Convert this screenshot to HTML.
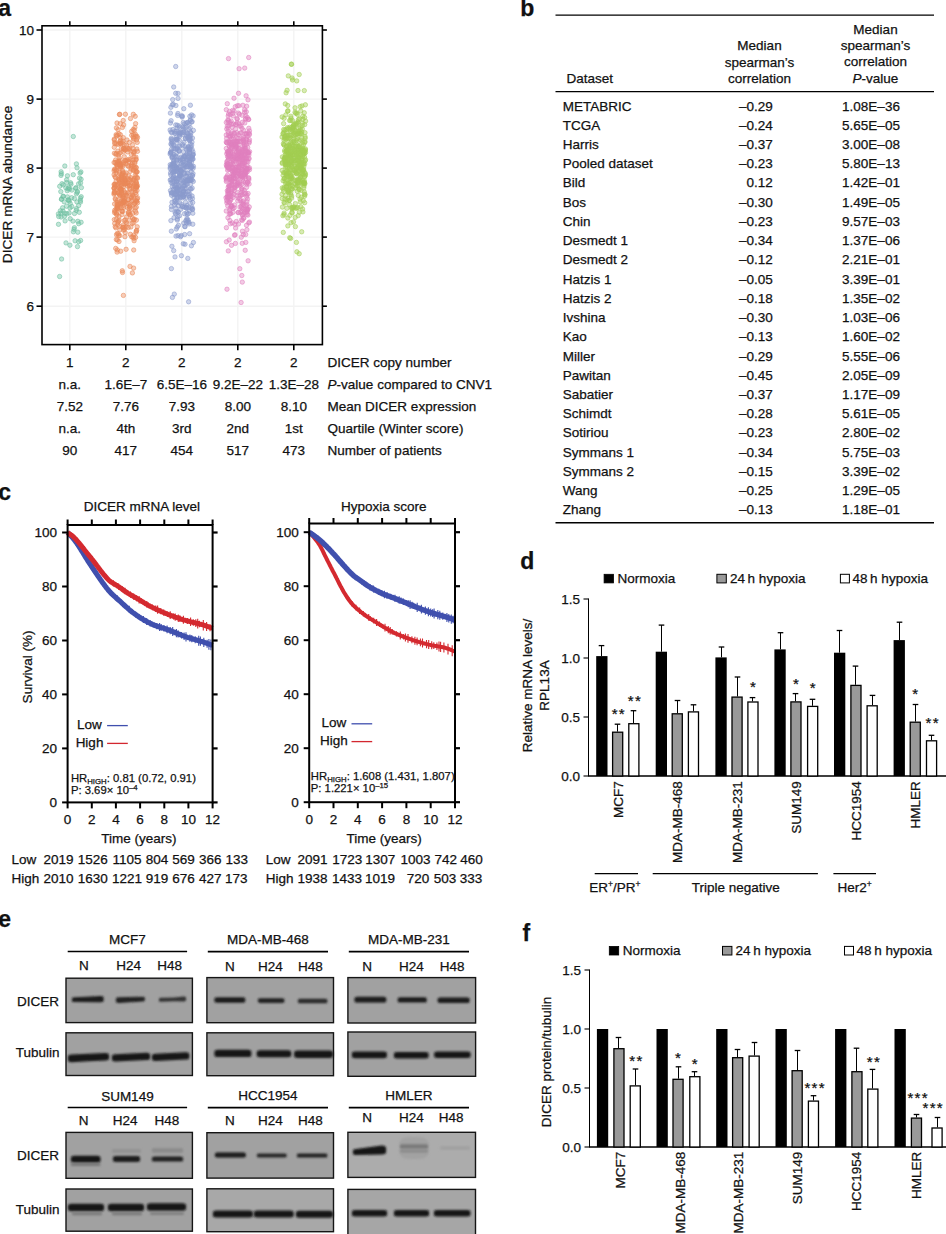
<!DOCTYPE html>
<html><head><meta charset="utf-8"><style>
html,body{margin:0;padding:0;background:#fff;}
svg{display:block;}
text{font-family:"Liberation Sans",sans-serif;fill:#111;stroke:#111;stroke-width:0.25px;}
circle{stroke-width:0.7px;}
.g0{fill:rgba(112,192,162,0.42);stroke:rgba(112,192,162,0.8);}
.g1{fill:rgba(234,136,88,0.42);stroke:rgba(234,136,88,0.8);}
.g2{fill:rgba(138,154,205,0.42);stroke:rgba(138,154,205,0.8);}
.g3{fill:rgba(224,128,190,0.42);stroke:rgba(224,128,190,0.8);}
.g4{fill:rgba(162,206,80,0.42);stroke:rgba(162,206,80,0.8);}
</style></head><body>
<svg width="946" height="1234" viewBox="0 0 946 1234">
<defs><filter id="bl" x="-20%" y="-100%" width="140%" height="300%"><feGaussianBlur stdDeviation="0.9"/></filter></defs>
<rect width="946" height="1234" fill="#fff"/>
<text x="-1.8" y="16.3" font-size="23" font-weight="bold">a</text>
<text x="520.2" y="16" font-size="23" font-weight="bold">b</text>
<text x="-1.8" y="499.6" font-size="23" font-weight="bold">c</text>
<text x="520.2" y="568.5" font-size="23" font-weight="bold">d</text>
<text x="-1.8" y="927.4" font-size="23" font-weight="bold">e</text>
<text x="522.4" y="940.8" font-size="23" font-weight="bold">f</text>
<line x1="42.0" y1="306.2" x2="322.4" y2="306.2" stroke="#f3f3f3" stroke-width="1.4"/>
<line x1="42.0" y1="237.1" x2="322.4" y2="237.1" stroke="#f3f3f3" stroke-width="1.4"/>
<line x1="42.0" y1="168.1" x2="322.4" y2="168.1" stroke="#f3f3f3" stroke-width="1.4"/>
<line x1="42.0" y1="99.1" x2="322.4" y2="99.1" stroke="#f3f3f3" stroke-width="1.4"/>
<line x1="42.0" y1="30.0" x2="322.4" y2="30.0" stroke="#f3f3f3" stroke-width="1.4"/>
<line x1="69.8" y1="25.8" x2="69.8" y2="344.6" stroke="#f3f3f3" stroke-width="1.4"/>
<line x1="125.8" y1="25.8" x2="125.8" y2="344.6" stroke="#f3f3f3" stroke-width="1.4"/>
<line x1="181.8" y1="25.8" x2="181.8" y2="344.6" stroke="#f3f3f3" stroke-width="1.4"/>
<line x1="237.8" y1="25.8" x2="237.8" y2="344.6" stroke="#f3f3f3" stroke-width="1.4"/>
<line x1="293.8" y1="25.8" x2="293.8" y2="344.6" stroke="#f3f3f3" stroke-width="1.4"/>
<circle class="g3" cx="248.3" cy="158.8" r="2.2"/>
<circle class="g1" cx="131.4" cy="197.6" r="2.2"/>
<circle class="g3" cx="229.6" cy="185.7" r="2.2"/>
<circle class="g4" cx="304.4" cy="183.1" r="2.2"/>
<circle class="g2" cx="191.4" cy="245.8" r="2.2"/>
<circle class="g4" cx="302.8" cy="142.0" r="2.2"/>
<circle class="g4" cx="296.0" cy="123.2" r="2.2"/>
<circle class="g1" cx="130.3" cy="234.3" r="2.2"/>
<circle class="g4" cx="283.0" cy="133.9" r="2.2"/>
<circle class="g3" cx="248.6" cy="177.7" r="2.2"/>
<circle class="g4" cx="303.5" cy="152.9" r="2.2"/>
<circle class="g3" cx="229.5" cy="150.3" r="2.2"/>
<circle class="g4" cx="305.5" cy="152.5" r="2.2"/>
<circle class="g0" cx="77.5" cy="246.6" r="2.2"/>
<circle class="g3" cx="237.0" cy="118.4" r="2.2"/>
<circle class="g3" cx="229.9" cy="142.6" r="2.2"/>
<circle class="g1" cx="124.0" cy="148.0" r="2.2"/>
<circle class="g2" cx="172.3" cy="186.6" r="2.2"/>
<circle class="g4" cx="291.2" cy="164.3" r="2.2"/>
<circle class="g3" cx="228.4" cy="152.9" r="2.2"/>
<circle class="g4" cx="298.3" cy="165.0" r="2.2"/>
<circle class="g4" cx="298.8" cy="128.3" r="2.2"/>
<circle class="g1" cx="132.0" cy="191.7" r="2.2"/>
<circle class="g3" cx="230.7" cy="179.4" r="2.2"/>
<circle class="g0" cx="73.0" cy="221.1" r="2.2"/>
<circle class="g3" cx="233.4" cy="159.8" r="2.2"/>
<circle class="g1" cx="127.5" cy="148.1" r="2.2"/>
<circle class="g4" cx="288.4" cy="190.6" r="2.2"/>
<circle class="g3" cx="234.1" cy="154.2" r="2.2"/>
<circle class="g1" cx="121.5" cy="193.8" r="2.2"/>
<circle class="g1" cx="136.1" cy="194.5" r="2.2"/>
<circle class="g2" cx="177.3" cy="218.9" r="2.2"/>
<circle class="g1" cx="119.5" cy="172.4" r="2.2"/>
<circle class="g4" cx="301.1" cy="181.5" r="2.2"/>
<circle class="g2" cx="181.6" cy="204.6" r="2.2"/>
<circle class="g3" cx="230.5" cy="193.6" r="2.2"/>
<circle class="g2" cx="180.2" cy="193.3" r="2.2"/>
<circle class="g2" cx="185.0" cy="244.2" r="2.2"/>
<circle class="g4" cx="297.8" cy="145.2" r="2.2"/>
<circle class="g2" cx="192.1" cy="121.6" r="2.2"/>
<circle class="g4" cx="300.9" cy="166.4" r="2.2"/>
<circle class="g2" cx="177.2" cy="148.1" r="2.2"/>
<circle class="g4" cx="293.9" cy="206.9" r="2.2"/>
<circle class="g1" cx="133.1" cy="204.7" r="2.2"/>
<circle class="g1" cx="126.1" cy="222.5" r="2.2"/>
<circle class="g3" cx="235.8" cy="159.0" r="2.2"/>
<circle class="g4" cx="299.3" cy="189.7" r="2.2"/>
<circle class="g3" cx="243.3" cy="181.3" r="2.2"/>
<circle class="g1" cx="134.4" cy="151.7" r="2.2"/>
<circle class="g2" cx="178.0" cy="93.4" r="2.2"/>
<circle class="g1" cx="129.2" cy="206.1" r="2.2"/>
<circle class="g3" cx="227.3" cy="103.7" r="2.2"/>
<circle class="g2" cx="172.1" cy="139.9" r="2.2"/>
<circle class="g1" cx="131.7" cy="135.3" r="2.2"/>
<circle class="g2" cx="183.6" cy="164.5" r="2.2"/>
<circle class="g1" cx="136.2" cy="213.0" r="2.2"/>
<circle class="g1" cx="134.0" cy="156.8" r="2.2"/>
<circle class="g1" cx="129.9" cy="205.1" r="2.2"/>
<circle class="g2" cx="193.3" cy="154.3" r="2.2"/>
<circle class="g0" cx="76.5" cy="208.6" r="2.2"/>
<circle class="g3" cx="249.4" cy="139.6" r="2.2"/>
<circle class="g0" cx="68.1" cy="200.0" r="2.2"/>
<circle class="g1" cx="136.5" cy="183.2" r="2.2"/>
<circle class="g3" cx="242.8" cy="201.8" r="2.2"/>
<circle class="g4" cx="294.6" cy="160.4" r="2.2"/>
<circle class="g4" cx="295.8" cy="171.4" r="2.2"/>
<circle class="g1" cx="133.7" cy="153.1" r="2.2"/>
<circle class="g3" cx="242.8" cy="176.7" r="2.2"/>
<circle class="g3" cx="239.1" cy="148.9" r="2.2"/>
<circle class="g3" cx="244.9" cy="168.5" r="2.2"/>
<circle class="g2" cx="191.2" cy="171.7" r="2.2"/>
<circle class="g1" cx="116.6" cy="170.0" r="2.2"/>
<circle class="g1" cx="136.1" cy="232.3" r="2.2"/>
<circle class="g1" cx="121.5" cy="194.4" r="2.2"/>
<circle class="g4" cx="282.3" cy="187.9" r="2.2"/>
<circle class="g4" cx="283.4" cy="143.7" r="2.2"/>
<circle class="g3" cx="230.7" cy="200.2" r="2.2"/>
<circle class="g3" cx="226.3" cy="164.9" r="2.2"/>
<circle class="g3" cx="247.2" cy="171.9" r="2.2"/>
<circle class="g1" cx="123.9" cy="201.2" r="2.2"/>
<circle class="g1" cx="122.2" cy="179.2" r="2.2"/>
<circle class="g4" cx="293.2" cy="146.3" r="2.2"/>
<circle class="g1" cx="118.7" cy="177.9" r="2.2"/>
<circle class="g2" cx="171.4" cy="268.6" r="2.2"/>
<circle class="g1" cx="117.8" cy="151.2" r="2.2"/>
<circle class="g4" cx="291.8" cy="212.4" r="2.2"/>
<circle class="g3" cx="228.3" cy="250.9" r="2.2"/>
<circle class="g1" cx="127.7" cy="165.8" r="2.2"/>
<circle class="g4" cx="285.6" cy="183.5" r="2.2"/>
<circle class="g4" cx="286.5" cy="162.3" r="2.2"/>
<circle class="g2" cx="184.0" cy="181.7" r="2.2"/>
<circle class="g1" cx="130.7" cy="177.7" r="2.2"/>
<circle class="g2" cx="176.2" cy="191.2" r="2.2"/>
<circle class="g0" cx="69.2" cy="212.9" r="2.2"/>
<circle class="g3" cx="227.5" cy="163.9" r="2.2"/>
<circle class="g3" cx="227.6" cy="170.2" r="2.2"/>
<circle class="g3" cx="232.1" cy="184.4" r="2.2"/>
<circle class="g1" cx="119.5" cy="226.3" r="2.2"/>
<circle class="g2" cx="171.4" cy="149.4" r="2.2"/>
<circle class="g4" cx="298.0" cy="151.4" r="2.2"/>
<circle class="g3" cx="227.9" cy="217.7" r="2.2"/>
<circle class="g2" cx="184.4" cy="123.9" r="2.2"/>
<circle class="g2" cx="186.1" cy="132.4" r="2.2"/>
<circle class="g1" cx="136.3" cy="182.6" r="2.2"/>
<circle class="g4" cx="298.0" cy="90.5" r="2.2"/>
<circle class="g4" cx="302.4" cy="169.3" r="2.2"/>
<circle class="g4" cx="291.6" cy="166.6" r="2.2"/>
<circle class="g2" cx="183.6" cy="196.5" r="2.2"/>
<circle class="g2" cx="175.2" cy="168.3" r="2.2"/>
<circle class="g1" cx="114.9" cy="211.6" r="2.2"/>
<circle class="g3" cx="226.2" cy="135.0" r="2.2"/>
<circle class="g3" cx="228.1" cy="153.1" r="2.2"/>
<circle class="g1" cx="121.3" cy="207.8" r="2.2"/>
<circle class="g4" cx="287.4" cy="168.0" r="2.2"/>
<circle class="g2" cx="174.4" cy="172.1" r="2.2"/>
<circle class="g2" cx="184.1" cy="185.5" r="2.2"/>
<circle class="g0" cx="81.1" cy="222.3" r="2.2"/>
<circle class="g3" cx="245.0" cy="171.4" r="2.2"/>
<circle class="g1" cx="120.5" cy="152.8" r="2.2"/>
<circle class="g3" cx="247.4" cy="117.5" r="2.2"/>
<circle class="g0" cx="69.5" cy="189.0" r="2.2"/>
<circle class="g1" cx="119.5" cy="182.7" r="2.2"/>
<circle class="g2" cx="191.0" cy="147.0" r="2.2"/>
<circle class="g4" cx="303.3" cy="174.2" r="2.2"/>
<circle class="g3" cx="228.5" cy="120.4" r="2.2"/>
<circle class="g2" cx="186.2" cy="149.3" r="2.2"/>
<circle class="g1" cx="118.7" cy="161.0" r="2.2"/>
<circle class="g4" cx="291.3" cy="166.2" r="2.2"/>
<circle class="g2" cx="183.7" cy="196.9" r="2.2"/>
<circle class="g4" cx="299.2" cy="253.7" r="2.2"/>
<circle class="g4" cx="298.5" cy="133.4" r="2.2"/>
<circle class="g3" cx="228.2" cy="187.2" r="2.2"/>
<circle class="g4" cx="294.7" cy="130.0" r="2.2"/>
<circle class="g3" cx="241.7" cy="173.4" r="2.2"/>
<circle class="g4" cx="302.6" cy="171.2" r="2.2"/>
<circle class="g3" cx="241.6" cy="219.7" r="2.2"/>
<circle class="g3" cx="229.1" cy="202.1" r="2.2"/>
<circle class="g4" cx="295.0" cy="112.3" r="2.2"/>
<circle class="g1" cx="123.2" cy="225.1" r="2.2"/>
<circle class="g1" cx="126.1" cy="249.3" r="2.2"/>
<circle class="g4" cx="286.8" cy="149.9" r="2.2"/>
<circle class="g3" cx="244.6" cy="109.8" r="2.2"/>
<circle class="g3" cx="243.6" cy="138.9" r="2.2"/>
<circle class="g3" cx="248.6" cy="152.8" r="2.2"/>
<circle class="g0" cx="77.8" cy="232.2" r="2.2"/>
<circle class="g3" cx="236.6" cy="147.4" r="2.2"/>
<circle class="g2" cx="180.2" cy="181.6" r="2.2"/>
<circle class="g2" cx="191.7" cy="145.0" r="2.2"/>
<circle class="g4" cx="298.7" cy="161.5" r="2.2"/>
<circle class="g2" cx="190.5" cy="184.4" r="2.2"/>
<circle class="g1" cx="118.9" cy="179.9" r="2.2"/>
<circle class="g0" cx="65.8" cy="187.8" r="2.2"/>
<circle class="g2" cx="188.8" cy="178.1" r="2.2"/>
<circle class="g4" cx="289.7" cy="162.8" r="2.2"/>
<circle class="g4" cx="304.0" cy="150.7" r="2.2"/>
<circle class="g1" cx="132.5" cy="162.9" r="2.2"/>
<circle class="g2" cx="187.3" cy="184.2" r="2.2"/>
<circle class="g4" cx="302.9" cy="211.9" r="2.2"/>
<circle class="g4" cx="288.4" cy="183.6" r="2.2"/>
<circle class="g2" cx="190.2" cy="120.3" r="2.2"/>
<circle class="g2" cx="179.3" cy="187.2" r="2.2"/>
<circle class="g4" cx="305.4" cy="104.8" r="2.2"/>
<circle class="g1" cx="115.0" cy="184.1" r="2.2"/>
<circle class="g2" cx="189.5" cy="210.7" r="2.2"/>
<circle class="g3" cx="226.7" cy="142.7" r="2.2"/>
<circle class="g2" cx="192.3" cy="157.1" r="2.2"/>
<circle class="g2" cx="183.1" cy="159.7" r="2.2"/>
<circle class="g1" cx="127.8" cy="186.1" r="2.2"/>
<circle class="g3" cx="238.2" cy="212.5" r="2.2"/>
<circle class="g4" cx="289.2" cy="173.0" r="2.2"/>
<circle class="g1" cx="114.7" cy="223.4" r="2.2"/>
<circle class="g1" cx="129.1" cy="179.7" r="2.2"/>
<circle class="g4" cx="283.1" cy="175.3" r="2.2"/>
<circle class="g2" cx="189.9" cy="116.2" r="2.2"/>
<circle class="g4" cx="292.2" cy="177.5" r="2.2"/>
<circle class="g3" cx="242.3" cy="282.1" r="2.2"/>
<circle class="g4" cx="286.3" cy="151.2" r="2.2"/>
<circle class="g3" cx="235.1" cy="234.8" r="2.2"/>
<circle class="g1" cx="120.1" cy="182.8" r="2.2"/>
<circle class="g3" cx="226.6" cy="138.5" r="2.2"/>
<circle class="g4" cx="302.6" cy="209.0" r="2.2"/>
<circle class="g1" cx="126.9" cy="207.3" r="2.2"/>
<circle class="g2" cx="180.1" cy="186.5" r="2.2"/>
<circle class="g2" cx="172.7" cy="99.6" r="2.2"/>
<circle class="g3" cx="228.2" cy="157.0" r="2.2"/>
<circle class="g2" cx="176.7" cy="170.3" r="2.2"/>
<circle class="g3" cx="241.1" cy="302.5" r="2.2"/>
<circle class="g1" cx="114.6" cy="212.7" r="2.2"/>
<circle class="g3" cx="241.3" cy="171.7" r="2.2"/>
<circle class="g4" cx="288.1" cy="163.4" r="2.2"/>
<circle class="g4" cx="296.9" cy="186.1" r="2.2"/>
<circle class="g1" cx="136.3" cy="207.2" r="2.2"/>
<circle class="g3" cx="227.6" cy="161.0" r="2.2"/>
<circle class="g4" cx="285.3" cy="103.9" r="2.2"/>
<circle class="g1" cx="131.1" cy="169.0" r="2.2"/>
<circle class="g1" cx="116.1" cy="173.1" r="2.2"/>
<circle class="g3" cx="249.4" cy="167.8" r="2.2"/>
<circle class="g4" cx="289.2" cy="164.3" r="2.2"/>
<circle class="g4" cx="292.0" cy="208.9" r="2.2"/>
<circle class="g2" cx="174.5" cy="165.7" r="2.2"/>
<circle class="g2" cx="173.6" cy="144.4" r="2.2"/>
<circle class="g2" cx="182.7" cy="134.4" r="2.2"/>
<circle class="g3" cx="234.2" cy="190.4" r="2.2"/>
<circle class="g4" cx="282.0" cy="137.0" r="2.2"/>
<circle class="g2" cx="170.8" cy="152.0" r="2.2"/>
<circle class="g3" cx="245.5" cy="119.1" r="2.2"/>
<circle class="g4" cx="295.9" cy="180.7" r="2.2"/>
<circle class="g0" cx="73.3" cy="174.7" r="2.2"/>
<circle class="g2" cx="174.7" cy="149.0" r="2.2"/>
<circle class="g2" cx="176.6" cy="211.5" r="2.2"/>
<circle class="g1" cx="124.2" cy="144.6" r="2.2"/>
<circle class="g2" cx="180.6" cy="175.4" r="2.2"/>
<circle class="g4" cx="298.2" cy="215.6" r="2.2"/>
<circle class="g3" cx="232.6" cy="176.0" r="2.2"/>
<circle class="g3" cx="241.6" cy="152.4" r="2.2"/>
<circle class="g0" cx="58.5" cy="224.3" r="2.2"/>
<circle class="g3" cx="237.2" cy="122.8" r="2.2"/>
<circle class="g2" cx="175.3" cy="170.9" r="2.2"/>
<circle class="g2" cx="175.0" cy="185.4" r="2.2"/>
<circle class="g2" cx="174.5" cy="186.8" r="2.2"/>
<circle class="g3" cx="227.0" cy="163.6" r="2.2"/>
<circle class="g0" cx="80.6" cy="240.5" r="2.2"/>
<circle class="g2" cx="177.1" cy="187.8" r="2.2"/>
<circle class="g4" cx="291.3" cy="64.2" r="2.2"/>
<circle class="g2" cx="177.3" cy="125.2" r="2.2"/>
<circle class="g2" cx="190.4" cy="203.1" r="2.2"/>
<circle class="g3" cx="232.5" cy="171.0" r="2.2"/>
<circle class="g4" cx="289.1" cy="135.2" r="2.2"/>
<circle class="g2" cx="189.1" cy="223.9" r="2.2"/>
<circle class="g4" cx="303.1" cy="153.9" r="2.2"/>
<circle class="g2" cx="172.3" cy="104.8" r="2.2"/>
<circle class="g1" cx="114.1" cy="162.5" r="2.2"/>
<circle class="g3" cx="231.3" cy="205.3" r="2.2"/>
<circle class="g3" cx="238.2" cy="138.3" r="2.2"/>
<circle class="g2" cx="176.9" cy="149.0" r="2.2"/>
<circle class="g2" cx="183.3" cy="243.8" r="2.2"/>
<circle class="g4" cx="299.2" cy="157.3" r="2.2"/>
<circle class="g4" cx="303.7" cy="151.9" r="2.2"/>
<circle class="g4" cx="290.6" cy="147.9" r="2.2"/>
<circle class="g1" cx="129.6" cy="220.1" r="2.2"/>
<circle class="g3" cx="230.7" cy="164.1" r="2.2"/>
<circle class="g2" cx="179.6" cy="127.7" r="2.2"/>
<circle class="g2" cx="192.6" cy="155.5" r="2.2"/>
<circle class="g2" cx="177.6" cy="139.3" r="2.2"/>
<circle class="g4" cx="287.5" cy="176.8" r="2.2"/>
<circle class="g3" cx="226.3" cy="109.7" r="2.2"/>
<circle class="g3" cx="244.5" cy="156.3" r="2.2"/>
<circle class="g3" cx="239.8" cy="161.9" r="2.2"/>
<circle class="g4" cx="304.9" cy="183.5" r="2.2"/>
<circle class="g3" cx="232.3" cy="174.4" r="2.2"/>
<circle class="g4" cx="297.6" cy="133.8" r="2.2"/>
<circle class="g2" cx="179.7" cy="176.2" r="2.2"/>
<circle class="g3" cx="230.0" cy="141.8" r="2.2"/>
<circle class="g1" cx="114.3" cy="139.9" r="2.2"/>
<circle class="g4" cx="298.1" cy="146.8" r="2.2"/>
<circle class="g4" cx="300.6" cy="155.1" r="2.2"/>
<circle class="g4" cx="303.6" cy="169.9" r="2.2"/>
<circle class="g3" cx="226.7" cy="200.3" r="2.2"/>
<circle class="g2" cx="189.1" cy="180.4" r="2.2"/>
<circle class="g3" cx="240.9" cy="176.0" r="2.2"/>
<circle class="g4" cx="302.3" cy="173.2" r="2.2"/>
<circle class="g2" cx="177.3" cy="227.0" r="2.2"/>
<circle class="g2" cx="186.7" cy="212.7" r="2.2"/>
<circle class="g3" cx="245.8" cy="170.2" r="2.2"/>
<circle class="g1" cx="117.6" cy="184.5" r="2.2"/>
<circle class="g2" cx="185.7" cy="207.7" r="2.2"/>
<circle class="g4" cx="300.7" cy="148.7" r="2.2"/>
<circle class="g2" cx="188.7" cy="147.2" r="2.2"/>
<circle class="g4" cx="301.2" cy="174.9" r="2.2"/>
<circle class="g3" cx="232.1" cy="142.6" r="2.2"/>
<circle class="g1" cx="122.0" cy="211.2" r="2.2"/>
<circle class="g4" cx="286.6" cy="188.6" r="2.2"/>
<circle class="g4" cx="292.5" cy="188.9" r="2.2"/>
<circle class="g3" cx="231.3" cy="191.7" r="2.2"/>
<circle class="g3" cx="244.9" cy="133.8" r="2.2"/>
<circle class="g3" cx="246.6" cy="106.2" r="2.2"/>
<circle class="g2" cx="176.3" cy="181.6" r="2.2"/>
<circle class="g3" cx="243.5" cy="218.2" r="2.2"/>
<circle class="g2" cx="171.0" cy="179.7" r="2.2"/>
<circle class="g2" cx="179.3" cy="151.4" r="2.2"/>
<circle class="g2" cx="180.1" cy="193.8" r="2.2"/>
<circle class="g1" cx="119.8" cy="235.6" r="2.2"/>
<circle class="g4" cx="301.9" cy="137.8" r="2.2"/>
<circle class="g1" cx="117.8" cy="222.2" r="2.2"/>
<circle class="g4" cx="284.8" cy="151.7" r="2.2"/>
<circle class="g2" cx="186.1" cy="123.1" r="2.2"/>
<circle class="g1" cx="124.3" cy="156.7" r="2.2"/>
<circle class="g4" cx="297.6" cy="179.5" r="2.2"/>
<circle class="g3" cx="246.7" cy="184.2" r="2.2"/>
<circle class="g2" cx="183.7" cy="185.8" r="2.2"/>
<circle class="g2" cx="186.1" cy="183.8" r="2.2"/>
<circle class="g4" cx="288.7" cy="142.3" r="2.2"/>
<circle class="g2" cx="190.6" cy="179.6" r="2.2"/>
<circle class="g2" cx="172.6" cy="172.8" r="2.2"/>
<circle class="g1" cx="131.4" cy="209.0" r="2.2"/>
<circle class="g3" cx="247.9" cy="215.1" r="2.2"/>
<circle class="g2" cx="179.6" cy="173.6" r="2.2"/>
<circle class="g4" cx="297.3" cy="148.9" r="2.2"/>
<circle class="g3" cx="234.0" cy="172.4" r="2.2"/>
<circle class="g4" cx="292.7" cy="154.2" r="2.2"/>
<circle class="g3" cx="234.1" cy="111.0" r="2.2"/>
<circle class="g3" cx="231.2" cy="121.0" r="2.2"/>
<circle class="g3" cx="243.2" cy="137.1" r="2.2"/>
<circle class="g3" cx="236.9" cy="141.5" r="2.2"/>
<circle class="g0" cx="71.7" cy="197.7" r="2.2"/>
<circle class="g3" cx="246.5" cy="168.8" r="2.2"/>
<circle class="g3" cx="240.6" cy="200.7" r="2.2"/>
<circle class="g1" cx="127.0" cy="223.9" r="2.2"/>
<circle class="g3" cx="240.6" cy="212.3" r="2.2"/>
<circle class="g2" cx="184.9" cy="173.4" r="2.2"/>
<circle class="g4" cx="290.0" cy="182.5" r="2.2"/>
<circle class="g2" cx="186.0" cy="175.9" r="2.2"/>
<circle class="g4" cx="292.5" cy="80.0" r="2.2"/>
<circle class="g2" cx="184.7" cy="234.5" r="2.2"/>
<circle class="g1" cx="130.1" cy="215.0" r="2.2"/>
<circle class="g3" cx="230.1" cy="142.2" r="2.2"/>
<circle class="g1" cx="117.4" cy="239.9" r="2.2"/>
<circle class="g3" cx="244.0" cy="204.9" r="2.2"/>
<circle class="g1" cx="130.3" cy="189.5" r="2.2"/>
<circle class="g3" cx="245.3" cy="173.1" r="2.2"/>
<circle class="g3" cx="232.4" cy="156.0" r="2.2"/>
<circle class="g2" cx="189.0" cy="129.3" r="2.2"/>
<circle class="g1" cx="128.9" cy="175.9" r="2.2"/>
<circle class="g3" cx="244.8" cy="171.0" r="2.2"/>
<circle class="g2" cx="189.5" cy="151.5" r="2.2"/>
<circle class="g2" cx="187.7" cy="137.8" r="2.2"/>
<circle class="g4" cx="285.7" cy="162.4" r="2.2"/>
<circle class="g1" cx="127.5" cy="160.1" r="2.2"/>
<circle class="g3" cx="240.2" cy="168.4" r="2.2"/>
<circle class="g3" cx="242.2" cy="169.5" r="2.2"/>
<circle class="g1" cx="136.2" cy="159.1" r="2.2"/>
<circle class="g2" cx="190.6" cy="168.6" r="2.2"/>
<circle class="g3" cx="230.9" cy="198.6" r="2.2"/>
<circle class="g2" cx="186.7" cy="180.0" r="2.2"/>
<circle class="g4" cx="289.1" cy="172.8" r="2.2"/>
<circle class="g1" cx="126.1" cy="227.1" r="2.2"/>
<circle class="g3" cx="230.9" cy="196.4" r="2.2"/>
<circle class="g1" cx="124.9" cy="236.7" r="2.2"/>
<circle class="g3" cx="237.7" cy="170.7" r="2.2"/>
<circle class="g4" cx="298.9" cy="157.6" r="2.2"/>
<circle class="g1" cx="131.2" cy="196.7" r="2.2"/>
<circle class="g1" cx="127.9" cy="178.8" r="2.2"/>
<circle class="g4" cx="304.7" cy="124.6" r="2.2"/>
<circle class="g0" cx="59.7" cy="186.3" r="2.2"/>
<circle class="g2" cx="176.0" cy="184.3" r="2.2"/>
<circle class="g1" cx="120.7" cy="251.2" r="2.2"/>
<circle class="g2" cx="170.9" cy="220.6" r="2.2"/>
<circle class="g2" cx="192.5" cy="138.1" r="2.2"/>
<circle class="g2" cx="178.4" cy="182.3" r="2.2"/>
<circle class="g4" cx="286.7" cy="160.9" r="2.2"/>
<circle class="g4" cx="299.4" cy="146.5" r="2.2"/>
<circle class="g4" cx="304.8" cy="172.5" r="2.2"/>
<circle class="g0" cx="74.0" cy="229.3" r="2.2"/>
<circle class="g3" cx="239.9" cy="154.1" r="2.2"/>
<circle class="g4" cx="297.6" cy="171.9" r="2.2"/>
<circle class="g1" cx="117.3" cy="249.9" r="2.2"/>
<circle class="g3" cx="241.6" cy="176.3" r="2.2"/>
<circle class="g1" cx="121.8" cy="189.6" r="2.2"/>
<circle class="g4" cx="290.0" cy="153.8" r="2.2"/>
<circle class="g1" cx="117.4" cy="135.2" r="2.2"/>
<circle class="g3" cx="238.5" cy="93.3" r="2.2"/>
<circle class="g1" cx="119.8" cy="229.9" r="2.2"/>
<circle class="g3" cx="228.4" cy="166.9" r="2.2"/>
<circle class="g4" cx="302.4" cy="123.1" r="2.2"/>
<circle class="g3" cx="234.2" cy="143.1" r="2.2"/>
<circle class="g4" cx="300.8" cy="151.7" r="2.2"/>
<circle class="g1" cx="118.7" cy="221.4" r="2.2"/>
<circle class="g3" cx="230.2" cy="213.1" r="2.2"/>
<circle class="g4" cx="295.5" cy="188.0" r="2.2"/>
<circle class="g3" cx="242.9" cy="149.4" r="2.2"/>
<circle class="g1" cx="118.7" cy="164.4" r="2.2"/>
<circle class="g2" cx="178.2" cy="205.8" r="2.2"/>
<circle class="g4" cx="295.5" cy="134.8" r="2.2"/>
<circle class="g2" cx="174.0" cy="217.7" r="2.2"/>
<circle class="g0" cx="58.4" cy="213.9" r="2.2"/>
<circle class="g1" cx="117.3" cy="206.5" r="2.2"/>
<circle class="g4" cx="300.5" cy="167.9" r="2.2"/>
<circle class="g4" cx="301.4" cy="197.2" r="2.2"/>
<circle class="g3" cx="241.8" cy="188.9" r="2.2"/>
<circle class="g2" cx="191.7" cy="167.3" r="2.2"/>
<circle class="g2" cx="171.5" cy="193.0" r="2.2"/>
<circle class="g1" cx="119.7" cy="174.0" r="2.2"/>
<circle class="g4" cx="301.8" cy="173.4" r="2.2"/>
<circle class="g2" cx="179.7" cy="136.1" r="2.2"/>
<circle class="g2" cx="186.5" cy="180.9" r="2.2"/>
<circle class="g2" cx="175.5" cy="149.1" r="2.2"/>
<circle class="g2" cx="176.4" cy="156.7" r="2.2"/>
<circle class="g1" cx="120.1" cy="165.4" r="2.2"/>
<circle class="g1" cx="122.6" cy="227.3" r="2.2"/>
<circle class="g2" cx="179.5" cy="175.8" r="2.2"/>
<circle class="g2" cx="186.9" cy="205.5" r="2.2"/>
<circle class="g1" cx="115.6" cy="199.4" r="2.2"/>
<circle class="g3" cx="227.2" cy="196.9" r="2.2"/>
<circle class="g1" cx="135.2" cy="175.2" r="2.2"/>
<circle class="g2" cx="185.6" cy="192.0" r="2.2"/>
<circle class="g4" cx="297.5" cy="182.5" r="2.2"/>
<circle class="g4" cx="287.1" cy="90.3" r="2.2"/>
<circle class="g1" cx="134.9" cy="127.4" r="2.2"/>
<circle class="g2" cx="177.0" cy="165.6" r="2.2"/>
<circle class="g4" cx="291.3" cy="178.0" r="2.2"/>
<circle class="g0" cx="76.4" cy="163.9" r="2.2"/>
<circle class="g0" cx="76.4" cy="193.9" r="2.2"/>
<circle class="g4" cx="284.4" cy="145.4" r="2.2"/>
<circle class="g1" cx="114.3" cy="147.3" r="2.2"/>
<circle class="g1" cx="119.4" cy="114.5" r="2.2"/>
<circle class="g3" cx="238.1" cy="184.8" r="2.2"/>
<circle class="g3" cx="229.6" cy="155.7" r="2.2"/>
<circle class="g3" cx="230.5" cy="143.8" r="2.2"/>
<circle class="g3" cx="229.9" cy="169.1" r="2.2"/>
<circle class="g1" cx="122.8" cy="211.5" r="2.2"/>
<circle class="g2" cx="174.3" cy="169.8" r="2.2"/>
<circle class="g1" cx="131.4" cy="164.6" r="2.2"/>
<circle class="g1" cx="134.3" cy="130.2" r="2.2"/>
<circle class="g1" cx="123.3" cy="195.7" r="2.2"/>
<circle class="g1" cx="120.9" cy="143.7" r="2.2"/>
<circle class="g4" cx="286.4" cy="186.9" r="2.2"/>
<circle class="g2" cx="174.0" cy="197.7" r="2.2"/>
<circle class="g3" cx="233.4" cy="170.2" r="2.2"/>
<circle class="g3" cx="237.0" cy="185.7" r="2.2"/>
<circle class="g2" cx="190.4" cy="156.5" r="2.2"/>
<circle class="g0" cx="69.2" cy="201.1" r="2.2"/>
<circle class="g3" cx="242.1" cy="194.8" r="2.2"/>
<circle class="g2" cx="171.1" cy="165.8" r="2.2"/>
<circle class="g4" cx="289.6" cy="120.5" r="2.2"/>
<circle class="g1" cx="116.8" cy="214.9" r="2.2"/>
<circle class="g2" cx="177.9" cy="178.2" r="2.2"/>
<circle class="g4" cx="288.6" cy="144.8" r="2.2"/>
<circle class="g2" cx="189.5" cy="140.7" r="2.2"/>
<circle class="g3" cx="247.2" cy="211.4" r="2.2"/>
<circle class="g1" cx="134.4" cy="178.3" r="2.2"/>
<circle class="g4" cx="284.1" cy="118.3" r="2.2"/>
<circle class="g3" cx="243.5" cy="158.6" r="2.2"/>
<circle class="g1" cx="119.6" cy="194.4" r="2.2"/>
<circle class="g4" cx="298.8" cy="182.0" r="2.2"/>
<circle class="g1" cx="137.5" cy="137.6" r="2.2"/>
<circle class="g3" cx="234.8" cy="224.2" r="2.2"/>
<circle class="g4" cx="298.9" cy="131.6" r="2.2"/>
<circle class="g2" cx="180.8" cy="194.0" r="2.2"/>
<circle class="g0" cx="81.2" cy="196.7" r="2.2"/>
<circle class="g3" cx="246.1" cy="95.8" r="2.2"/>
<circle class="g4" cx="284.1" cy="213.1" r="2.2"/>
<circle class="g1" cx="114.4" cy="153.2" r="2.2"/>
<circle class="g3" cx="235.3" cy="178.6" r="2.2"/>
<circle class="g2" cx="190.5" cy="176.4" r="2.2"/>
<circle class="g0" cx="66.5" cy="206.2" r="2.2"/>
<circle class="g2" cx="170.5" cy="173.0" r="2.2"/>
<circle class="g1" cx="114.3" cy="139.1" r="2.2"/>
<circle class="g1" cx="133.2" cy="129.5" r="2.2"/>
<circle class="g4" cx="286.4" cy="174.7" r="2.2"/>
<circle class="g3" cx="235.0" cy="181.8" r="2.2"/>
<circle class="g4" cx="294.6" cy="166.4" r="2.2"/>
<circle class="g2" cx="170.1" cy="130.0" r="2.2"/>
<circle class="g2" cx="191.6" cy="114.9" r="2.2"/>
<circle class="g1" cx="122.9" cy="171.8" r="2.2"/>
<circle class="g2" cx="192.0" cy="142.1" r="2.2"/>
<circle class="g1" cx="115.1" cy="193.2" r="2.2"/>
<circle class="g3" cx="227.7" cy="201.5" r="2.2"/>
<circle class="g2" cx="176.9" cy="140.8" r="2.2"/>
<circle class="g2" cx="171.3" cy="152.0" r="2.2"/>
<circle class="g2" cx="180.9" cy="170.6" r="2.2"/>
<circle class="g2" cx="191.3" cy="156.8" r="2.2"/>
<circle class="g3" cx="248.0" cy="161.8" r="2.2"/>
<circle class="g3" cx="242.7" cy="208.8" r="2.2"/>
<circle class="g0" cx="75.7" cy="188.2" r="2.2"/>
<circle class="g0" cx="80.9" cy="171.9" r="2.2"/>
<circle class="g3" cx="235.6" cy="228.0" r="2.2"/>
<circle class="g1" cx="133.2" cy="148.8" r="2.2"/>
<circle class="g3" cx="235.3" cy="106.6" r="2.2"/>
<circle class="g2" cx="181.4" cy="255.7" r="2.2"/>
<circle class="g3" cx="242.1" cy="159.7" r="2.2"/>
<circle class="g2" cx="190.0" cy="180.6" r="2.2"/>
<circle class="g1" cx="136.8" cy="149.0" r="2.2"/>
<circle class="g1" cx="126.4" cy="217.0" r="2.2"/>
<circle class="g1" cx="122.5" cy="272.5" r="2.2"/>
<circle class="g2" cx="187.2" cy="214.3" r="2.2"/>
<circle class="g1" cx="130.4" cy="180.0" r="2.2"/>
<circle class="g1" cx="135.9" cy="157.1" r="2.2"/>
<circle class="g1" cx="120.4" cy="134.7" r="2.2"/>
<circle class="g1" cx="124.4" cy="175.5" r="2.2"/>
<circle class="g3" cx="246.1" cy="206.0" r="2.2"/>
<circle class="g1" cx="114.5" cy="191.3" r="2.2"/>
<circle class="g2" cx="172.8" cy="178.1" r="2.2"/>
<circle class="g4" cx="301.6" cy="161.9" r="2.2"/>
<circle class="g1" cx="120.7" cy="189.1" r="2.2"/>
<circle class="g3" cx="245.0" cy="166.5" r="2.2"/>
<circle class="g0" cx="77.3" cy="192.4" r="2.2"/>
<circle class="g1" cx="122.4" cy="198.3" r="2.2"/>
<circle class="g4" cx="304.7" cy="163.9" r="2.2"/>
<circle class="g3" cx="235.7" cy="146.8" r="2.2"/>
<circle class="g4" cx="289.7" cy="137.7" r="2.2"/>
<circle class="g4" cx="297.3" cy="191.3" r="2.2"/>
<circle class="g1" cx="134.1" cy="240.7" r="2.2"/>
<circle class="g0" cx="61.5" cy="199.3" r="2.2"/>
<circle class="g1" cx="124.2" cy="178.0" r="2.2"/>
<circle class="g4" cx="282.2" cy="198.5" r="2.2"/>
<circle class="g3" cx="230.0" cy="122.4" r="2.2"/>
<circle class="g4" cx="292.1" cy="127.0" r="2.2"/>
<circle class="g2" cx="178.6" cy="169.0" r="2.2"/>
<circle class="g1" cx="124.0" cy="201.6" r="2.2"/>
<circle class="g3" cx="231.7" cy="179.3" r="2.2"/>
<circle class="g4" cx="296.7" cy="80.9" r="2.2"/>
<circle class="g4" cx="294.3" cy="170.7" r="2.2"/>
<circle class="g1" cx="134.1" cy="166.8" r="2.2"/>
<circle class="g1" cx="137.4" cy="178.3" r="2.2"/>
<circle class="g2" cx="179.2" cy="150.3" r="2.2"/>
<circle class="g3" cx="231.5" cy="245.3" r="2.2"/>
<circle class="g1" cx="117.7" cy="224.5" r="2.2"/>
<circle class="g1" cx="132.5" cy="218.2" r="2.2"/>
<circle class="g3" cx="233.3" cy="115.9" r="2.2"/>
<circle class="g1" cx="121.7" cy="174.6" r="2.2"/>
<circle class="g3" cx="238.8" cy="148.3" r="2.2"/>
<circle class="g3" cx="227.1" cy="176.9" r="2.2"/>
<circle class="g4" cx="282.1" cy="116.9" r="2.2"/>
<circle class="g3" cx="247.6" cy="198.9" r="2.2"/>
<circle class="g3" cx="247.5" cy="182.5" r="2.2"/>
<circle class="g2" cx="175.7" cy="124.9" r="2.2"/>
<circle class="g0" cx="79.3" cy="212.3" r="2.2"/>
<circle class="g1" cx="117.3" cy="209.0" r="2.2"/>
<circle class="g2" cx="183.3" cy="191.4" r="2.2"/>
<circle class="g1" cx="123.5" cy="151.4" r="2.2"/>
<circle class="g3" cx="232.0" cy="170.7" r="2.2"/>
<circle class="g0" cx="73.3" cy="136.5" r="2.2"/>
<circle class="g4" cx="299.2" cy="162.6" r="2.2"/>
<circle class="g3" cx="245.8" cy="116.0" r="2.2"/>
<circle class="g3" cx="226.8" cy="202.8" r="2.2"/>
<circle class="g2" cx="179.9" cy="134.1" r="2.2"/>
<circle class="g4" cx="284.2" cy="159.4" r="2.2"/>
<circle class="g4" cx="282.4" cy="162.5" r="2.2"/>
<circle class="g2" cx="177.1" cy="201.8" r="2.2"/>
<circle class="g3" cx="228.8" cy="152.8" r="2.2"/>
<circle class="g3" cx="245.8" cy="242.4" r="2.2"/>
<circle class="g3" cx="231.5" cy="124.3" r="2.2"/>
<circle class="g0" cx="62.0" cy="183.7" r="2.2"/>
<circle class="g3" cx="229.3" cy="186.1" r="2.2"/>
<circle class="g2" cx="192.2" cy="175.4" r="2.2"/>
<circle class="g2" cx="170.9" cy="144.0" r="2.2"/>
<circle class="g3" cx="241.0" cy="126.2" r="2.2"/>
<circle class="g2" cx="186.1" cy="197.6" r="2.2"/>
<circle class="g4" cx="300.8" cy="111.0" r="2.2"/>
<circle class="g1" cx="131.5" cy="182.5" r="2.2"/>
<circle class="g1" cx="129.7" cy="185.4" r="2.2"/>
<circle class="g4" cx="286.0" cy="171.5" r="2.2"/>
<circle class="g4" cx="297.0" cy="123.6" r="2.2"/>
<circle class="g4" cx="297.0" cy="160.6" r="2.2"/>
<circle class="g3" cx="245.7" cy="148.3" r="2.2"/>
<circle class="g2" cx="190.7" cy="179.9" r="2.2"/>
<circle class="g2" cx="189.6" cy="197.3" r="2.2"/>
<circle class="g4" cx="282.9" cy="215.7" r="2.2"/>
<circle class="g1" cx="131.1" cy="166.2" r="2.2"/>
<circle class="g2" cx="173.8" cy="145.4" r="2.2"/>
<circle class="g1" cx="136.9" cy="136.2" r="2.2"/>
<circle class="g2" cx="176.1" cy="131.3" r="2.2"/>
<circle class="g1" cx="129.9" cy="207.4" r="2.2"/>
<circle class="g1" cx="125.2" cy="232.6" r="2.2"/>
<circle class="g3" cx="246.9" cy="229.7" r="2.2"/>
<circle class="g0" cx="79.5" cy="178.1" r="2.2"/>
<circle class="g2" cx="176.1" cy="194.4" r="2.2"/>
<circle class="g3" cx="240.3" cy="163.7" r="2.2"/>
<circle class="g4" cx="294.0" cy="142.6" r="2.2"/>
<circle class="g2" cx="183.8" cy="108.7" r="2.2"/>
<circle class="g2" cx="187.6" cy="180.7" r="2.2"/>
<circle class="g1" cx="129.0" cy="159.2" r="2.2"/>
<circle class="g1" cx="129.7" cy="148.2" r="2.2"/>
<circle class="g4" cx="289.9" cy="215.4" r="2.2"/>
<circle class="g1" cx="124.0" cy="177.9" r="2.2"/>
<circle class="g3" cx="233.1" cy="212.3" r="2.2"/>
<circle class="g2" cx="175.9" cy="208.3" r="2.2"/>
<circle class="g4" cx="299.3" cy="179.2" r="2.2"/>
<circle class="g2" cx="176.5" cy="160.9" r="2.2"/>
<circle class="g2" cx="174.3" cy="182.2" r="2.2"/>
<circle class="g3" cx="238.4" cy="134.8" r="2.2"/>
<circle class="g4" cx="287.7" cy="105.5" r="2.2"/>
<circle class="g3" cx="227.3" cy="126.3" r="2.2"/>
<circle class="g3" cx="231.4" cy="149.0" r="2.2"/>
<circle class="g4" cx="284.1" cy="140.4" r="2.2"/>
<circle class="g3" cx="232.6" cy="110.4" r="2.2"/>
<circle class="g2" cx="193.1" cy="168.3" r="2.2"/>
<circle class="g3" cx="228.9" cy="125.7" r="2.2"/>
<circle class="g1" cx="136.0" cy="159.9" r="2.2"/>
<circle class="g4" cx="290.0" cy="186.0" r="2.2"/>
<circle class="g3" cx="242.3" cy="215.0" r="2.2"/>
<circle class="g4" cx="300.9" cy="168.9" r="2.2"/>
<circle class="g4" cx="284.7" cy="150.3" r="2.2"/>
<circle class="g1" cx="123.7" cy="162.7" r="2.2"/>
<circle class="g3" cx="234.8" cy="178.4" r="2.2"/>
<circle class="g2" cx="175.7" cy="93.3" r="2.2"/>
<circle class="g3" cx="240.1" cy="176.0" r="2.2"/>
<circle class="g1" cx="126.0" cy="195.0" r="2.2"/>
<circle class="g2" cx="170.8" cy="175.0" r="2.2"/>
<circle class="g4" cx="289.1" cy="168.5" r="2.2"/>
<circle class="g1" cx="136.8" cy="201.1" r="2.2"/>
<circle class="g2" cx="192.6" cy="209.0" r="2.2"/>
<circle class="g1" cx="123.2" cy="120.5" r="2.2"/>
<circle class="g3" cx="235.9" cy="145.6" r="2.2"/>
<circle class="g4" cx="288.6" cy="192.5" r="2.2"/>
<circle class="g0" cx="64.8" cy="213.3" r="2.2"/>
<circle class="g4" cx="299.3" cy="141.6" r="2.2"/>
<circle class="g3" cx="237.2" cy="119.2" r="2.2"/>
<circle class="g4" cx="285.8" cy="162.8" r="2.2"/>
<circle class="g3" cx="245.4" cy="168.4" r="2.2"/>
<circle class="g2" cx="187.7" cy="164.8" r="2.2"/>
<circle class="g3" cx="246.6" cy="133.9" r="2.2"/>
<circle class="g1" cx="114.8" cy="143.7" r="2.2"/>
<circle class="g1" cx="125.2" cy="192.7" r="2.2"/>
<circle class="g3" cx="235.1" cy="187.3" r="2.2"/>
<circle class="g3" cx="236.4" cy="144.4" r="2.2"/>
<circle class="g3" cx="248.8" cy="179.9" r="2.2"/>
<circle class="g4" cx="301.4" cy="159.0" r="2.2"/>
<circle class="g3" cx="234.3" cy="207.7" r="2.2"/>
<circle class="g3" cx="230.7" cy="182.1" r="2.2"/>
<circle class="g4" cx="293.9" cy="158.4" r="2.2"/>
<circle class="g3" cx="236.6" cy="141.9" r="2.2"/>
<circle class="g2" cx="170.2" cy="164.7" r="2.2"/>
<circle class="g4" cx="289.5" cy="145.8" r="2.2"/>
<circle class="g0" cx="67.9" cy="188.8" r="2.2"/>
<circle class="g3" cx="232.9" cy="208.3" r="2.2"/>
<circle class="g1" cx="125.2" cy="219.9" r="2.2"/>
<circle class="g2" cx="183.3" cy="183.0" r="2.2"/>
<circle class="g3" cx="231.2" cy="145.0" r="2.2"/>
<circle class="g2" cx="180.4" cy="197.6" r="2.2"/>
<circle class="g3" cx="249.3" cy="133.6" r="2.2"/>
<circle class="g2" cx="177.3" cy="191.5" r="2.2"/>
<circle class="g4" cx="290.6" cy="143.3" r="2.2"/>
<circle class="g2" cx="175.2" cy="200.5" r="2.2"/>
<circle class="g2" cx="172.9" cy="129.5" r="2.2"/>
<circle class="g2" cx="192.9" cy="154.7" r="2.2"/>
<circle class="g2" cx="178.3" cy="197.3" r="2.2"/>
<circle class="g4" cx="291.0" cy="118.1" r="2.2"/>
<circle class="g3" cx="228.1" cy="131.5" r="2.2"/>
<circle class="g1" cx="119.2" cy="153.3" r="2.2"/>
<circle class="g3" cx="226.3" cy="181.4" r="2.2"/>
<circle class="g3" cx="248.7" cy="119.5" r="2.2"/>
<circle class="g2" cx="188.3" cy="194.0" r="2.2"/>
<circle class="g1" cx="130.5" cy="118.5" r="2.2"/>
<circle class="g3" cx="226.8" cy="161.7" r="2.2"/>
<circle class="g1" cx="126.6" cy="195.3" r="2.2"/>
<circle class="g0" cx="68.8" cy="187.4" r="2.2"/>
<circle class="g4" cx="298.4" cy="181.3" r="2.2"/>
<circle class="g1" cx="137.2" cy="226.8" r="2.2"/>
<circle class="g0" cx="60.4" cy="210.8" r="2.2"/>
<circle class="g4" cx="284.2" cy="178.3" r="2.2"/>
<circle class="g4" cx="289.1" cy="156.5" r="2.2"/>
<circle class="g3" cx="248.7" cy="57.5" r="2.2"/>
<circle class="g2" cx="190.2" cy="127.6" r="2.2"/>
<circle class="g2" cx="174.4" cy="205.2" r="2.2"/>
<circle class="g3" cx="237.7" cy="156.3" r="2.2"/>
<circle class="g1" cx="120.0" cy="143.3" r="2.2"/>
<circle class="g0" cx="66.8" cy="213.8" r="2.2"/>
<circle class="g3" cx="243.7" cy="154.7" r="2.2"/>
<circle class="g2" cx="178.1" cy="212.1" r="2.2"/>
<circle class="g4" cx="297.8" cy="166.6" r="2.2"/>
<circle class="g1" cx="121.5" cy="191.0" r="2.2"/>
<circle class="g0" cx="60.8" cy="191.6" r="2.2"/>
<circle class="g1" cx="134.6" cy="162.2" r="2.2"/>
<circle class="g2" cx="192.1" cy="196.0" r="2.2"/>
<circle class="g2" cx="183.8" cy="132.4" r="2.2"/>
<circle class="g2" cx="193.4" cy="130.4" r="2.2"/>
<circle class="g1" cx="120.9" cy="188.8" r="2.2"/>
<circle class="g1" cx="125.1" cy="150.0" r="2.2"/>
<circle class="g2" cx="177.2" cy="188.2" r="2.2"/>
<circle class="g3" cx="248.9" cy="154.9" r="2.2"/>
<circle class="g4" cx="287.8" cy="191.4" r="2.2"/>
<circle class="g3" cx="235.7" cy="170.0" r="2.2"/>
<circle class="g0" cx="80.5" cy="202.1" r="2.2"/>
<circle class="g1" cx="123.5" cy="198.5" r="2.2"/>
<circle class="g2" cx="179.4" cy="134.8" r="2.2"/>
<circle class="g2" cx="174.1" cy="194.4" r="2.2"/>
<circle class="g1" cx="126.0" cy="163.5" r="2.2"/>
<circle class="g4" cx="283.8" cy="144.7" r="2.2"/>
<circle class="g0" cx="80.4" cy="198.1" r="2.2"/>
<circle class="g4" cx="305.3" cy="173.7" r="2.2"/>
<circle class="g1" cx="114.7" cy="210.3" r="2.2"/>
<circle class="g4" cx="285.8" cy="138.1" r="2.2"/>
<circle class="g4" cx="304.0" cy="152.2" r="2.2"/>
<circle class="g2" cx="174.6" cy="133.3" r="2.2"/>
<circle class="g3" cx="239.8" cy="268.7" r="2.2"/>
<circle class="g1" cx="128.8" cy="166.5" r="2.2"/>
<circle class="g2" cx="176.2" cy="171.2" r="2.2"/>
<circle class="g1" cx="117.3" cy="161.8" r="2.2"/>
<circle class="g1" cx="120.0" cy="143.4" r="2.2"/>
<circle class="g3" cx="240.3" cy="155.2" r="2.2"/>
<circle class="g0" cx="62.9" cy="196.4" r="2.2"/>
<circle class="g1" cx="121.4" cy="164.4" r="2.2"/>
<circle class="g0" cx="76.2" cy="210.4" r="2.2"/>
<circle class="g4" cx="303.2" cy="182.1" r="2.2"/>
<circle class="g3" cx="246.7" cy="212.2" r="2.2"/>
<circle class="g2" cx="189.8" cy="194.1" r="2.2"/>
<circle class="g4" cx="287.6" cy="163.0" r="2.2"/>
<circle class="g1" cx="119.0" cy="241.5" r="2.2"/>
<circle class="g2" cx="177.6" cy="115.4" r="2.2"/>
<circle class="g1" cx="130.9" cy="184.5" r="2.2"/>
<circle class="g3" cx="249.3" cy="141.6" r="2.2"/>
<circle class="g1" cx="135.6" cy="123.6" r="2.2"/>
<circle class="g1" cx="114.0" cy="194.2" r="2.2"/>
<circle class="g3" cx="233.7" cy="175.1" r="2.2"/>
<circle class="g2" cx="171.6" cy="195.2" r="2.2"/>
<circle class="g2" cx="190.5" cy="135.7" r="2.2"/>
<circle class="g3" cx="227.3" cy="165.9" r="2.2"/>
<circle class="g3" cx="238.0" cy="144.8" r="2.2"/>
<circle class="g3" cx="227.8" cy="167.3" r="2.2"/>
<circle class="g3" cx="241.7" cy="169.3" r="2.2"/>
<circle class="g1" cx="132.8" cy="200.6" r="2.2"/>
<circle class="g3" cx="241.6" cy="208.0" r="2.2"/>
<circle class="g4" cx="293.5" cy="125.8" r="2.2"/>
<circle class="g3" cx="231.2" cy="206.5" r="2.2"/>
<circle class="g4" cx="299.3" cy="212.2" r="2.2"/>
<circle class="g4" cx="288.5" cy="157.9" r="2.2"/>
<circle class="g4" cx="298.4" cy="157.0" r="2.2"/>
<circle class="g3" cx="234.5" cy="235.2" r="2.2"/>
<circle class="g2" cx="171.3" cy="231.2" r="2.2"/>
<circle class="g4" cx="304.3" cy="191.9" r="2.2"/>
<circle class="g0" cx="61.1" cy="217.0" r="2.2"/>
<circle class="g1" cx="127.8" cy="183.1" r="2.2"/>
<circle class="g3" cx="246.9" cy="201.6" r="2.2"/>
<circle class="g1" cx="133.1" cy="151.8" r="2.2"/>
<circle class="g3" cx="227.8" cy="120.1" r="2.2"/>
<circle class="g2" cx="170.4" cy="113.1" r="2.2"/>
<circle class="g2" cx="176.0" cy="139.6" r="2.2"/>
<circle class="g2" cx="189.8" cy="164.8" r="2.2"/>
<circle class="g2" cx="176.5" cy="181.9" r="2.2"/>
<circle class="g4" cx="292.4" cy="130.7" r="2.2"/>
<circle class="g4" cx="293.8" cy="124.3" r="2.2"/>
<circle class="g2" cx="191.1" cy="189.1" r="2.2"/>
<circle class="g4" cx="294.8" cy="154.5" r="2.2"/>
<circle class="g1" cx="123.6" cy="124.9" r="2.2"/>
<circle class="g2" cx="175.8" cy="194.5" r="2.2"/>
<circle class="g1" cx="116.2" cy="164.4" r="2.2"/>
<circle class="g3" cx="234.9" cy="185.8" r="2.2"/>
<circle class="g4" cx="290.7" cy="138.6" r="2.2"/>
<circle class="g3" cx="226.3" cy="122.4" r="2.2"/>
<circle class="g1" cx="137.2" cy="177.5" r="2.2"/>
<circle class="g3" cx="231.4" cy="147.5" r="2.2"/>
<circle class="g2" cx="171.4" cy="138.1" r="2.2"/>
<circle class="g4" cx="285.7" cy="139.2" r="2.2"/>
<circle class="g2" cx="193.4" cy="242.5" r="2.2"/>
<circle class="g4" cx="284.8" cy="130.0" r="2.2"/>
<circle class="g2" cx="175.0" cy="256.9" r="2.2"/>
<circle class="g4" cx="293.6" cy="141.6" r="2.2"/>
<circle class="g2" cx="183.1" cy="168.8" r="2.2"/>
<circle class="g4" cx="290.6" cy="238.4" r="2.2"/>
<circle class="g1" cx="116.3" cy="136.1" r="2.2"/>
<circle class="g4" cx="298.0" cy="121.8" r="2.2"/>
<circle class="g1" cx="133.6" cy="186.4" r="2.2"/>
<circle class="g2" cx="188.6" cy="301.8" r="2.2"/>
<circle class="g2" cx="186.2" cy="188.5" r="2.2"/>
<circle class="g1" cx="133.0" cy="237.1" r="2.2"/>
<circle class="g0" cx="70.2" cy="203.5" r="2.2"/>
<circle class="g1" cx="132.4" cy="272.9" r="2.2"/>
<circle class="g3" cx="226.7" cy="128.9" r="2.2"/>
<circle class="g1" cx="116.5" cy="214.0" r="2.2"/>
<circle class="g2" cx="179.1" cy="189.3" r="2.2"/>
<circle class="g4" cx="302.8" cy="116.2" r="2.2"/>
<circle class="g3" cx="232.3" cy="193.0" r="2.2"/>
<circle class="g1" cx="133.6" cy="268.1" r="2.2"/>
<circle class="g2" cx="187.7" cy="152.1" r="2.2"/>
<circle class="g4" cx="297.4" cy="162.9" r="2.2"/>
<circle class="g1" cx="126.5" cy="145.2" r="2.2"/>
<circle class="g1" cx="136.6" cy="201.3" r="2.2"/>
<circle class="g1" cx="130.0" cy="266.4" r="2.2"/>
<circle class="g1" cx="126.6" cy="183.6" r="2.2"/>
<circle class="g1" cx="136.5" cy="139.9" r="2.2"/>
<circle class="g3" cx="249.2" cy="158.6" r="2.2"/>
<circle class="g1" cx="128.3" cy="227.5" r="2.2"/>
<circle class="g2" cx="187.8" cy="258.4" r="2.2"/>
<circle class="g3" cx="233.1" cy="174.9" r="2.2"/>
<circle class="g3" cx="228.2" cy="197.6" r="2.2"/>
<circle class="g4" cx="296.5" cy="173.9" r="2.2"/>
<circle class="g2" cx="192.3" cy="180.1" r="2.2"/>
<circle class="g2" cx="189.0" cy="179.3" r="2.2"/>
<circle class="g2" cx="178.2" cy="192.6" r="2.2"/>
<circle class="g3" cx="240.9" cy="141.6" r="2.2"/>
<circle class="g4" cx="290.6" cy="194.4" r="2.2"/>
<circle class="g4" cx="303.8" cy="162.0" r="2.2"/>
<circle class="g2" cx="184.0" cy="156.4" r="2.2"/>
<circle class="g4" cx="291.3" cy="153.5" r="2.2"/>
<circle class="g2" cx="177.3" cy="220.1" r="2.2"/>
<circle class="g3" cx="249.5" cy="169.7" r="2.2"/>
<circle class="g1" cx="121.8" cy="211.1" r="2.2"/>
<circle class="g3" cx="238.3" cy="212.4" r="2.2"/>
<circle class="g4" cx="305.5" cy="150.0" r="2.2"/>
<circle class="g2" cx="190.4" cy="105.2" r="2.2"/>
<circle class="g2" cx="189.1" cy="124.3" r="2.2"/>
<circle class="g4" cx="294.9" cy="151.5" r="2.2"/>
<circle class="g3" cx="237.1" cy="158.5" r="2.2"/>
<circle class="g1" cx="120.8" cy="166.9" r="2.2"/>
<circle class="g1" cx="118.3" cy="155.1" r="2.2"/>
<circle class="g1" cx="115.7" cy="248.4" r="2.2"/>
<circle class="g3" cx="242.8" cy="146.0" r="2.2"/>
<circle class="g1" cx="123.5" cy="202.6" r="2.2"/>
<circle class="g1" cx="122.3" cy="270.8" r="2.2"/>
<circle class="g2" cx="172.1" cy="164.2" r="2.2"/>
<circle class="g3" cx="227.3" cy="196.8" r="2.2"/>
<circle class="g4" cx="300.6" cy="168.5" r="2.2"/>
<circle class="g1" cx="135.9" cy="184.2" r="2.2"/>
<circle class="g4" cx="294.7" cy="180.0" r="2.2"/>
<circle class="g2" cx="175.9" cy="187.8" r="2.2"/>
<circle class="g4" cx="290.5" cy="176.6" r="2.2"/>
<circle class="g2" cx="189.0" cy="222.2" r="2.2"/>
<circle class="g4" cx="298.3" cy="146.6" r="2.2"/>
<circle class="g4" cx="295.2" cy="217.4" r="2.2"/>
<circle class="g3" cx="239.2" cy="123.9" r="2.2"/>
<circle class="g3" cx="247.6" cy="152.7" r="2.2"/>
<circle class="g3" cx="244.9" cy="209.3" r="2.2"/>
<circle class="g3" cx="230.9" cy="133.9" r="2.2"/>
<circle class="g3" cx="228.7" cy="169.2" r="2.2"/>
<circle class="g3" cx="230.6" cy="152.1" r="2.2"/>
<circle class="g3" cx="228.1" cy="192.0" r="2.2"/>
<circle class="g4" cx="296.2" cy="153.7" r="2.2"/>
<circle class="g3" cx="248.8" cy="178.5" r="2.2"/>
<circle class="g4" cx="300.6" cy="177.5" r="2.2"/>
<circle class="g2" cx="174.5" cy="201.7" r="2.2"/>
<circle class="g0" cx="62.6" cy="207.8" r="2.2"/>
<circle class="g3" cx="227.6" cy="175.1" r="2.2"/>
<circle class="g3" cx="248.4" cy="168.7" r="2.2"/>
<circle class="g1" cx="131.3" cy="154.5" r="2.2"/>
<circle class="g4" cx="299.0" cy="189.2" r="2.2"/>
<circle class="g3" cx="248.1" cy="193.5" r="2.2"/>
<circle class="g0" cx="78.7" cy="241.7" r="2.2"/>
<circle class="g3" cx="232.3" cy="222.9" r="2.2"/>
<circle class="g4" cx="292.5" cy="151.3" r="2.2"/>
<circle class="g0" cx="78.6" cy="205.5" r="2.2"/>
<circle class="g3" cx="226.3" cy="148.5" r="2.2"/>
<circle class="g1" cx="128.4" cy="212.4" r="2.2"/>
<circle class="g2" cx="190.5" cy="119.9" r="2.2"/>
<circle class="g3" cx="242.6" cy="214.7" r="2.2"/>
<circle class="g2" cx="173.1" cy="166.3" r="2.2"/>
<circle class="g3" cx="245.6" cy="176.2" r="2.2"/>
<circle class="g1" cx="116.1" cy="153.5" r="2.2"/>
<circle class="g4" cx="298.6" cy="180.3" r="2.2"/>
<circle class="g2" cx="181.3" cy="235.5" r="2.2"/>
<circle class="g2" cx="187.2" cy="122.5" r="2.2"/>
<circle class="g3" cx="235.7" cy="147.6" r="2.2"/>
<circle class="g2" cx="183.8" cy="192.5" r="2.2"/>
<circle class="g3" cx="246.7" cy="159.1" r="2.2"/>
<circle class="g1" cx="133.8" cy="138.6" r="2.2"/>
<circle class="g4" cx="292.0" cy="178.9" r="2.2"/>
<circle class="g1" cx="132.9" cy="179.8" r="2.2"/>
<circle class="g4" cx="282.4" cy="207.1" r="2.2"/>
<circle class="g4" cx="285.3" cy="167.2" r="2.2"/>
<circle class="g3" cx="247.0" cy="195.1" r="2.2"/>
<circle class="g3" cx="249.4" cy="134.7" r="2.2"/>
<circle class="g4" cx="303.4" cy="169.9" r="2.2"/>
<circle class="g3" cx="243.7" cy="130.4" r="2.2"/>
<circle class="g3" cx="244.8" cy="177.1" r="2.2"/>
<circle class="g3" cx="237.4" cy="183.3" r="2.2"/>
<circle class="g2" cx="175.7" cy="166.4" r="2.2"/>
<circle class="g3" cx="247.4" cy="209.9" r="2.2"/>
<circle class="g1" cx="123.3" cy="137.6" r="2.2"/>
<circle class="g1" cx="114.0" cy="188.3" r="2.2"/>
<circle class="g3" cx="242.4" cy="231.2" r="2.2"/>
<circle class="g3" cx="230.6" cy="164.8" r="2.2"/>
<circle class="g1" cx="117.0" cy="202.5" r="2.2"/>
<circle class="g2" cx="190.5" cy="158.4" r="2.2"/>
<circle class="g4" cx="300.4" cy="127.4" r="2.2"/>
<circle class="g1" cx="135.6" cy="237.4" r="2.2"/>
<circle class="g4" cx="302.1" cy="146.5" r="2.2"/>
<circle class="g3" cx="241.6" cy="176.2" r="2.2"/>
<circle class="g0" cx="60.9" cy="213.2" r="2.2"/>
<circle class="g2" cx="171.7" cy="141.8" r="2.2"/>
<circle class="g3" cx="247.1" cy="152.0" r="2.2"/>
<circle class="g3" cx="226.5" cy="180.1" r="2.2"/>
<circle class="g3" cx="244.7" cy="174.2" r="2.2"/>
<circle class="g3" cx="242.0" cy="164.6" r="2.2"/>
<circle class="g3" cx="245.7" cy="118.6" r="2.2"/>
<circle class="g1" cx="121.4" cy="192.4" r="2.2"/>
<circle class="g4" cx="287.9" cy="198.3" r="2.2"/>
<circle class="g3" cx="246.6" cy="196.9" r="2.2"/>
<circle class="g3" cx="245.9" cy="151.7" r="2.2"/>
<circle class="g2" cx="176.9" cy="159.9" r="2.2"/>
<circle class="g2" cx="189.6" cy="162.3" r="2.2"/>
<circle class="g3" cx="234.1" cy="188.1" r="2.2"/>
<circle class="g1" cx="120.5" cy="188.7" r="2.2"/>
<circle class="g3" cx="228.8" cy="185.4" r="2.2"/>
<circle class="g1" cx="114.5" cy="169.2" r="2.2"/>
<circle class="g2" cx="177.2" cy="127.9" r="2.2"/>
<circle class="g4" cx="293.1" cy="135.2" r="2.2"/>
<circle class="g4" cx="285.6" cy="195.5" r="2.2"/>
<circle class="g3" cx="242.3" cy="220.4" r="2.2"/>
<circle class="g1" cx="126.0" cy="172.9" r="2.2"/>
<circle class="g2" cx="186.9" cy="136.3" r="2.2"/>
<circle class="g3" cx="227.7" cy="205.9" r="2.2"/>
<circle class="g3" cx="235.3" cy="145.9" r="2.2"/>
<circle class="g1" cx="118.2" cy="192.8" r="2.2"/>
<circle class="g2" cx="186.7" cy="160.6" r="2.2"/>
<circle class="g4" cx="300.2" cy="201.8" r="2.2"/>
<circle class="g4" cx="297.3" cy="152.7" r="2.2"/>
<circle class="g3" cx="231.2" cy="159.0" r="2.2"/>
<circle class="g2" cx="189.3" cy="152.9" r="2.2"/>
<circle class="g0" cx="64.2" cy="201.8" r="2.2"/>
<circle class="g1" cx="133.7" cy="180.1" r="2.2"/>
<circle class="g1" cx="117.1" cy="204.3" r="2.2"/>
<circle class="g4" cx="286.7" cy="150.4" r="2.2"/>
<circle class="g2" cx="184.3" cy="194.4" r="2.2"/>
<circle class="g3" cx="236.9" cy="155.0" r="2.2"/>
<circle class="g4" cx="291.1" cy="161.4" r="2.2"/>
<circle class="g4" cx="285.0" cy="181.1" r="2.2"/>
<circle class="g4" cx="295.9" cy="124.6" r="2.2"/>
<circle class="g3" cx="232.6" cy="167.4" r="2.2"/>
<circle class="g4" cx="294.2" cy="158.3" r="2.2"/>
<circle class="g3" cx="237.7" cy="192.5" r="2.2"/>
<circle class="g2" cx="175.9" cy="105.5" r="2.2"/>
<circle class="g4" cx="289.5" cy="204.6" r="2.2"/>
<circle class="g0" cx="70.6" cy="182.8" r="2.2"/>
<circle class="g2" cx="189.6" cy="233.7" r="2.2"/>
<circle class="g2" cx="178.3" cy="212.0" r="2.2"/>
<circle class="g3" cx="248.1" cy="209.2" r="2.2"/>
<circle class="g2" cx="187.1" cy="133.3" r="2.2"/>
<circle class="g3" cx="237.3" cy="173.0" r="2.2"/>
<circle class="g0" cx="77.4" cy="191.4" r="2.2"/>
<circle class="g3" cx="243.5" cy="140.4" r="2.2"/>
<circle class="g2" cx="186.9" cy="172.9" r="2.2"/>
<circle class="g3" cx="243.5" cy="213.5" r="2.2"/>
<circle class="g2" cx="178.0" cy="98.4" r="2.2"/>
<circle class="g2" cx="173.7" cy="87.0" r="2.2"/>
<circle class="g2" cx="171.1" cy="120.7" r="2.2"/>
<circle class="g3" cx="230.3" cy="114.6" r="2.2"/>
<circle class="g2" cx="172.7" cy="183.5" r="2.2"/>
<circle class="g4" cx="286.2" cy="166.8" r="2.2"/>
<circle class="g0" cx="77.0" cy="167.8" r="2.2"/>
<circle class="g2" cx="188.5" cy="213.6" r="2.2"/>
<circle class="g3" cx="230.3" cy="136.6" r="2.2"/>
<circle class="g4" cx="284.1" cy="158.0" r="2.2"/>
<circle class="g2" cx="182.2" cy="194.9" r="2.2"/>
<circle class="g3" cx="238.1" cy="151.9" r="2.2"/>
<circle class="g2" cx="191.9" cy="207.1" r="2.2"/>
<circle class="g1" cx="129.4" cy="185.8" r="2.2"/>
<circle class="g2" cx="172.7" cy="181.6" r="2.2"/>
<circle class="g1" cx="123.6" cy="230.1" r="2.2"/>
<circle class="g4" cx="295.4" cy="226.6" r="2.2"/>
<circle class="g2" cx="186.7" cy="160.0" r="2.2"/>
<circle class="g4" cx="287.9" cy="135.1" r="2.2"/>
<circle class="g3" cx="247.7" cy="147.5" r="2.2"/>
<circle class="g3" cx="231.1" cy="185.0" r="2.2"/>
<circle class="g3" cx="231.6" cy="156.4" r="2.2"/>
<circle class="g2" cx="171.7" cy="144.9" r="2.2"/>
<circle class="g4" cx="293.4" cy="172.5" r="2.2"/>
<circle class="g1" cx="129.2" cy="142.5" r="2.2"/>
<circle class="g4" cx="298.7" cy="170.3" r="2.2"/>
<circle class="g4" cx="286.7" cy="173.6" r="2.2"/>
<circle class="g3" cx="233.6" cy="177.6" r="2.2"/>
<circle class="g4" cx="290.4" cy="155.4" r="2.2"/>
<circle class="g4" cx="297.4" cy="114.4" r="2.2"/>
<circle class="g2" cx="177.2" cy="168.8" r="2.2"/>
<circle class="g2" cx="192.7" cy="202.5" r="2.2"/>
<circle class="g2" cx="189.8" cy="136.6" r="2.2"/>
<circle class="g4" cx="285.2" cy="164.0" r="2.2"/>
<circle class="g1" cx="133.8" cy="238.2" r="2.2"/>
<circle class="g2" cx="191.2" cy="166.8" r="2.2"/>
<circle class="g4" cx="286.9" cy="135.7" r="2.2"/>
<circle class="g4" cx="294.0" cy="170.4" r="2.2"/>
<circle class="g1" cx="131.5" cy="200.8" r="2.2"/>
<circle class="g3" cx="242.8" cy="204.1" r="2.2"/>
<circle class="g1" cx="137.6" cy="197.9" r="2.2"/>
<circle class="g3" cx="229.3" cy="151.2" r="2.2"/>
<circle class="g3" cx="239.7" cy="152.4" r="2.2"/>
<circle class="g3" cx="244.3" cy="174.2" r="2.2"/>
<circle class="g2" cx="189.5" cy="161.0" r="2.2"/>
<circle class="g4" cx="287.4" cy="150.2" r="2.2"/>
<circle class="g1" cx="135.9" cy="167.6" r="2.2"/>
<circle class="g3" cx="236.7" cy="166.8" r="2.2"/>
<circle class="g3" cx="244.5" cy="173.8" r="2.2"/>
<circle class="g3" cx="242.8" cy="161.0" r="2.2"/>
<circle class="g2" cx="179.5" cy="215.7" r="2.2"/>
<circle class="g4" cx="287.5" cy="127.6" r="2.2"/>
<circle class="g4" cx="297.5" cy="183.0" r="2.2"/>
<circle class="g1" cx="114.1" cy="174.7" r="2.2"/>
<circle class="g2" cx="187.0" cy="218.4" r="2.2"/>
<circle class="g3" cx="248.2" cy="152.8" r="2.2"/>
<circle class="g4" cx="291.5" cy="207.6" r="2.2"/>
<circle class="g4" cx="286.8" cy="158.0" r="2.2"/>
<circle class="g2" cx="192.8" cy="224.2" r="2.2"/>
<circle class="g1" cx="128.9" cy="212.2" r="2.2"/>
<circle class="g4" cx="283.6" cy="172.6" r="2.2"/>
<circle class="g2" cx="176.2" cy="167.3" r="2.2"/>
<circle class="g1" cx="122.8" cy="166.1" r="2.2"/>
<circle class="g1" cx="119.5" cy="178.9" r="2.2"/>
<circle class="g2" cx="189.8" cy="139.8" r="2.2"/>
<circle class="g2" cx="187.7" cy="122.7" r="2.2"/>
<circle class="g3" cx="241.8" cy="275.5" r="2.2"/>
<circle class="g1" cx="123.6" cy="207.4" r="2.2"/>
<circle class="g0" cx="61.5" cy="199.1" r="2.2"/>
<circle class="g2" cx="185.5" cy="138.0" r="2.2"/>
<circle class="g1" cx="124.3" cy="220.6" r="2.2"/>
<circle class="g2" cx="172.7" cy="165.3" r="2.2"/>
<circle class="g1" cx="137.0" cy="172.1" r="2.2"/>
<circle class="g1" cx="114.1" cy="184.5" r="2.2"/>
<circle class="g1" cx="134.4" cy="219.1" r="2.2"/>
<circle class="g2" cx="171.0" cy="153.1" r="2.2"/>
<circle class="g4" cx="291.0" cy="135.3" r="2.2"/>
<circle class="g4" cx="286.4" cy="179.0" r="2.2"/>
<circle class="g4" cx="295.4" cy="203.6" r="2.2"/>
<circle class="g4" cx="282.1" cy="170.5" r="2.2"/>
<circle class="g3" cx="231.5" cy="181.3" r="2.2"/>
<circle class="g3" cx="246.5" cy="187.4" r="2.2"/>
<circle class="g1" cx="116.5" cy="234.8" r="2.2"/>
<circle class="g3" cx="234.1" cy="144.4" r="2.2"/>
<circle class="g3" cx="245.7" cy="193.0" r="2.2"/>
<circle class="g4" cx="290.8" cy="116.2" r="2.2"/>
<circle class="g1" cx="137.0" cy="190.5" r="2.2"/>
<circle class="g1" cx="122.4" cy="127.4" r="2.2"/>
<circle class="g3" cx="242.0" cy="190.3" r="2.2"/>
<circle class="g2" cx="178.6" cy="167.5" r="2.2"/>
<circle class="g3" cx="230.8" cy="213.7" r="2.2"/>
<circle class="g4" cx="301.8" cy="183.1" r="2.2"/>
<circle class="g4" cx="287.3" cy="163.6" r="2.2"/>
<circle class="g1" cx="117.0" cy="123.0" r="2.2"/>
<circle class="g1" cx="116.4" cy="143.8" r="2.2"/>
<circle class="g4" cx="290.7" cy="155.5" r="2.2"/>
<circle class="g3" cx="244.6" cy="175.1" r="2.2"/>
<circle class="g3" cx="243.5" cy="200.9" r="2.2"/>
<circle class="g1" cx="123.0" cy="141.1" r="2.2"/>
<circle class="g2" cx="192.4" cy="198.6" r="2.2"/>
<circle class="g3" cx="243.3" cy="151.1" r="2.2"/>
<circle class="g1" cx="119.3" cy="164.2" r="2.2"/>
<circle class="g1" cx="120.1" cy="164.6" r="2.2"/>
<circle class="g3" cx="237.1" cy="141.7" r="2.2"/>
<circle class="g4" cx="283.4" cy="189.2" r="2.2"/>
<circle class="g2" cx="187.3" cy="159.5" r="2.2"/>
<circle class="g4" cx="297.6" cy="172.6" r="2.2"/>
<circle class="g1" cx="119.8" cy="195.6" r="2.2"/>
<circle class="g2" cx="184.8" cy="226.4" r="2.2"/>
<circle class="g3" cx="235.0" cy="169.5" r="2.2"/>
<circle class="g2" cx="176.6" cy="139.3" r="2.2"/>
<circle class="g4" cx="300.9" cy="140.2" r="2.2"/>
<circle class="g2" cx="182.7" cy="206.4" r="2.2"/>
<circle class="g1" cx="114.1" cy="188.0" r="2.2"/>
<circle class="g1" cx="118.0" cy="208.5" r="2.2"/>
<circle class="g2" cx="176.8" cy="160.1" r="2.2"/>
<circle class="g4" cx="293.4" cy="139.4" r="2.2"/>
<circle class="g4" cx="300.9" cy="206.8" r="2.2"/>
<circle class="g0" cx="61.0" cy="175.4" r="2.2"/>
<circle class="g4" cx="286.3" cy="151.5" r="2.2"/>
<circle class="g4" cx="301.1" cy="190.4" r="2.2"/>
<circle class="g3" cx="231.7" cy="138.8" r="2.2"/>
<circle class="g3" cx="246.3" cy="158.0" r="2.2"/>
<circle class="g3" cx="245.7" cy="234.5" r="2.2"/>
<circle class="g1" cx="135.8" cy="186.5" r="2.2"/>
<circle class="g4" cx="286.5" cy="146.5" r="2.2"/>
<circle class="g2" cx="179.2" cy="126.0" r="2.2"/>
<circle class="g3" cx="240.3" cy="195.5" r="2.2"/>
<circle class="g2" cx="186.7" cy="219.8" r="2.2"/>
<circle class="g4" cx="297.9" cy="156.7" r="2.2"/>
<circle class="g3" cx="229.8" cy="177.2" r="2.2"/>
<circle class="g1" cx="120.3" cy="165.4" r="2.2"/>
<circle class="g4" cx="305.4" cy="148.9" r="2.2"/>
<circle class="g3" cx="226.2" cy="211.0" r="2.2"/>
<circle class="g3" cx="245.0" cy="161.8" r="2.2"/>
<circle class="g2" cx="176.3" cy="153.7" r="2.2"/>
<circle class="g1" cx="120.6" cy="140.5" r="2.2"/>
<circle class="g4" cx="284.6" cy="158.5" r="2.2"/>
<circle class="g3" cx="233.9" cy="155.4" r="2.2"/>
<circle class="g2" cx="191.6" cy="122.0" r="2.2"/>
<circle class="g2" cx="182.9" cy="162.2" r="2.2"/>
<circle class="g3" cx="242.9" cy="163.8" r="2.2"/>
<circle class="g0" cx="75.9" cy="187.8" r="2.2"/>
<circle class="g3" cx="239.8" cy="174.9" r="2.2"/>
<circle class="g1" cx="120.3" cy="123.7" r="2.2"/>
<circle class="g3" cx="238.8" cy="163.5" r="2.2"/>
<circle class="g2" cx="177.9" cy="216.5" r="2.2"/>
<circle class="g4" cx="291.1" cy="160.4" r="2.2"/>
<circle class="g4" cx="303.8" cy="166.5" r="2.2"/>
<circle class="g2" cx="179.3" cy="166.8" r="2.2"/>
<circle class="g1" cx="125.2" cy="180.4" r="2.2"/>
<circle class="g3" cx="232.5" cy="159.8" r="2.2"/>
<circle class="g2" cx="177.0" cy="168.5" r="2.2"/>
<circle class="g3" cx="244.3" cy="190.3" r="2.2"/>
<circle class="g1" cx="136.4" cy="220.1" r="2.2"/>
<circle class="g3" cx="238.4" cy="113.1" r="2.2"/>
<circle class="g1" cx="133.8" cy="222.9" r="2.2"/>
<circle class="g1" cx="118.0" cy="144.4" r="2.2"/>
<circle class="g3" cx="228.5" cy="58.6" r="2.2"/>
<circle class="g2" cx="178.5" cy="225.3" r="2.2"/>
<circle class="g4" cx="304.6" cy="117.5" r="2.2"/>
<circle class="g3" cx="249.3" cy="206.9" r="2.2"/>
<circle class="g2" cx="173.6" cy="163.8" r="2.2"/>
<circle class="g4" cx="293.3" cy="127.7" r="2.2"/>
<circle class="g1" cx="135.2" cy="116.3" r="2.2"/>
<circle class="g1" cx="118.7" cy="235.7" r="2.2"/>
<circle class="g1" cx="121.2" cy="177.1" r="2.2"/>
<circle class="g2" cx="184.5" cy="127.3" r="2.2"/>
<circle class="g2" cx="172.3" cy="143.2" r="2.2"/>
<circle class="g2" cx="175.6" cy="155.9" r="2.2"/>
<circle class="g1" cx="126.1" cy="182.7" r="2.2"/>
<circle class="g1" cx="119.2" cy="220.0" r="2.2"/>
<circle class="g0" cx="80.6" cy="182.9" r="2.2"/>
<circle class="g3" cx="248.7" cy="222.9" r="2.2"/>
<circle class="g0" cx="63.0" cy="211.0" r="2.2"/>
<circle class="g2" cx="172.0" cy="202.3" r="2.2"/>
<circle class="g1" cx="133.4" cy="134.7" r="2.2"/>
<circle class="g3" cx="232.8" cy="135.8" r="2.2"/>
<circle class="g2" cx="177.8" cy="190.3" r="2.2"/>
<circle class="g3" cx="227.7" cy="193.9" r="2.2"/>
<circle class="g4" cx="301.6" cy="163.4" r="2.2"/>
<circle class="g1" cx="118.4" cy="207.7" r="2.2"/>
<circle class="g2" cx="180.9" cy="157.1" r="2.2"/>
<circle class="g0" cx="66.7" cy="182.5" r="2.2"/>
<circle class="g3" cx="244.7" cy="212.4" r="2.2"/>
<circle class="g1" cx="118.5" cy="192.9" r="2.2"/>
<circle class="g2" cx="188.2" cy="133.9" r="2.2"/>
<circle class="g4" cx="287.9" cy="154.7" r="2.2"/>
<circle class="g2" cx="185.2" cy="185.4" r="2.2"/>
<circle class="g3" cx="228.7" cy="136.1" r="2.2"/>
<circle class="g1" cx="116.1" cy="181.4" r="2.2"/>
<circle class="g2" cx="170.2" cy="168.7" r="2.2"/>
<circle class="g3" cx="237.1" cy="173.1" r="2.2"/>
<circle class="g3" cx="244.6" cy="112.2" r="2.2"/>
<circle class="g3" cx="236.1" cy="170.4" r="2.2"/>
<circle class="g4" cx="300.9" cy="150.7" r="2.2"/>
<circle class="g4" cx="305.0" cy="141.6" r="2.2"/>
<circle class="g4" cx="302.4" cy="125.4" r="2.2"/>
<circle class="g3" cx="236.3" cy="221.5" r="2.2"/>
<circle class="g4" cx="304.4" cy="180.9" r="2.2"/>
<circle class="g2" cx="182.2" cy="206.7" r="2.2"/>
<circle class="g4" cx="284.7" cy="136.9" r="2.2"/>
<circle class="g4" cx="296.6" cy="146.3" r="2.2"/>
<circle class="g4" cx="303.8" cy="183.1" r="2.2"/>
<circle class="g3" cx="241.3" cy="132.8" r="2.2"/>
<circle class="g0" cx="78.7" cy="223.7" r="2.2"/>
<circle class="g2" cx="188.8" cy="139.2" r="2.2"/>
<circle class="g1" cx="130.9" cy="227.0" r="2.2"/>
<circle class="g1" cx="126.3" cy="160.9" r="2.2"/>
<circle class="g4" cx="292.9" cy="144.9" r="2.2"/>
<circle class="g3" cx="249.5" cy="130.9" r="2.2"/>
<circle class="g3" cx="233.9" cy="194.6" r="2.2"/>
<circle class="g4" cx="287.9" cy="173.0" r="2.2"/>
<circle class="g4" cx="295.0" cy="161.0" r="2.2"/>
<circle class="g2" cx="190.4" cy="158.8" r="2.2"/>
<circle class="g1" cx="118.6" cy="187.8" r="2.2"/>
<circle class="g1" cx="114.1" cy="192.9" r="2.2"/>
<circle class="g3" cx="230.1" cy="136.1" r="2.2"/>
<circle class="g1" cx="137.0" cy="186.9" r="2.2"/>
<circle class="g3" cx="248.0" cy="99.8" r="2.2"/>
<circle class="g4" cx="289.8" cy="127.2" r="2.2"/>
<circle class="g1" cx="122.5" cy="205.4" r="2.2"/>
<circle class="g3" cx="239.1" cy="68.7" r="2.2"/>
<circle class="g2" cx="190.4" cy="132.1" r="2.2"/>
<circle class="g4" cx="286.8" cy="208.3" r="2.2"/>
<circle class="g1" cx="134.9" cy="163.1" r="2.2"/>
<circle class="g4" cx="286.9" cy="161.7" r="2.2"/>
<circle class="g2" cx="182.5" cy="194.5" r="2.2"/>
<circle class="g1" cx="123.4" cy="190.2" r="2.2"/>
<circle class="g3" cx="245.2" cy="182.4" r="2.2"/>
<circle class="g4" cx="282.0" cy="194.2" r="2.2"/>
<circle class="g4" cx="305.6" cy="121.1" r="2.2"/>
<circle class="g4" cx="304.5" cy="196.3" r="2.2"/>
<circle class="g3" cx="244.9" cy="158.2" r="2.2"/>
<circle class="g4" cx="293.3" cy="127.8" r="2.2"/>
<circle class="g1" cx="135.2" cy="208.1" r="2.2"/>
<circle class="g1" cx="128.6" cy="199.6" r="2.2"/>
<circle class="g1" cx="124.1" cy="202.2" r="2.2"/>
<circle class="g2" cx="180.3" cy="196.9" r="2.2"/>
<circle class="g1" cx="117.3" cy="166.5" r="2.2"/>
<circle class="g2" cx="187.4" cy="159.5" r="2.2"/>
<circle class="g1" cx="115.2" cy="226.6" r="2.2"/>
<circle class="g0" cx="71.9" cy="190.1" r="2.2"/>
<circle class="g3" cx="232.3" cy="163.9" r="2.2"/>
<circle class="g1" cx="121.4" cy="203.8" r="2.2"/>
<circle class="g4" cx="295.8" cy="113.3" r="2.2"/>
<circle class="g4" cx="287.7" cy="111.3" r="2.2"/>
<circle class="g3" cx="241.8" cy="203.2" r="2.2"/>
<circle class="g4" cx="294.0" cy="135.3" r="2.2"/>
<circle class="g3" cx="240.1" cy="173.8" r="2.2"/>
<circle class="g4" cx="288.2" cy="176.6" r="2.2"/>
<circle class="g2" cx="176.2" cy="139.3" r="2.2"/>
<circle class="g4" cx="285.8" cy="155.9" r="2.2"/>
<circle class="g1" cx="115.2" cy="169.6" r="2.2"/>
<circle class="g1" cx="136.7" cy="230.3" r="2.2"/>
<circle class="g1" cx="135.2" cy="190.5" r="2.2"/>
<circle class="g2" cx="183.8" cy="169.2" r="2.2"/>
<circle class="g2" cx="174.3" cy="294.1" r="2.2"/>
<circle class="g2" cx="183.7" cy="223.1" r="2.2"/>
<circle class="g3" cx="226.1" cy="178.4" r="2.2"/>
<circle class="g1" cx="128.6" cy="213.8" r="2.2"/>
<circle class="g2" cx="193.0" cy="151.9" r="2.2"/>
<circle class="g3" cx="241.9" cy="184.2" r="2.2"/>
<circle class="g4" cx="290.7" cy="158.2" r="2.2"/>
<circle class="g4" cx="297.3" cy="155.4" r="2.2"/>
<circle class="g3" cx="244.9" cy="174.8" r="2.2"/>
<circle class="g4" cx="304.5" cy="194.1" r="2.2"/>
<circle class="g1" cx="133.8" cy="235.1" r="2.2"/>
<circle class="g2" cx="184.4" cy="207.1" r="2.2"/>
<circle class="g0" cx="64.5" cy="216.2" r="2.2"/>
<circle class="g4" cx="287.9" cy="148.7" r="2.2"/>
<circle class="g3" cx="243.3" cy="234.5" r="2.2"/>
<circle class="g3" cx="230.8" cy="152.8" r="2.2"/>
<circle class="g1" cx="117.0" cy="165.1" r="2.2"/>
<circle class="g2" cx="191.8" cy="166.2" r="2.2"/>
<circle class="g2" cx="170.2" cy="180.0" r="2.2"/>
<circle class="g0" cx="64.8" cy="166.0" r="2.2"/>
<circle class="g4" cx="288.3" cy="75.9" r="2.2"/>
<circle class="g3" cx="248.2" cy="132.9" r="2.2"/>
<circle class="g3" cx="228.4" cy="154.2" r="2.2"/>
<circle class="g1" cx="119.5" cy="192.2" r="2.2"/>
<circle class="g2" cx="186.0" cy="166.9" r="2.2"/>
<circle class="g0" cx="58.7" cy="216.5" r="2.2"/>
<circle class="g3" cx="231.8" cy="206.3" r="2.2"/>
<circle class="g1" cx="127.1" cy="203.5" r="2.2"/>
<circle class="g1" cx="137.2" cy="142.4" r="2.2"/>
<circle class="g4" cx="299.5" cy="161.1" r="2.2"/>
<circle class="g2" cx="181.5" cy="176.2" r="2.2"/>
<circle class="g1" cx="115.0" cy="176.6" r="2.2"/>
<circle class="g3" cx="227.4" cy="151.8" r="2.2"/>
<circle class="g3" cx="248.2" cy="153.6" r="2.2"/>
<circle class="g4" cx="290.8" cy="188.8" r="2.2"/>
<circle class="g4" cx="287.2" cy="173.9" r="2.2"/>
<circle class="g3" cx="241.3" cy="237.2" r="2.2"/>
<circle class="g4" cx="302.4" cy="152.0" r="2.2"/>
<circle class="g4" cx="304.3" cy="90.6" r="2.2"/>
<circle class="g2" cx="173.7" cy="161.1" r="2.2"/>
<circle class="g2" cx="184.0" cy="142.3" r="2.2"/>
<circle class="g2" cx="181.4" cy="163.5" r="2.2"/>
<circle class="g3" cx="242.4" cy="163.1" r="2.2"/>
<circle class="g3" cx="236.9" cy="157.5" r="2.2"/>
<circle class="g4" cx="292.1" cy="78.0" r="2.2"/>
<circle class="g1" cx="124.1" cy="200.6" r="2.2"/>
<circle class="g4" cx="301.6" cy="133.8" r="2.2"/>
<circle class="g4" cx="294.2" cy="149.7" r="2.2"/>
<circle class="g1" cx="124.8" cy="179.9" r="2.2"/>
<circle class="g1" cx="116.0" cy="185.3" r="2.2"/>
<circle class="g1" cx="114.6" cy="192.4" r="2.2"/>
<circle class="g3" cx="235.7" cy="170.0" r="2.2"/>
<circle class="g3" cx="235.5" cy="167.5" r="2.2"/>
<circle class="g2" cx="173.7" cy="250.6" r="2.2"/>
<circle class="g1" cx="122.2" cy="183.9" r="2.2"/>
<circle class="g1" cx="121.2" cy="185.8" r="2.2"/>
<circle class="g1" cx="136.2" cy="167.5" r="2.2"/>
<circle class="g3" cx="238.3" cy="151.1" r="2.2"/>
<circle class="g3" cx="236.5" cy="141.2" r="2.2"/>
<circle class="g4" cx="284.3" cy="178.7" r="2.2"/>
<circle class="g3" cx="239.7" cy="198.7" r="2.2"/>
<circle class="g2" cx="190.4" cy="199.3" r="2.2"/>
<circle class="g2" cx="174.0" cy="171.5" r="2.2"/>
<circle class="g4" cx="295.0" cy="107.8" r="2.2"/>
<circle class="g3" cx="243.3" cy="150.3" r="2.2"/>
<circle class="g2" cx="175.0" cy="189.2" r="2.2"/>
<circle class="g2" cx="192.1" cy="149.4" r="2.2"/>
<circle class="g2" cx="173.3" cy="163.4" r="2.2"/>
<circle class="g0" cx="68.5" cy="199.9" r="2.2"/>
<circle class="g3" cx="237.7" cy="181.7" r="2.2"/>
<circle class="g1" cx="130.1" cy="171.4" r="2.2"/>
<circle class="g4" cx="292.5" cy="207.6" r="2.2"/>
<circle class="g1" cx="128.6" cy="203.7" r="2.2"/>
<circle class="g4" cx="302.8" cy="119.3" r="2.2"/>
<circle class="g2" cx="185.1" cy="165.1" r="2.2"/>
<circle class="g3" cx="247.1" cy="214.3" r="2.2"/>
<circle class="g3" cx="226.2" cy="142.0" r="2.2"/>
<circle class="g4" cx="301.7" cy="231.8" r="2.2"/>
<circle class="g1" cx="125.4" cy="114.2" r="2.2"/>
<circle class="g2" cx="191.5" cy="162.2" r="2.2"/>
<circle class="g1" cx="128.9" cy="161.7" r="2.2"/>
<circle class="g3" cx="234.4" cy="149.4" r="2.2"/>
<circle class="g4" cx="291.6" cy="196.1" r="2.2"/>
<circle class="g4" cx="291.7" cy="161.4" r="2.2"/>
<circle class="g4" cx="287.8" cy="218.0" r="2.2"/>
<circle class="g3" cx="249.6" cy="151.7" r="2.2"/>
<circle class="g3" cx="238.5" cy="224.0" r="2.2"/>
<circle class="g1" cx="122.2" cy="182.0" r="2.2"/>
<circle class="g1" cx="115.9" cy="154.4" r="2.2"/>
<circle class="g3" cx="243.9" cy="218.1" r="2.2"/>
<circle class="g3" cx="228.2" cy="163.9" r="2.2"/>
<circle class="g0" cx="66.0" cy="242.9" r="2.2"/>
<circle class="g2" cx="191.0" cy="133.0" r="2.2"/>
<circle class="g4" cx="299.9" cy="133.2" r="2.2"/>
<circle class="g4" cx="300.8" cy="176.7" r="2.2"/>
<circle class="g2" cx="182.7" cy="127.0" r="2.2"/>
<circle class="g3" cx="226.0" cy="197.7" r="2.2"/>
<circle class="g4" cx="302.6" cy="150.0" r="2.2"/>
<circle class="g3" cx="237.7" cy="200.8" r="2.2"/>
<circle class="g3" cx="247.0" cy="169.6" r="2.2"/>
<circle class="g3" cx="229.6" cy="111.4" r="2.2"/>
<circle class="g1" cx="118.3" cy="204.3" r="2.2"/>
<circle class="g3" cx="246.9" cy="204.6" r="2.2"/>
<circle class="g1" cx="135.9" cy="170.9" r="2.2"/>
<circle class="g4" cx="286.8" cy="162.2" r="2.2"/>
<circle class="g3" cx="240.1" cy="133.1" r="2.2"/>
<circle class="g3" cx="247.5" cy="182.3" r="2.2"/>
<circle class="g3" cx="230.0" cy="208.2" r="2.2"/>
<circle class="g1" cx="114.3" cy="219.6" r="2.2"/>
<circle class="g4" cx="291.2" cy="160.7" r="2.2"/>
<circle class="g3" cx="233.5" cy="138.3" r="2.2"/>
<circle class="g1" cx="133.0" cy="159.8" r="2.2"/>
<circle class="g3" cx="235.0" cy="160.9" r="2.2"/>
<circle class="g1" cx="122.9" cy="202.6" r="2.2"/>
<circle class="g2" cx="173.7" cy="171.6" r="2.2"/>
<circle class="g2" cx="171.1" cy="182.5" r="2.2"/>
<circle class="g1" cx="114.6" cy="203.9" r="2.2"/>
<circle class="g0" cx="70.2" cy="218.7" r="2.2"/>
<circle class="g3" cx="241.4" cy="156.4" r="2.2"/>
<circle class="g4" cx="282.4" cy="156.9" r="2.2"/>
<circle class="g4" cx="300.1" cy="176.9" r="2.2"/>
<circle class="g3" cx="232.0" cy="166.7" r="2.2"/>
<circle class="g3" cx="235.2" cy="141.9" r="2.2"/>
<circle class="g2" cx="179.3" cy="140.3" r="2.2"/>
<circle class="g3" cx="228.9" cy="190.2" r="2.2"/>
<circle class="g4" cx="284.7" cy="172.7" r="2.2"/>
<circle class="g1" cx="133.2" cy="137.0" r="2.2"/>
<circle class="g1" cx="118.8" cy="180.0" r="2.2"/>
<circle class="g3" cx="245.2" cy="250.3" r="2.2"/>
<circle class="g4" cx="299.0" cy="150.0" r="2.2"/>
<circle class="g2" cx="189.4" cy="162.6" r="2.2"/>
<circle class="g4" cx="283.7" cy="129.5" r="2.2"/>
<circle class="g3" cx="240.0" cy="185.4" r="2.2"/>
<circle class="g1" cx="116.3" cy="239.5" r="2.2"/>
<circle class="g4" cx="284.7" cy="203.1" r="2.2"/>
<circle class="g3" cx="248.8" cy="128.3" r="2.2"/>
<circle class="g1" cx="133.3" cy="189.2" r="2.2"/>
<circle class="g0" cx="75.1" cy="240.8" r="2.2"/>
<circle class="g4" cx="305.5" cy="159.6" r="2.2"/>
<circle class="g2" cx="184.6" cy="213.7" r="2.2"/>
<circle class="g1" cx="124.4" cy="229.3" r="2.2"/>
<circle class="g4" cx="289.4" cy="200.5" r="2.2"/>
<circle class="g3" cx="246.9" cy="169.1" r="2.2"/>
<circle class="g4" cx="296.5" cy="168.1" r="2.2"/>
<circle class="g4" cx="304.9" cy="176.2" r="2.2"/>
<circle class="g3" cx="231.8" cy="144.8" r="2.2"/>
<circle class="g4" cx="289.0" cy="200.6" r="2.2"/>
<circle class="g3" cx="232.7" cy="168.8" r="2.2"/>
<circle class="g3" cx="235.7" cy="128.8" r="2.2"/>
<circle class="g4" cx="301.9" cy="150.0" r="2.2"/>
<circle class="g4" cx="296.9" cy="251.8" r="2.2"/>
<circle class="g2" cx="188.6" cy="195.8" r="2.2"/>
<circle class="g3" cx="228.2" cy="115.9" r="2.2"/>
<circle class="g2" cx="170.5" cy="152.7" r="2.2"/>
<circle class="g3" cx="241.0" cy="178.3" r="2.2"/>
<circle class="g4" cx="296.9" cy="163.7" r="2.2"/>
<circle class="g3" cx="245.9" cy="172.9" r="2.2"/>
<circle class="g3" cx="228.3" cy="190.4" r="2.2"/>
<circle class="g2" cx="188.2" cy="146.6" r="2.2"/>
<circle class="g2" cx="171.4" cy="206.4" r="2.2"/>
<circle class="g3" cx="241.8" cy="154.3" r="2.2"/>
<circle class="g4" cx="290.0" cy="169.9" r="2.2"/>
<circle class="g3" cx="235.3" cy="184.6" r="2.2"/>
<circle class="g1" cx="121.5" cy="177.5" r="2.2"/>
<circle class="g4" cx="291.5" cy="198.1" r="2.2"/>
<circle class="g4" cx="285.5" cy="164.6" r="2.2"/>
<circle class="g4" cx="288.9" cy="183.9" r="2.2"/>
<circle class="g3" cx="233.4" cy="175.5" r="2.2"/>
<circle class="g1" cx="118.9" cy="133.8" r="2.2"/>
<circle class="g3" cx="241.4" cy="206.2" r="2.2"/>
<circle class="g2" cx="185.6" cy="155.7" r="2.2"/>
<circle class="g3" cx="226.7" cy="166.5" r="2.2"/>
<circle class="g1" cx="137.5" cy="151.3" r="2.2"/>
<circle class="g4" cx="285.8" cy="114.9" r="2.2"/>
<circle class="g1" cx="117.3" cy="205.4" r="2.2"/>
<circle class="g1" cx="136.0" cy="172.5" r="2.2"/>
<circle class="g2" cx="182.3" cy="132.9" r="2.2"/>
<circle class="g3" cx="245.8" cy="172.3" r="2.2"/>
<circle class="g0" cx="67.2" cy="190.7" r="2.2"/>
<circle class="g4" cx="283.1" cy="180.7" r="2.2"/>
<circle class="g2" cx="171.1" cy="139.4" r="2.2"/>
<circle class="g3" cx="229.1" cy="156.3" r="2.2"/>
<circle class="g0" cx="80.4" cy="200.4" r="2.2"/>
<circle class="g2" cx="182.5" cy="144.3" r="2.2"/>
<circle class="g2" cx="193.0" cy="173.6" r="2.2"/>
<circle class="g4" cx="303.1" cy="170.2" r="2.2"/>
<circle class="g1" cx="118.4" cy="233.9" r="2.2"/>
<circle class="g2" cx="182.6" cy="180.4" r="2.2"/>
<circle class="g4" cx="296.6" cy="173.4" r="2.2"/>
<circle class="g2" cx="181.2" cy="172.9" r="2.2"/>
<circle class="g1" cx="123.4" cy="295.4" r="2.2"/>
<circle class="g4" cx="304.1" cy="185.8" r="2.2"/>
<circle class="g4" cx="304.8" cy="150.9" r="2.2"/>
<circle class="g2" cx="192.8" cy="213.2" r="2.2"/>
<circle class="g2" cx="191.1" cy="178.2" r="2.2"/>
<circle class="g4" cx="292.4" cy="148.1" r="2.2"/>
<circle class="g2" cx="193.3" cy="181.4" r="2.2"/>
<circle class="g2" cx="175.7" cy="66.5" r="2.2"/>
<circle class="g3" cx="236.5" cy="152.2" r="2.2"/>
<circle class="g2" cx="174.9" cy="131.4" r="2.2"/>
<circle class="g4" cx="290.7" cy="176.8" r="2.2"/>
<circle class="g4" cx="300.2" cy="106.6" r="2.2"/>
<circle class="g4" cx="283.3" cy="232.4" r="2.2"/>
<circle class="g3" cx="235.9" cy="124.3" r="2.2"/>
<circle class="g1" cx="137.5" cy="202.7" r="2.2"/>
<circle class="g4" cx="298.8" cy="150.3" r="2.2"/>
<circle class="g4" cx="303.3" cy="183.0" r="2.2"/>
<circle class="g2" cx="173.8" cy="162.8" r="2.2"/>
<circle class="g4" cx="290.7" cy="181.9" r="2.2"/>
<circle class="g2" cx="181.4" cy="171.5" r="2.2"/>
<circle class="g4" cx="285.8" cy="164.7" r="2.2"/>
<circle class="g4" cx="298.2" cy="123.0" r="2.2"/>
<circle class="g1" cx="129.1" cy="149.8" r="2.2"/>
<circle class="g3" cx="233.2" cy="161.7" r="2.2"/>
<circle class="g1" cx="116.3" cy="219.4" r="2.2"/>
<circle class="g2" cx="185.3" cy="138.7" r="2.2"/>
<circle class="g2" cx="180.3" cy="170.2" r="2.2"/>
<circle class="g1" cx="119.2" cy="157.8" r="2.2"/>
<circle class="g0" cx="81.4" cy="187.6" r="2.2"/>
<circle class="g4" cx="288.7" cy="154.3" r="2.2"/>
<circle class="g2" cx="171.9" cy="170.8" r="2.2"/>
<circle class="g2" cx="187.6" cy="148.1" r="2.2"/>
<circle class="g1" cx="132.0" cy="166.1" r="2.2"/>
<circle class="g1" cx="119.6" cy="163.3" r="2.2"/>
<circle class="g3" cx="228.0" cy="127.9" r="2.2"/>
<circle class="g4" cx="290.9" cy="131.3" r="2.2"/>
<circle class="g3" cx="247.0" cy="161.1" r="2.2"/>
<circle class="g2" cx="172.5" cy="192.8" r="2.2"/>
<circle class="g1" cx="132.3" cy="223.4" r="2.2"/>
<circle class="g3" cx="239.3" cy="166.7" r="2.2"/>
<circle class="g3" cx="249.1" cy="143.0" r="2.2"/>
<circle class="g2" cx="185.1" cy="156.7" r="2.2"/>
<circle class="g4" cx="285.8" cy="157.3" r="2.2"/>
<circle class="g1" cx="137.0" cy="171.6" r="2.2"/>
<circle class="g3" cx="231.1" cy="177.5" r="2.2"/>
<circle class="g2" cx="193.1" cy="159.1" r="2.2"/>
<circle class="g2" cx="171.9" cy="246.3" r="2.2"/>
<circle class="g4" cx="287.1" cy="183.2" r="2.2"/>
<circle class="g3" cx="227.6" cy="156.7" r="2.2"/>
<circle class="g4" cx="290.4" cy="152.9" r="2.2"/>
<circle class="g1" cx="125.6" cy="179.8" r="2.2"/>
<circle class="g4" cx="293.6" cy="207.8" r="2.2"/>
<circle class="g0" cx="78.6" cy="183.8" r="2.2"/>
<circle class="g3" cx="234.8" cy="187.9" r="2.2"/>
<circle class="g1" cx="116.4" cy="127.9" r="2.2"/>
<circle class="g3" cx="248.4" cy="119.3" r="2.2"/>
<circle class="g3" cx="226.4" cy="241.8" r="2.2"/>
<circle class="g3" cx="231.9" cy="180.7" r="2.2"/>
<circle class="g2" cx="180.7" cy="158.2" r="2.2"/>
<circle class="g3" cx="238.3" cy="162.1" r="2.2"/>
<circle class="g4" cx="289.9" cy="129.4" r="2.2"/>
<circle class="g4" cx="295.5" cy="131.2" r="2.2"/>
<circle class="g3" cx="229.3" cy="197.1" r="2.2"/>
<circle class="g3" cx="249.5" cy="222.1" r="2.2"/>
<circle class="g2" cx="180.6" cy="162.1" r="2.2"/>
<circle class="g3" cx="239.2" cy="141.5" r="2.2"/>
<circle class="g3" cx="233.1" cy="154.1" r="2.2"/>
<circle class="g3" cx="228.6" cy="114.0" r="2.2"/>
<circle class="g0" cx="63.2" cy="184.9" r="2.2"/>
<circle class="g3" cx="239.4" cy="114.2" r="2.2"/>
<circle class="g0" cx="77.8" cy="221.3" r="2.2"/>
<circle class="g1" cx="136.8" cy="186.7" r="2.2"/>
<circle class="g4" cx="289.9" cy="147.1" r="2.2"/>
<circle class="g3" cx="232.1" cy="181.1" r="2.2"/>
<circle class="g2" cx="175.2" cy="177.6" r="2.2"/>
<circle class="g3" cx="229.6" cy="202.0" r="2.2"/>
<circle class="g4" cx="284.1" cy="132.1" r="2.2"/>
<circle class="g3" cx="234.6" cy="172.8" r="2.2"/>
<circle class="g2" cx="174.0" cy="160.4" r="2.2"/>
<circle class="g4" cx="292.8" cy="155.1" r="2.2"/>
<circle class="g1" cx="121.7" cy="200.9" r="2.2"/>
<circle class="g4" cx="296.2" cy="140.8" r="2.2"/>
<circle class="g1" cx="133.6" cy="195.9" r="2.2"/>
<circle class="g3" cx="241.8" cy="188.7" r="2.2"/>
<circle class="g3" cx="244.4" cy="145.2" r="2.2"/>
<circle class="g1" cx="129.5" cy="188.2" r="2.2"/>
<circle class="g3" cx="242.0" cy="173.5" r="2.2"/>
<circle class="g2" cx="170.4" cy="123.0" r="2.2"/>
<circle class="g4" cx="294.5" cy="140.9" r="2.2"/>
<circle class="g4" cx="290.3" cy="156.1" r="2.2"/>
<circle class="g2" cx="185.0" cy="164.6" r="2.2"/>
<circle class="g3" cx="228.0" cy="167.2" r="2.2"/>
<circle class="g4" cx="303.8" cy="187.9" r="2.2"/>
<circle class="g0" cx="74.4" cy="227.7" r="2.2"/>
<circle class="g0" cx="61.1" cy="171.8" r="2.2"/>
<circle class="g2" cx="182.3" cy="188.2" r="2.2"/>
<circle class="g3" cx="240.0" cy="207.0" r="2.2"/>
<circle class="g1" cx="135.4" cy="136.2" r="2.2"/>
<circle class="g2" cx="182.2" cy="169.2" r="2.2"/>
<circle class="g2" cx="177.6" cy="197.7" r="2.2"/>
<circle class="g3" cx="240.4" cy="156.9" r="2.2"/>
<circle class="g1" cx="119.1" cy="161.4" r="2.2"/>
<circle class="g3" cx="240.0" cy="126.1" r="2.2"/>
<circle class="g1" cx="127.1" cy="193.4" r="2.2"/>
<circle class="g3" cx="226.4" cy="227.7" r="2.2"/>
<circle class="g2" cx="182.2" cy="197.9" r="2.2"/>
<circle class="g3" cx="235.6" cy="174.9" r="2.2"/>
<circle class="g2" cx="192.6" cy="175.7" r="2.2"/>
<circle class="g4" cx="294.8" cy="183.6" r="2.2"/>
<circle class="g4" cx="296.3" cy="173.1" r="2.2"/>
<circle class="g1" cx="117.7" cy="164.5" r="2.2"/>
<circle class="g3" cx="242.1" cy="115.2" r="2.2"/>
<circle class="g4" cx="305.2" cy="160.8" r="2.2"/>
<circle class="g3" cx="239.1" cy="155.4" r="2.2"/>
<circle class="g3" cx="234.0" cy="98.2" r="2.2"/>
<circle class="g3" cx="230.6" cy="186.1" r="2.2"/>
<circle class="g4" cx="301.6" cy="167.8" r="2.2"/>
<circle class="g2" cx="183.8" cy="173.3" r="2.2"/>
<circle class="g3" cx="246.2" cy="134.1" r="2.2"/>
<circle class="g2" cx="192.2" cy="188.1" r="2.2"/>
<circle class="g4" cx="297.0" cy="180.9" r="2.2"/>
<circle class="g1" cx="131.7" cy="236.9" r="2.2"/>
<circle class="g2" cx="175.5" cy="213.7" r="2.2"/>
<circle class="g1" cx="137.1" cy="199.0" r="2.2"/>
<circle class="g2" cx="189.7" cy="164.4" r="2.2"/>
<circle class="g1" cx="122.2" cy="175.5" r="2.2"/>
<circle class="g2" cx="180.9" cy="189.1" r="2.2"/>
<circle class="g2" cx="186.5" cy="207.1" r="2.2"/>
<circle class="g2" cx="192.4" cy="159.2" r="2.2"/>
<circle class="g4" cx="284.2" cy="161.8" r="2.2"/>
<circle class="g2" cx="172.0" cy="157.8" r="2.2"/>
<circle class="g0" cx="61.4" cy="173.7" r="2.2"/>
<circle class="g2" cx="179.0" cy="150.8" r="2.2"/>
<circle class="g4" cx="301.6" cy="160.4" r="2.2"/>
<circle class="g4" cx="304.3" cy="112.8" r="2.2"/>
<circle class="g0" cx="69.9" cy="245.2" r="2.2"/>
<circle class="g1" cx="120.5" cy="189.7" r="2.2"/>
<circle class="g1" cx="123.3" cy="197.1" r="2.2"/>
<circle class="g2" cx="180.8" cy="209.3" r="2.2"/>
<circle class="g3" cx="239.3" cy="158.5" r="2.2"/>
<circle class="g4" cx="293.2" cy="130.3" r="2.2"/>
<circle class="g3" cx="228.8" cy="196.6" r="2.2"/>
<circle class="g4" cx="292.3" cy="186.5" r="2.2"/>
<circle class="g4" cx="299.5" cy="165.7" r="2.2"/>
<circle class="g2" cx="189.7" cy="149.1" r="2.2"/>
<circle class="g2" cx="176.3" cy="229.0" r="2.2"/>
<circle class="g3" cx="234.3" cy="141.0" r="2.2"/>
<circle class="g1" cx="119.8" cy="195.2" r="2.2"/>
<circle class="g2" cx="171.3" cy="192.9" r="2.2"/>
<circle class="g4" cx="304.7" cy="142.6" r="2.2"/>
<circle class="g3" cx="248.1" cy="260.8" r="2.2"/>
<circle class="g4" cx="284.2" cy="187.3" r="2.2"/>
<circle class="g4" cx="293.4" cy="170.2" r="2.2"/>
<circle class="g1" cx="128.7" cy="148.6" r="2.2"/>
<circle class="g1" cx="119.8" cy="114.3" r="2.2"/>
<circle class="g4" cx="292.2" cy="212.8" r="2.2"/>
<circle class="g0" cx="70.0" cy="208.0" r="2.2"/>
<circle class="g1" cx="120.3" cy="166.5" r="2.2"/>
<circle class="g3" cx="237.5" cy="167.4" r="2.2"/>
<circle class="g4" cx="302.4" cy="159.0" r="2.2"/>
<circle class="g3" cx="236.9" cy="195.6" r="2.2"/>
<circle class="g2" cx="171.9" cy="132.6" r="2.2"/>
<circle class="g2" cx="181.7" cy="159.7" r="2.2"/>
<circle class="g3" cx="238.1" cy="198.1" r="2.2"/>
<circle class="g1" cx="125.6" cy="183.2" r="2.2"/>
<circle class="g1" cx="116.3" cy="208.3" r="2.2"/>
<circle class="g1" cx="115.8" cy="227.8" r="2.2"/>
<circle class="g2" cx="172.1" cy="167.0" r="2.2"/>
<circle class="g4" cx="283.2" cy="133.2" r="2.2"/>
<circle class="g1" cx="122.0" cy="192.7" r="2.2"/>
<circle class="g1" cx="115.3" cy="162.5" r="2.2"/>
<circle class="g1" cx="133.3" cy="170.2" r="2.2"/>
<circle class="g4" cx="290.6" cy="178.6" r="2.2"/>
<circle class="g1" cx="118.5" cy="162.8" r="2.2"/>
<circle class="g4" cx="290.7" cy="120.4" r="2.2"/>
<circle class="g3" cx="229.2" cy="240.0" r="2.2"/>
<circle class="g3" cx="244.2" cy="161.9" r="2.2"/>
<circle class="g0" cx="71.8" cy="206.5" r="2.2"/>
<circle class="g4" cx="293.7" cy="160.2" r="2.2"/>
<circle class="g4" cx="290.6" cy="184.9" r="2.2"/>
<circle class="g3" cx="233.0" cy="197.5" r="2.2"/>
<circle class="g2" cx="184.9" cy="188.6" r="2.2"/>
<circle class="g4" cx="288.0" cy="159.3" r="2.2"/>
<circle class="g2" cx="188.6" cy="207.5" r="2.2"/>
<circle class="g4" cx="299.6" cy="118.8" r="2.2"/>
<circle class="g2" cx="191.1" cy="180.5" r="2.2"/>
<circle class="g4" cx="300.8" cy="164.8" r="2.2"/>
<circle class="g4" cx="296.7" cy="207.8" r="2.2"/>
<circle class="g3" cx="226.7" cy="153.7" r="2.2"/>
<circle class="g3" cx="244.8" cy="193.7" r="2.2"/>
<circle class="g1" cx="130.1" cy="214.5" r="2.2"/>
<circle class="g1" cx="116.5" cy="189.5" r="2.2"/>
<circle class="g3" cx="244.8" cy="122.9" r="2.2"/>
<circle class="g2" cx="187.0" cy="176.5" r="2.2"/>
<circle class="g3" cx="236.3" cy="158.4" r="2.2"/>
<circle class="g2" cx="170.3" cy="167.2" r="2.2"/>
<circle class="g3" cx="234.7" cy="170.2" r="2.2"/>
<circle class="g2" cx="183.3" cy="196.2" r="2.2"/>
<circle class="g4" cx="289.8" cy="179.2" r="2.2"/>
<circle class="g2" cx="172.2" cy="157.1" r="2.2"/>
<circle class="g4" cx="293.5" cy="221.9" r="2.2"/>
<circle class="g3" cx="247.2" cy="165.8" r="2.2"/>
<circle class="g1" cx="123.3" cy="164.3" r="2.2"/>
<circle class="g3" cx="237.0" cy="179.0" r="2.2"/>
<circle class="g2" cx="186.6" cy="166.5" r="2.2"/>
<circle class="g1" cx="121.2" cy="179.0" r="2.2"/>
<circle class="g1" cx="122.3" cy="174.0" r="2.2"/>
<circle class="g1" cx="128.2" cy="199.7" r="2.2"/>
<circle class="g2" cx="178.6" cy="185.6" r="2.2"/>
<circle class="g2" cx="182.8" cy="145.9" r="2.2"/>
<circle class="g2" cx="179.6" cy="173.2" r="2.2"/>
<circle class="g3" cx="233.4" cy="123.9" r="2.2"/>
<circle class="g2" cx="173.8" cy="175.9" r="2.2"/>
<circle class="g3" cx="244.1" cy="148.0" r="2.2"/>
<circle class="g3" cx="230.3" cy="223.8" r="2.2"/>
<circle class="g3" cx="238.9" cy="166.3" r="2.2"/>
<circle class="g4" cx="289.3" cy="147.5" r="2.2"/>
<circle class="g2" cx="178.8" cy="132.8" r="2.2"/>
<circle class="g1" cx="135.3" cy="188.7" r="2.2"/>
<circle class="g2" cx="180.3" cy="175.5" r="2.2"/>
<circle class="g2" cx="184.0" cy="156.3" r="2.2"/>
<circle class="g1" cx="123.3" cy="148.8" r="2.2"/>
<circle class="g3" cx="242.2" cy="152.8" r="2.2"/>
<circle class="g1" cx="120.5" cy="203.4" r="2.2"/>
<circle class="g1" cx="124.6" cy="198.1" r="2.2"/>
<circle class="g4" cx="286.9" cy="132.9" r="2.2"/>
<circle class="g3" cx="235.6" cy="144.5" r="2.2"/>
<circle class="g3" cx="241.1" cy="157.7" r="2.2"/>
<circle class="g1" cx="134.3" cy="203.4" r="2.2"/>
<circle class="g4" cx="296.9" cy="133.9" r="2.2"/>
<circle class="g2" cx="182.1" cy="177.8" r="2.2"/>
<circle class="g4" cx="287.3" cy="137.6" r="2.2"/>
<circle class="g4" cx="296.4" cy="242.4" r="2.2"/>
<circle class="g4" cx="297.7" cy="185.7" r="2.2"/>
<circle class="g2" cx="183.6" cy="191.8" r="2.2"/>
<circle class="g1" cx="123.9" cy="200.7" r="2.2"/>
<circle class="g2" cx="185.1" cy="146.6" r="2.2"/>
<circle class="g3" cx="243.9" cy="142.4" r="2.2"/>
<circle class="g3" cx="227.0" cy="289.2" r="2.2"/>
<circle class="g2" cx="184.9" cy="180.5" r="2.2"/>
<circle class="g0" cx="74.4" cy="198.6" r="2.2"/>
<circle class="g3" cx="244.1" cy="144.0" r="2.2"/>
<circle class="g2" cx="174.0" cy="156.9" r="2.2"/>
<circle class="g0" cx="63.5" cy="196.3" r="2.2"/>
<circle class="g3" cx="227.8" cy="151.6" r="2.2"/>
<circle class="g3" cx="229.4" cy="214.3" r="2.2"/>
<circle class="g2" cx="185.2" cy="182.3" r="2.2"/>
<circle class="g1" cx="119.7" cy="141.7" r="2.2"/>
<circle class="g1" cx="119.1" cy="216.3" r="2.2"/>
<circle class="g3" cx="228.9" cy="154.6" r="2.2"/>
<circle class="g3" cx="241.3" cy="141.3" r="2.2"/>
<circle class="g4" cx="291.6" cy="64.2" r="2.2"/>
<circle class="g3" cx="240.9" cy="153.3" r="2.2"/>
<circle class="g4" cx="290.9" cy="176.1" r="2.2"/>
<circle class="g4" cx="287.9" cy="110.7" r="2.2"/>
<circle class="g2" cx="193.4" cy="166.3" r="2.2"/>
<circle class="g2" cx="183.3" cy="122.5" r="2.2"/>
<circle class="g2" cx="175.2" cy="178.9" r="2.2"/>
<circle class="g2" cx="173.3" cy="104.4" r="2.2"/>
<circle class="g1" cx="132.5" cy="195.8" r="2.2"/>
<circle class="g3" cx="242.2" cy="169.7" r="2.2"/>
<circle class="g2" cx="183.5" cy="190.5" r="2.2"/>
<circle class="g2" cx="183.6" cy="131.9" r="2.2"/>
<circle class="g4" cx="304.5" cy="157.0" r="2.2"/>
<circle class="g4" cx="286.8" cy="146.4" r="2.2"/>
<circle class="g2" cx="175.9" cy="203.0" r="2.2"/>
<circle class="g1" cx="117.1" cy="252.1" r="2.2"/>
<circle class="g4" cx="288.1" cy="189.8" r="2.2"/>
<circle class="g4" cx="302.7" cy="180.5" r="2.2"/>
<circle class="g3" cx="242.9" cy="105.3" r="2.2"/>
<circle class="g3" cx="230.1" cy="167.5" r="2.2"/>
<circle class="g1" cx="120.4" cy="164.5" r="2.2"/>
<circle class="g3" cx="244.2" cy="163.7" r="2.2"/>
<circle class="g2" cx="171.0" cy="132.1" r="2.2"/>
<circle class="g2" cx="182.1" cy="117.1" r="2.2"/>
<circle class="g2" cx="175.9" cy="192.9" r="2.2"/>
<circle class="g3" cx="242.0" cy="194.9" r="2.2"/>
<circle class="g4" cx="292.1" cy="128.6" r="2.2"/>
<circle class="g1" cx="115.6" cy="160.0" r="2.2"/>
<circle class="g4" cx="297.2" cy="138.7" r="2.2"/>
<circle class="g3" cx="246.4" cy="209.0" r="2.2"/>
<circle class="g1" cx="124.8" cy="180.6" r="2.2"/>
<circle class="g3" cx="242.2" cy="243.3" r="2.2"/>
<circle class="g4" cx="286.1" cy="92.8" r="2.2"/>
<circle class="g4" cx="302.3" cy="129.0" r="2.2"/>
<circle class="g3" cx="235.9" cy="124.9" r="2.2"/>
<circle class="g1" cx="114.3" cy="187.9" r="2.2"/>
<circle class="g4" cx="295.4" cy="152.9" r="2.2"/>
<circle class="g2" cx="177.6" cy="196.6" r="2.2"/>
<circle class="g2" cx="186.9" cy="154.4" r="2.2"/>
<circle class="g3" cx="239.7" cy="183.9" r="2.2"/>
<circle class="g2" cx="174.4" cy="165.7" r="2.2"/>
<circle class="g2" cx="178.3" cy="145.9" r="2.2"/>
<circle class="g2" cx="179.6" cy="145.8" r="2.2"/>
<circle class="g4" cx="292.4" cy="162.4" r="2.2"/>
<circle class="g1" cx="122.2" cy="203.1" r="2.2"/>
<circle class="g4" cx="288.5" cy="128.5" r="2.2"/>
<circle class="g1" cx="122.3" cy="170.0" r="2.2"/>
<circle class="g1" cx="133.7" cy="250.0" r="2.2"/>
<circle class="g3" cx="238.9" cy="105.7" r="2.2"/>
<circle class="g4" cx="298.4" cy="119.5" r="2.2"/>
<circle class="g4" cx="295.4" cy="184.1" r="2.2"/>
<circle class="g3" cx="238.4" cy="173.5" r="2.2"/>
<circle class="g4" cx="290.7" cy="192.9" r="2.2"/>
<circle class="g3" cx="230.9" cy="144.4" r="2.2"/>
<circle class="g1" cx="135.5" cy="192.6" r="2.2"/>
<circle class="g2" cx="191.3" cy="208.3" r="2.2"/>
<circle class="g2" cx="179.8" cy="176.1" r="2.2"/>
<circle class="g4" cx="297.6" cy="137.0" r="2.2"/>
<circle class="g2" cx="178.0" cy="235.6" r="2.2"/>
<circle class="g1" cx="132.3" cy="194.6" r="2.2"/>
<circle class="g1" cx="114.8" cy="142.6" r="2.2"/>
<circle class="g4" cx="303.3" cy="154.6" r="2.2"/>
<circle class="g2" cx="181.6" cy="115.9" r="2.2"/>
<circle class="g4" cx="298.8" cy="158.0" r="2.2"/>
<circle class="g2" cx="172.4" cy="297.4" r="2.2"/>
<circle class="g2" cx="185.8" cy="127.6" r="2.2"/>
<circle class="g1" cx="125.2" cy="160.5" r="2.2"/>
<circle class="g2" cx="173.3" cy="189.3" r="2.2"/>
<circle class="g1" cx="133.4" cy="170.0" r="2.2"/>
<circle class="g3" cx="244.2" cy="155.3" r="2.2"/>
<circle class="g2" cx="173.8" cy="148.3" r="2.2"/>
<circle class="g3" cx="230.8" cy="157.2" r="2.2"/>
<circle class="g4" cx="290.3" cy="152.5" r="2.2"/>
<circle class="g4" cx="298.0" cy="159.9" r="2.2"/>
<circle class="g2" cx="177.2" cy="171.8" r="2.2"/>
<circle class="g3" cx="228.5" cy="141.4" r="2.2"/>
<circle class="g2" cx="174.0" cy="193.2" r="2.2"/>
<circle class="g4" cx="293.8" cy="125.3" r="2.2"/>
<circle class="g3" cx="226.1" cy="177.4" r="2.2"/>
<circle class="g1" cx="125.2" cy="202.5" r="2.2"/>
<circle class="g1" cx="130.5" cy="159.6" r="2.2"/>
<circle class="g2" cx="179.5" cy="202.6" r="2.2"/>
<circle class="g2" cx="186.7" cy="208.0" r="2.2"/>
<circle class="g4" cx="304.8" cy="153.3" r="2.2"/>
<circle class="g1" cx="121.8" cy="214.6" r="2.2"/>
<circle class="g2" cx="188.0" cy="173.1" r="2.2"/>
<circle class="g3" cx="236.8" cy="137.5" r="2.2"/>
<circle class="g2" cx="172.2" cy="156.5" r="2.2"/>
<circle class="g4" cx="298.0" cy="180.2" r="2.2"/>
<circle class="g3" cx="248.2" cy="152.1" r="2.2"/>
<circle class="g2" cx="173.5" cy="177.1" r="2.2"/>
<circle class="g1" cx="135.7" cy="177.5" r="2.2"/>
<circle class="g1" cx="136.6" cy="186.8" r="2.2"/>
<circle class="g1" cx="136.3" cy="186.9" r="2.2"/>
<circle class="g2" cx="179.9" cy="160.2" r="2.2"/>
<circle class="g3" cx="229.8" cy="220.5" r="2.2"/>
<circle class="g1" cx="135.6" cy="200.3" r="2.2"/>
<circle class="g0" cx="74.5" cy="213.5" r="2.2"/>
<circle class="g4" cx="299.2" cy="74.5" r="2.2"/>
<circle class="g1" cx="119.4" cy="202.1" r="2.2"/>
<circle class="g1" cx="117.6" cy="200.1" r="2.2"/>
<circle class="g1" cx="122.3" cy="142.8" r="2.2"/>
<circle class="g1" cx="131.6" cy="131.4" r="2.2"/>
<circle class="g2" cx="173.9" cy="154.7" r="2.2"/>
<circle class="g2" cx="179.7" cy="133.0" r="2.2"/>
<circle class="g1" cx="115.2" cy="198.6" r="2.2"/>
<circle class="g1" cx="116.6" cy="212.7" r="2.2"/>
<circle class="g2" cx="182.7" cy="158.6" r="2.2"/>
<circle class="g1" cx="117.2" cy="233.5" r="2.2"/>
<circle class="g3" cx="244.7" cy="68.1" r="2.2"/>
<circle class="g4" cx="292.0" cy="148.8" r="2.2"/>
<circle class="g4" cx="305.2" cy="138.2" r="2.2"/>
<circle class="g2" cx="193.1" cy="115.9" r="2.2"/>
<circle class="g3" cx="242.0" cy="211.3" r="2.2"/>
<circle class="g4" cx="286.1" cy="172.6" r="2.2"/>
<circle class="g2" cx="170.9" cy="107.3" r="2.2"/>
<circle class="g4" cx="291.9" cy="144.3" r="2.2"/>
<circle class="g1" cx="123.7" cy="148.9" r="2.2"/>
<circle class="g2" cx="183.5" cy="151.7" r="2.2"/>
<circle class="g4" cx="292.4" cy="120.5" r="2.2"/>
<circle class="g0" cx="65.1" cy="220.9" r="2.2"/>
<circle class="g4" cx="286.1" cy="176.1" r="2.2"/>
<circle class="g2" cx="175.3" cy="133.1" r="2.2"/>
<circle class="g4" cx="295.8" cy="208.4" r="2.2"/>
<circle class="g1" cx="135.0" cy="203.3" r="2.2"/>
<circle class="g4" cx="288.5" cy="171.7" r="2.2"/>
<circle class="g3" cx="246.5" cy="225.3" r="2.2"/>
<circle class="g0" cx="61.6" cy="259.0" r="2.2"/>
<circle class="g3" cx="238.6" cy="182.8" r="2.2"/>
<circle class="g3" cx="245.0" cy="150.3" r="2.2"/>
<circle class="g1" cx="124.3" cy="182.2" r="2.2"/>
<circle class="g1" cx="123.4" cy="227.4" r="2.2"/>
<circle class="g2" cx="190.0" cy="148.6" r="2.2"/>
<circle class="g4" cx="303.0" cy="148.7" r="2.2"/>
<circle class="g1" cx="137.4" cy="185.6" r="2.2"/>
<circle class="g1" cx="119.1" cy="187.8" r="2.2"/>
<circle class="g3" cx="229.8" cy="179.2" r="2.2"/>
<circle class="g3" cx="249.1" cy="184.0" r="2.2"/>
<circle class="g2" cx="192.0" cy="158.9" r="2.2"/>
<circle class="g4" cx="283.6" cy="191.6" r="2.2"/>
<circle class="g2" cx="170.5" cy="190.6" r="2.2"/>
<circle class="g2" cx="180.0" cy="132.2" r="2.2"/>
<circle class="g4" cx="298.2" cy="195.4" r="2.2"/>
<circle class="g3" cx="232.0" cy="189.3" r="2.2"/>
<circle class="g4" cx="303.5" cy="144.8" r="2.2"/>
<circle class="g1" cx="114.1" cy="170.8" r="2.2"/>
<circle class="g3" cx="229.8" cy="210.3" r="2.2"/>
<circle class="g2" cx="188.3" cy="166.4" r="2.2"/>
<circle class="g3" cx="234.4" cy="148.7" r="2.2"/>
<circle class="g3" cx="236.8" cy="176.7" r="2.2"/>
<circle class="g2" cx="189.2" cy="149.4" r="2.2"/>
<circle class="g1" cx="135.4" cy="134.3" r="2.2"/>
<circle class="g1" cx="114.8" cy="184.5" r="2.2"/>
<circle class="g4" cx="288.5" cy="138.6" r="2.2"/>
<circle class="g2" cx="187.4" cy="167.0" r="2.2"/>
<circle class="g4" cx="285.5" cy="160.3" r="2.2"/>
<circle class="g4" cx="286.6" cy="129.4" r="2.2"/>
<circle class="g3" cx="246.4" cy="138.9" r="2.2"/>
<circle class="g3" cx="234.7" cy="133.5" r="2.2"/>
<circle class="g2" cx="188.3" cy="136.4" r="2.2"/>
<circle class="g4" cx="291.8" cy="189.0" r="2.2"/>
<circle class="g1" cx="120.3" cy="160.1" r="2.2"/>
<circle class="g4" cx="296.4" cy="168.7" r="2.2"/>
<circle class="g1" cx="116.1" cy="170.8" r="2.2"/>
<circle class="g2" cx="176.0" cy="236.1" r="2.2"/>
<circle class="g4" cx="304.7" cy="202.7" r="2.2"/>
<circle class="g1" cx="116.1" cy="134.7" r="2.2"/>
<circle class="g0" cx="59.6" cy="276.5" r="2.2"/>
<circle class="g1" cx="121.1" cy="183.9" r="2.2"/>
<circle class="g2" cx="186.5" cy="222.7" r="2.2"/>
<circle class="g4" cx="293.9" cy="133.1" r="2.2"/>
<circle class="g1" cx="128.1" cy="192.4" r="2.2"/>
<circle class="g1" cx="124.0" cy="227.4" r="2.2"/>
<circle class="g1" cx="135.7" cy="181.1" r="2.2"/>
<circle class="g4" cx="303.0" cy="164.2" r="2.2"/>
<circle class="g4" cx="289.7" cy="237.7" r="2.2"/>
<circle class="g4" cx="284.1" cy="214.6" r="2.2"/>
<circle class="g3" cx="245.0" cy="148.6" r="2.2"/>
<circle class="g1" cx="121.3" cy="148.2" r="2.2"/>
<circle class="g4" cx="298.6" cy="167.4" r="2.2"/>
<circle class="g3" cx="234.6" cy="205.0" r="2.2"/>
<circle class="g2" cx="175.1" cy="212.4" r="2.2"/>
<circle class="g4" cx="297.8" cy="131.4" r="2.2"/>
<circle class="g4" cx="288.4" cy="155.0" r="2.2"/>
<circle class="g1" cx="133.2" cy="140.3" r="2.2"/>
<circle class="g4" cx="302.0" cy="105.9" r="2.2"/>
<circle class="g0" cx="76.9" cy="201.9" r="2.2"/>
<circle class="g3" cx="227.3" cy="190.7" r="2.2"/>
<circle class="g3" cx="240.8" cy="193.1" r="2.2"/>
<circle class="g2" cx="180.5" cy="236.7" r="2.2"/>
<circle class="g1" cx="127.6" cy="151.9" r="2.2"/>
<circle class="g2" cx="187.4" cy="180.9" r="2.2"/>
<circle class="g1" cx="125.6" cy="174.9" r="2.2"/>
<circle class="g1" cx="115.0" cy="186.2" r="2.2"/>
<circle class="g2" cx="190.1" cy="189.0" r="2.2"/>
<circle class="g2" cx="177.0" cy="189.5" r="2.2"/>
<circle class="g1" cx="134.5" cy="168.2" r="2.2"/>
<circle class="g4" cx="287.8" cy="225.9" r="2.2"/>
<circle class="g3" cx="229.0" cy="194.0" r="2.2"/>
<circle class="g3" cx="247.4" cy="136.3" r="2.2"/>
<circle class="g4" cx="300.4" cy="154.9" r="2.2"/>
<circle class="g2" cx="192.3" cy="209.6" r="2.2"/>
<circle class="g0" cx="66.6" cy="179.8" r="2.2"/>
<circle class="g4" cx="297.8" cy="154.9" r="2.2"/>
<circle class="g4" cx="299.3" cy="186.3" r="2.2"/>
<circle class="g1" cx="120.2" cy="168.1" r="2.2"/>
<circle class="g1" cx="115.5" cy="177.6" r="2.2"/>
<circle class="g4" cx="301.8" cy="132.0" r="2.2"/>
<circle class="g3" cx="227.0" cy="142.8" r="2.2"/>
<circle class="g4" cx="295.7" cy="146.2" r="2.2"/>
<circle class="g2" cx="180.8" cy="170.5" r="2.2"/>
<circle class="g3" cx="241.7" cy="138.6" r="2.2"/>
<circle class="g0" cx="67.4" cy="196.9" r="2.2"/>
<circle class="g2" cx="185.7" cy="220.9" r="2.2"/>
<circle class="g2" cx="180.7" cy="132.7" r="2.2"/>
<circle class="g4" cx="304.5" cy="176.9" r="2.2"/>
<circle class="g3" cx="246.3" cy="139.7" r="2.2"/>
<circle class="g4" cx="288.6" cy="153.9" r="2.2"/>
<circle class="g1" cx="129.2" cy="208.4" r="2.2"/>
<circle class="g2" cx="185.5" cy="202.2" r="2.2"/>
<circle class="g4" cx="303.3" cy="200.7" r="2.2"/>
<circle class="g1" cx="133.8" cy="219.7" r="2.2"/>
<circle class="g2" cx="185.0" cy="226.7" r="2.2"/>
<circle class="g2" cx="177.9" cy="113.5" r="2.2"/>
<circle class="g4" cx="296.8" cy="113.0" r="2.2"/>
<circle class="g3" cx="232.9" cy="113.4" r="2.2"/>
<circle class="g2" cx="176.5" cy="178.9" r="2.2"/>
<circle class="g4" cx="291.0" cy="222.7" r="2.2"/>
<circle class="g1" cx="124.5" cy="184.4" r="2.2"/>
<circle class="g4" cx="294.1" cy="149.9" r="2.2"/>
<circle class="g4" cx="304.0" cy="183.9" r="2.2"/>
<circle class="g4" cx="289.6" cy="167.9" r="2.2"/>
<circle class="g1" cx="123.3" cy="172.9" r="2.2"/>
<circle class="g3" cx="244.9" cy="154.0" r="2.2"/>
<circle class="g3" cx="228.2" cy="167.1" r="2.2"/>
<circle class="g2" cx="190.3" cy="143.9" r="2.2"/>
<circle class="g4" cx="300.7" cy="133.7" r="2.2"/>
<circle class="g4" cx="284.4" cy="138.3" r="2.2"/>
<circle class="g3" cx="233.8" cy="133.3" r="2.2"/>
<circle class="g3" cx="246.0" cy="142.1" r="2.2"/>
<circle class="g4" cx="285.0" cy="135.9" r="2.2"/>
<circle class="g4" cx="285.4" cy="154.9" r="2.2"/>
<circle class="g1" cx="133.3" cy="114.3" r="2.2"/>
<circle class="g4" cx="287.0" cy="199.9" r="2.2"/>
<circle class="g2" cx="188.0" cy="157.2" r="2.2"/>
<circle class="g4" cx="294.4" cy="169.7" r="2.2"/>
<circle class="g1" cx="125.0" cy="149.7" r="2.2"/>
<circle class="g2" cx="188.5" cy="156.7" r="2.2"/>
<circle class="g4" cx="293.6" cy="158.2" r="2.2"/>
<circle class="g1" cx="118.0" cy="129.7" r="2.2"/>
<circle class="g3" cx="231.9" cy="131.6" r="2.2"/>
<circle class="g0" cx="73.4" cy="231.8" r="2.2"/>
<circle class="g1" cx="132.7" cy="144.9" r="2.2"/>
<circle class="g4" cx="296.5" cy="150.1" r="2.2"/>
<circle class="g4" cx="284.9" cy="198.8" r="2.2"/>
<circle class="g1" cx="127.0" cy="140.0" r="2.2"/>
<circle class="g3" cx="238.1" cy="158.9" r="2.2"/>
<circle class="g4" cx="303.9" cy="154.1" r="2.2"/>
<circle class="g3" cx="228.5" cy="159.2" r="2.2"/>
<circle class="g2" cx="176.3" cy="137.4" r="2.2"/>
<circle class="g1" cx="117.4" cy="207.2" r="2.2"/>
<circle class="g0" cx="71.0" cy="184.2" r="2.2"/>
<circle class="g3" cx="236.8" cy="132.7" r="2.2"/>
<circle class="g2" cx="184.8" cy="156.2" r="2.2"/>
<circle class="g3" cx="233.5" cy="164.4" r="2.2"/>
<circle class="g1" cx="120.1" cy="137.6" r="2.2"/>
<circle class="g3" cx="231.4" cy="206.8" r="2.2"/>
<circle class="g4" cx="305.1" cy="194.6" r="2.2"/>
<circle class="g3" cx="238.5" cy="149.9" r="2.2"/>
<circle class="g4" cx="304.1" cy="182.1" r="2.2"/>
<circle class="g3" cx="242.4" cy="159.0" r="2.2"/>
<circle class="g4" cx="300.9" cy="152.7" r="2.2"/>
<circle class="g3" cx="228.4" cy="133.7" r="2.2"/>
<circle class="g1" cx="124.9" cy="161.1" r="2.2"/>
<circle class="g3" cx="247.3" cy="209.5" r="2.2"/>
<circle class="g4" cx="283.6" cy="123.6" r="2.2"/>
<circle class="g3" cx="238.7" cy="170.4" r="2.2"/>
<circle class="g3" cx="228.1" cy="122.2" r="2.2"/>
<circle class="g4" cx="294.4" cy="126.8" r="2.2"/>
<circle class="g2" cx="190.5" cy="138.9" r="2.2"/>
<circle class="g2" cx="188.2" cy="222.1" r="2.2"/>
<circle class="g0" cx="80.1" cy="173.0" r="2.2"/>
<circle class="g3" cx="238.7" cy="167.3" r="2.2"/>
<circle class="g4" cx="297.8" cy="207.5" r="2.2"/>
<circle class="g3" cx="242.0" cy="128.4" r="2.2"/>
<circle class="g4" cx="302.4" cy="156.3" r="2.2"/>
<circle class="g4" cx="292.5" cy="165.5" r="2.2"/>
<circle class="g2" cx="170.1" cy="154.0" r="2.2"/>
<circle class="g3" cx="242.3" cy="122.3" r="2.2"/>
<circle class="g4" cx="288.8" cy="191.6" r="2.2"/>
<circle class="g1" cx="132.6" cy="213.4" r="2.2"/>
<circle class="g3" cx="229.2" cy="189.1" r="2.2"/>
<circle class="g2" cx="189.3" cy="153.3" r="2.2"/>
<circle class="g2" cx="183.8" cy="128.8" r="2.2"/>
<circle class="g1" cx="120.3" cy="189.2" r="2.2"/>
<circle class="g3" cx="229.6" cy="146.9" r="2.2"/>
<circle class="g3" cx="229.0" cy="193.9" r="2.2"/>
<circle class="g4" cx="285.5" cy="157.6" r="2.2"/>
<circle class="g3" cx="242.7" cy="179.4" r="2.2"/>
<circle class="g2" cx="182.4" cy="116.1" r="2.2"/>
<circle class="g1" cx="134.2" cy="184.6" r="2.2"/>
<circle class="g2" cx="176.6" cy="198.1" r="2.2"/>
<circle class="g2" cx="190.7" cy="167.3" r="2.2"/>
<circle class="g3" cx="242.0" cy="155.7" r="2.2"/>
<circle class="g2" cx="177.6" cy="180.6" r="2.2"/>
<circle class="g1" cx="135.5" cy="211.3" r="2.2"/>
<circle class="g4" cx="300.4" cy="129.9" r="2.2"/>
<circle class="g4" cx="284.0" cy="202.4" r="2.2"/>
<circle class="g3" cx="235.4" cy="243.4" r="2.2"/>
<circle class="g4" cx="305.0" cy="132.7" r="2.2"/>
<circle class="g0" cx="67.4" cy="175.8" r="2.2"/>
<circle class="g4" cx="288.6" cy="149.5" r="2.2"/>
<circle class="g3" cx="232.1" cy="127.1" r="2.2"/>
<circle class="g2" cx="188.4" cy="191.5" r="2.2"/>
<circle class="g3" cx="238.2" cy="153.2" r="2.2"/>
<circle class="g3" cx="237.3" cy="170.9" r="2.2"/>
<circle class="g2" cx="183.1" cy="165.0" r="2.2"/>
<circle class="g4" cx="286.6" cy="186.2" r="2.2"/>
<circle class="g3" cx="229.2" cy="145.6" r="2.2"/>
<circle class="g1" cx="136.3" cy="230.9" r="2.2"/>
<circle class="g2" cx="189.3" cy="137.5" r="2.2"/>
<circle class="g4" cx="291.1" cy="175.0" r="2.2"/>
<circle class="g4" cx="300.0" cy="199.1" r="2.2"/>
<circle class="g4" cx="305.1" cy="136.7" r="2.2"/>
<circle class="g4" cx="296.4" cy="168.5" r="2.2"/>
<circle class="g3" cx="242.2" cy="165.5" r="2.2"/>
<circle class="g3" cx="243.0" cy="159.2" r="2.2"/>
<circle class="g4" cx="305.5" cy="174.9" r="2.2"/>
<circle class="g1" cx="123.3" cy="187.1" r="2.2"/>
<circle class="g0" cx="81.1" cy="179.3" r="2.2"/>
<circle class="g3" cx="243.1" cy="174.8" r="2.2"/>
<circle class="g3" cx="246.3" cy="144.4" r="2.2"/>
<circle class="g4" cx="282.2" cy="163.4" r="2.2"/>
<circle class="g2" cx="188.0" cy="220.0" r="2.2"/>
<circle class="g4" cx="303.6" cy="164.1" r="2.2"/>
<circle class="g3" cx="237.2" cy="159.2" r="2.2"/>
<circle class="g1" cx="125.2" cy="183.7" r="2.2"/>
<circle class="g3" cx="237.4" cy="105.7" r="2.2"/>
<circle class="g2" cx="171.4" cy="209.5" r="2.2"/>
<circle class="g1" cx="134.9" cy="186.6" r="2.2"/>
<circle class="g3" cx="246.3" cy="111.8" r="2.2"/>
<rect x="42.0" y="25.8" width="280.4" height="318.8" fill="none" stroke="#000" stroke-width="1.6"/>
<line x1="36.5" y1="306.2" x2="42.0" y2="306.2" stroke="#000" stroke-width="1.6"/>
<line x1="322.4" y1="306.2" x2="326.9" y2="306.2" stroke="#000" stroke-width="1.6"/>
<text x="34.0" y="311.0" font-size="13.5" text-anchor="end" >6</text>
<line x1="36.5" y1="237.1" x2="42.0" y2="237.1" stroke="#000" stroke-width="1.6"/>
<line x1="322.4" y1="237.1" x2="326.9" y2="237.1" stroke="#000" stroke-width="1.6"/>
<text x="34.0" y="241.9" font-size="13.5" text-anchor="end" >7</text>
<line x1="36.5" y1="168.1" x2="42.0" y2="168.1" stroke="#000" stroke-width="1.6"/>
<line x1="322.4" y1="168.1" x2="326.9" y2="168.1" stroke="#000" stroke-width="1.6"/>
<text x="34.0" y="172.9" font-size="13.5" text-anchor="end" >8</text>
<line x1="36.5" y1="99.1" x2="42.0" y2="99.1" stroke="#000" stroke-width="1.6"/>
<line x1="322.4" y1="99.1" x2="326.9" y2="99.1" stroke="#000" stroke-width="1.6"/>
<text x="34.0" y="103.9" font-size="13.5" text-anchor="end" >9</text>
<line x1="36.5" y1="30.0" x2="42.0" y2="30.0" stroke="#000" stroke-width="1.6"/>
<line x1="322.4" y1="30.0" x2="326.9" y2="30.0" stroke="#000" stroke-width="1.6"/>
<text x="34.0" y="34.8" font-size="13.5" text-anchor="end" >10</text>
<line x1="69.8" y1="21.2" x2="69.8" y2="25.8" stroke="#000" stroke-width="1.6"/>
<line x1="69.8" y1="344.6" x2="69.8" y2="350.2" stroke="#000" stroke-width="1.6"/>
<line x1="125.8" y1="21.2" x2="125.8" y2="25.8" stroke="#000" stroke-width="1.6"/>
<line x1="125.8" y1="344.6" x2="125.8" y2="350.2" stroke="#000" stroke-width="1.6"/>
<line x1="181.8" y1="21.2" x2="181.8" y2="25.8" stroke="#000" stroke-width="1.6"/>
<line x1="181.8" y1="344.6" x2="181.8" y2="350.2" stroke="#000" stroke-width="1.6"/>
<line x1="237.8" y1="21.2" x2="237.8" y2="25.8" stroke="#000" stroke-width="1.6"/>
<line x1="237.8" y1="344.6" x2="237.8" y2="350.2" stroke="#000" stroke-width="1.6"/>
<line x1="293.8" y1="21.2" x2="293.8" y2="25.8" stroke="#000" stroke-width="1.6"/>
<line x1="293.8" y1="344.6" x2="293.8" y2="350.2" stroke="#000" stroke-width="1.6"/>
<text transform="translate(12.2,184.5) rotate(-90)" font-size="13.7" text-anchor="middle">DICER mRNA abundance</text>
<text x="69.8" y="367.3" font-size="13.5" text-anchor="middle" >1</text>
<text x="125.8" y="367.3" font-size="13.5" text-anchor="middle" >2</text>
<text x="181.8" y="367.3" font-size="13.5" text-anchor="middle" >2</text>
<text x="237.8" y="367.3" font-size="13.5" text-anchor="middle" >2</text>
<text x="293.8" y="367.3" font-size="13.5" text-anchor="middle" >2</text>
<text x="327.6" y="367.3" font-size="13.5" text-anchor="start" >DICER copy number</text>
<text x="69.8" y="389.2" font-size="13.5" text-anchor="middle" >n.a.</text>
<text x="125.8" y="389.2" font-size="13.5" text-anchor="middle" >1.6E&#8211;7</text>
<text x="181.8" y="389.2" font-size="13.5" text-anchor="middle" >6.5E&#8211;16</text>
<text x="237.8" y="389.2" font-size="13.5" text-anchor="middle" >9.2E&#8211;22</text>
<text x="293.8" y="389.2" font-size="13.5" text-anchor="middle" >1.3E&#8211;28</text>
<text x="327.6" y="389.2" font-size="13.5" text-anchor="start" ><tspan font-style="italic">P</tspan>-value compared to CNV1</text>
<text x="69.8" y="411.0" font-size="13.5" text-anchor="middle" >7.52</text>
<text x="125.8" y="411.0" font-size="13.5" text-anchor="middle" >7.76</text>
<text x="181.8" y="411.0" font-size="13.5" text-anchor="middle" >7.93</text>
<text x="237.8" y="411.0" font-size="13.5" text-anchor="middle" >8.00</text>
<text x="293.8" y="411.0" font-size="13.5" text-anchor="middle" >8.10</text>
<text x="327.6" y="411.0" font-size="13.5" text-anchor="start" >Mean DICER expression</text>
<text x="69.8" y="432.9" font-size="13.5" text-anchor="middle" >n.a.</text>
<text x="125.8" y="432.9" font-size="13.5" text-anchor="middle" >4th</text>
<text x="181.8" y="432.9" font-size="13.5" text-anchor="middle" >3rd</text>
<text x="237.8" y="432.9" font-size="13.5" text-anchor="middle" >2nd</text>
<text x="293.8" y="432.9" font-size="13.5" text-anchor="middle" >1st</text>
<text x="327.6" y="432.9" font-size="13.5" text-anchor="start" >Quartile (Winter score)</text>
<text x="69.8" y="454.7" font-size="13.5" text-anchor="middle" >90</text>
<text x="125.8" y="454.7" font-size="13.5" text-anchor="middle" >417</text>
<text x="181.8" y="454.7" font-size="13.5" text-anchor="middle" >454</text>
<text x="237.8" y="454.7" font-size="13.5" text-anchor="middle" >517</text>
<text x="293.8" y="454.7" font-size="13.5" text-anchor="middle" >473</text>
<text x="327.6" y="454.7" font-size="13.5" text-anchor="start" >Number of patients</text>
<line x1="555.5" y1="15.1" x2="934.0" y2="15.1" stroke="#000" stroke-width="1.4"/>
<line x1="555.5" y1="91.6" x2="934.0" y2="91.6" stroke="#000" stroke-width="1.4"/>
<line x1="555.5" y1="522.8" x2="934.0" y2="522.8" stroke="#000" stroke-width="1.4"/>
<text x="566.5" y="83.2" font-size="13.5" text-anchor="start" >Dataset</text>
<text x="759.5" y="50.2" font-size="13.5" text-anchor="middle" >Median</text>
<text x="759.5" y="66.5" font-size="13.5" text-anchor="middle" >spearman&#8217;s</text>
<text x="759.5" y="82.7" font-size="13.5" text-anchor="middle" >correlation</text>
<text x="875.5" y="33.9" font-size="13.5" text-anchor="middle" >Median</text>
<text x="875.5" y="50.1" font-size="13.5" text-anchor="middle" >spearman&#8217;s</text>
<text x="875.5" y="66.4" font-size="13.5" text-anchor="middle" >correlation</text>
<text x="875.5" y="82.7" font-size="13.5" text-anchor="middle" ><tspan font-style="italic">P</tspan>-value</text>
<text x="562.8" y="110.5" font-size="13.5" text-anchor="start" >METABRIC</text>
<text x="772.8" y="110.5" font-size="13.5" text-anchor="end" >&#8211;0.29</text>
<text x="871.0" y="110.5" font-size="13.5" text-anchor="middle" >1.08E&#8211;36</text>
<text x="562.8" y="129.7" font-size="13.5" text-anchor="start" >TCGA</text>
<text x="772.8" y="129.7" font-size="13.5" text-anchor="end" >&#8211;0.24</text>
<text x="871.0" y="129.7" font-size="13.5" text-anchor="middle" >5.65E&#8211;05</text>
<text x="562.8" y="149.0" font-size="13.5" text-anchor="start" >Harris</text>
<text x="772.8" y="149.0" font-size="13.5" text-anchor="end" >&#8211;0.37</text>
<text x="871.0" y="149.0" font-size="13.5" text-anchor="middle" >3.00E&#8211;08</text>
<text x="562.8" y="168.2" font-size="13.5" text-anchor="start" >Pooled dataset</text>
<text x="772.8" y="168.2" font-size="13.5" text-anchor="end" >&#8211;0.23</text>
<text x="871.0" y="168.2" font-size="13.5" text-anchor="middle" >5.80E&#8211;13</text>
<text x="562.8" y="187.4" font-size="13.5" text-anchor="start" >Bild</text>
<text x="772.8" y="187.4" font-size="13.5" text-anchor="end" >0.12</text>
<text x="871.0" y="187.4" font-size="13.5" text-anchor="middle" >1.42E&#8211;01</text>
<text x="562.8" y="206.7" font-size="13.5" text-anchor="start" >Bos</text>
<text x="772.8" y="206.7" font-size="13.5" text-anchor="end" >&#8211;0.30</text>
<text x="871.0" y="206.7" font-size="13.5" text-anchor="middle" >1.49E&#8211;05</text>
<text x="562.8" y="225.9" font-size="13.5" text-anchor="start" >Chin</text>
<text x="772.8" y="225.9" font-size="13.5" text-anchor="end" >&#8211;0.23</text>
<text x="871.0" y="225.9" font-size="13.5" text-anchor="middle" >9.57E&#8211;03</text>
<text x="562.8" y="245.1" font-size="13.5" text-anchor="start" >Desmedt 1</text>
<text x="772.8" y="245.1" font-size="13.5" text-anchor="end" >&#8211;0.34</text>
<text x="871.0" y="245.1" font-size="13.5" text-anchor="middle" >1.37E&#8211;06</text>
<text x="562.8" y="264.3" font-size="13.5" text-anchor="start" >Desmedt 2</text>
<text x="772.8" y="264.3" font-size="13.5" text-anchor="end" >&#8211;0.12</text>
<text x="871.0" y="264.3" font-size="13.5" text-anchor="middle" >2.21E&#8211;01</text>
<text x="562.8" y="283.6" font-size="13.5" text-anchor="start" >Hatzis 1</text>
<text x="772.8" y="283.6" font-size="13.5" text-anchor="end" >&#8211;0.05</text>
<text x="871.0" y="283.6" font-size="13.5" text-anchor="middle" >3.39E&#8211;01</text>
<text x="562.8" y="302.8" font-size="13.5" text-anchor="start" >Hatzis 2</text>
<text x="772.8" y="302.8" font-size="13.5" text-anchor="end" >&#8211;0.18</text>
<text x="871.0" y="302.8" font-size="13.5" text-anchor="middle" >1.35E&#8211;02</text>
<text x="562.8" y="322.0" font-size="13.5" text-anchor="start" >Ivshina</text>
<text x="772.8" y="322.0" font-size="13.5" text-anchor="end" >&#8211;0.30</text>
<text x="871.0" y="322.0" font-size="13.5" text-anchor="middle" >1.03E&#8211;06</text>
<text x="562.8" y="341.3" font-size="13.5" text-anchor="start" >Kao</text>
<text x="772.8" y="341.3" font-size="13.5" text-anchor="end" >&#8211;0.13</text>
<text x="871.0" y="341.3" font-size="13.5" text-anchor="middle" >1.60E&#8211;02</text>
<text x="562.8" y="360.5" font-size="13.5" text-anchor="start" >Miller</text>
<text x="772.8" y="360.5" font-size="13.5" text-anchor="end" >&#8211;0.29</text>
<text x="871.0" y="360.5" font-size="13.5" text-anchor="middle" >5.55E&#8211;06</text>
<text x="562.8" y="379.7" font-size="13.5" text-anchor="start" >Pawitan</text>
<text x="772.8" y="379.7" font-size="13.5" text-anchor="end" >&#8211;0.45</text>
<text x="871.0" y="379.7" font-size="13.5" text-anchor="middle" >2.05E&#8211;09</text>
<text x="562.8" y="398.9" font-size="13.5" text-anchor="start" >Sabatier</text>
<text x="772.8" y="398.9" font-size="13.5" text-anchor="end" >&#8211;0.37</text>
<text x="871.0" y="398.9" font-size="13.5" text-anchor="middle" >1.17E&#8211;09</text>
<text x="562.8" y="418.2" font-size="13.5" text-anchor="start" >Schimdt</text>
<text x="772.8" y="418.2" font-size="13.5" text-anchor="end" >&#8211;0.28</text>
<text x="871.0" y="418.2" font-size="13.5" text-anchor="middle" >5.61E&#8211;05</text>
<text x="562.8" y="437.4" font-size="13.5" text-anchor="start" >Sotiriou</text>
<text x="772.8" y="437.4" font-size="13.5" text-anchor="end" >&#8211;0.23</text>
<text x="871.0" y="437.4" font-size="13.5" text-anchor="middle" >2.80E&#8211;02</text>
<text x="562.8" y="456.6" font-size="13.5" text-anchor="start" >Symmans 1</text>
<text x="772.8" y="456.6" font-size="13.5" text-anchor="end" >&#8211;0.34</text>
<text x="871.0" y="456.6" font-size="13.5" text-anchor="middle" >5.75E&#8211;03</text>
<text x="562.8" y="475.9" font-size="13.5" text-anchor="start" >Symmans 2</text>
<text x="772.8" y="475.9" font-size="13.5" text-anchor="end" >&#8211;0.15</text>
<text x="871.0" y="475.9" font-size="13.5" text-anchor="middle" >3.39E&#8211;02</text>
<text x="562.8" y="495.1" font-size="13.5" text-anchor="start" >Wang</text>
<text x="772.8" y="495.1" font-size="13.5" text-anchor="end" >&#8211;0.25</text>
<text x="871.0" y="495.1" font-size="13.5" text-anchor="middle" >1.29E&#8211;05</text>
<text x="562.8" y="514.3" font-size="13.5" text-anchor="start" >Zhang</text>
<text x="772.8" y="514.3" font-size="13.5" text-anchor="end" >&#8211;0.13</text>
<text x="871.0" y="514.3" font-size="13.5" text-anchor="middle" >1.18E&#8211;01</text>
<text transform="translate(32.3,667) rotate(-90)" font-size="13.5" text-anchor="middle">Survival (%)</text>
<path d="M67.6,532.5 L67.9,532.8 L68.3,533.2 L68.7,533.6 L69.2,534.1 L69.7,534.6 L70.2,535.2 L70.8,535.8 L71.4,536.4 L72.0,537.1 L72.6,537.7 L73.1,538.3 L73.6,539.0 L74.1,539.6 L74.6,540.3 L75.2,541.0 L75.7,541.7 L76.2,542.4 L76.7,543.1 L77.2,543.8 L77.7,544.6 L78.2,545.3 L78.7,546.1 L79.2,546.8 L79.7,547.6 L80.2,548.4 L80.7,549.2 L81.2,550.0 L81.7,550.8 L82.2,551.6 L82.7,552.4 L83.2,553.2 L83.7,554.1 L84.2,554.9 L84.7,555.7 L85.2,556.5 L85.7,557.3 L86.2,558.1 L86.7,558.9 L87.2,559.7 L87.7,560.5 L88.2,561.3 L88.7,562.1 L89.2,562.9 L89.8,563.7 L90.3,564.5 L90.8,565.2 L91.3,566.0 L91.8,566.8 L92.3,567.5 L92.8,568.3 L93.3,569.0 L93.8,569.8 L94.3,570.5 L94.8,571.3 L95.3,572.0 L95.8,572.8 L96.3,573.5 L96.8,574.2 L97.3,575.0 L97.8,575.7 L98.3,576.4 L98.8,577.2 L99.3,577.9 L99.8,578.6 L100.3,579.4 L100.8,580.1 L101.3,580.8 L101.8,581.5 L102.3,582.2 L102.8,582.9 L103.3,583.6 L103.8,584.3 L104.3,585.0 L104.8,585.6 L105.3,586.3 L105.8,586.9 L106.2,587.5 L106.7,588.1 L107.2,588.7 L107.7,589.3 L108.2,590.0 L108.7,590.6 L109.3,591.2 L109.9,591.9 L110.5,592.5 L111.1,593.2 L111.8,593.8 L112.4,594.4 L113.1,595.1 L113.8,595.7 L114.5,596.4 L115.3,597.1 L116.1,597.8 L116.9,598.6 L117.9,599.4 L118.8,600.2 L119.9,601.2 L121.0,602.2 L122.2,603.3 L123.4,604.4 L124.6,605.6 L125.9,606.7 L127.3,607.9 L128.6,609.1 L130.0,610.3 L131.4,611.4 L132.7,612.5 L134.1,613.5 L135.4,614.4 L136.8,615.4 L138.2,616.3 L139.6,617.3 L141.0,618.2 L142.4,619.1 L143.8,619.9 L145.3,620.7 L146.7,621.5 L148.1,622.3 L149.6,623.0 L151.0,623.7 L152.4,624.4 L153.8,625.0 L155.2,625.5 L156.6,626.0 L158.0,626.5 L159.4,626.9 L160.8,627.4 L162.3,627.8 L163.7,628.2 L165.1,628.7 L166.5,629.2 L167.9,629.7 L169.3,630.2 L170.7,630.8 L172.1,631.3 L173.5,631.9 L174.9,632.5 L176.3,633.1 L177.8,633.7 L179.2,634.3 L180.6,634.8 L182.0,635.4 L183.4,635.9 L184.8,636.4 L186.2,636.9 L187.7,637.4 L189.2,637.8 L190.7,638.3 L192.2,638.7 L193.6,639.2 L195.1,639.6 L196.5,640.0 L197.9,640.4 L199.3,640.8 L200.5,641.2 L201.7,641.5 L202.9,641.9 L204.0,642.3 L205.1,642.7 L206.2,643.0 L207.2,643.4 L208.2,643.7 L209.1,644.1 L210.0,644.4 L210.8,644.7 L211.5,644.9 L212.1,645.1 L212.6,645.3" fill="none" stroke="#4050ae" stroke-width="5.2" stroke-linejoin="round"/>
<path d="M71.2,534.5V537.3M74.0,537.8V541.2M78.2,543.3V547.4M81.8,548.9V553.0M83.7,551.8V556.4M86.4,556.3V560.4M88.1,559.3V562.9M91.9,565.2V568.7M93.6,567.5V571.4M96.0,570.9V575.2M98.8,575.2V579.0M100.2,577.1V581.3M102.5,580.2V584.9M105.5,583.9V589.1M108.2,587.5V592.0M111.5,590.3V596.2M114.8,594.1V598.0M117.0,595.1V601.4M121.2,599.6V604.4M123.2,601.7V605.8M125.0,603.2V607.6M129.2,605.8V612.7M131.6,609.2V613.6M135.6,611.4V617.6M139.5,614.4V619.9M143.4,616.0V623.1M146.7,618.1V624.9M150.1,620.1V626.5M154.2,622.4V627.8M156.8,622.9V629.2M159.6,623.0V631.0M161.2,624.1V630.8M163.9,625.0V631.6M167.1,625.4V633.3M170.2,626.9V634.2M172.7,627.0V636.1M176.4,629.1V637.2M178.1,630.2V637.4M181.5,631.9V638.5M184.1,632.4V640.0M186.0,632.2V641.4M189.9,634.5V641.7M191.8,635.1V642.3M195.2,636.2V643.3M198.7,635.7V645.8M200.4,636.5V645.8M203.8,637.8V647.0M207.1,639.8V647.7M208.9,639.1V649.7M210.9,639.6V650.3" stroke="#4050ae" stroke-width="1.1" fill="none"/>
<path d="M67.6,532.5 L67.9,532.7 L68.3,533.0 L68.7,533.3 L69.2,533.6 L69.7,534.0 L70.2,534.4 L70.8,534.8 L71.4,535.2 L72.0,535.7 L72.6,536.1 L73.1,536.6 L73.6,537.1 L74.1,537.6 L74.6,538.1 L75.2,538.6 L75.7,539.1 L76.2,539.7 L76.7,540.3 L77.2,540.9 L77.7,541.4 L78.2,542.0 L78.7,542.6 L79.2,543.2 L79.7,543.8 L80.2,544.4 L80.7,545.0 L81.2,545.7 L81.7,546.3 L82.2,546.9 L82.7,547.6 L83.2,548.2 L83.7,548.8 L84.2,549.5 L84.7,550.1 L85.2,550.8 L85.7,551.4 L86.2,552.0 L86.7,552.6 L87.2,553.3 L87.7,553.9 L88.2,554.5 L88.7,555.2 L89.2,555.8 L89.8,556.4 L90.3,557.0 L90.8,557.7 L91.3,558.3 L91.8,559.0 L92.3,559.6 L92.8,560.2 L93.3,560.9 L93.8,561.5 L94.3,562.2 L94.8,562.8 L95.3,563.5 L95.8,564.2 L96.3,564.8 L96.8,565.5 L97.3,566.1 L97.8,566.8 L98.3,567.4 L98.8,568.1 L99.3,568.8 L99.8,569.4 L100.3,570.1 L100.8,570.8 L101.3,571.4 L101.8,572.1 L102.3,572.7 L102.8,573.4 L103.3,574.0 L103.8,574.6 L104.3,575.2 L104.8,575.8 L105.3,576.3 L105.8,576.9 L106.2,577.4 L106.7,578.0 L107.2,578.5 L107.7,579.0 L108.2,579.6 L108.7,580.1 L109.3,580.6 L109.9,581.1 L110.5,581.6 L111.2,582.1 L111.9,582.5 L112.7,583.0 L113.4,583.5 L114.2,583.9 L115.0,584.4 L115.8,584.9 L116.6,585.3 L117.3,585.8 L118.1,586.3 L118.8,586.7 L119.5,587.2 L120.2,587.7 L120.9,588.2 L121.5,588.6 L122.1,589.1 L122.8,589.6 L123.4,590.1 L124.1,590.6 L124.8,591.1 L125.5,591.6 L126.3,592.1 L127.2,592.7 L128.1,593.3 L129.1,593.9 L130.1,594.5 L131.2,595.1 L132.3,595.8 L133.4,596.4 L134.5,597.1 L135.7,597.7 L136.8,598.4 L137.9,599.0 L139.0,599.6 L140.0,600.2 L140.9,600.8 L141.8,601.4 L142.7,601.9 L143.6,602.4 L144.4,603.0 L145.2,603.5 L146.1,604.0 L146.9,604.5 L147.9,605.1 L148.8,605.6 L149.9,606.1 L151.0,606.7 L152.2,607.3 L153.5,607.9 L154.8,608.6 L156.2,609.2 L157.6,609.9 L159.1,610.5 L160.5,611.2 L162.0,611.8 L163.5,612.5 L165.0,613.1 L166.5,613.7 L167.9,614.3 L169.3,614.8 L170.7,615.4 L172.1,615.9 L173.5,616.4 L174.9,617.0 L176.3,617.5 L177.8,617.9 L179.2,618.4 L180.6,618.9 L182.0,619.3 L183.4,619.8 L184.8,620.2 L186.2,620.6 L187.7,621.0 L189.2,621.4 L190.7,621.8 L192.2,622.2 L193.6,622.5 L195.1,622.9 L196.5,623.2 L197.9,623.5 L199.3,623.9 L200.5,624.2 L201.7,624.5 L202.9,624.9 L204.0,625.2 L205.1,625.6 L206.2,626.0 L207.2,626.3 L208.2,626.7 L209.1,627.0 L210.0,627.4 L210.8,627.6 L211.5,627.9 L212.1,628.1 L212.6,628.3" fill="none" stroke="#d42a30" stroke-width="5.0" stroke-linejoin="round"/>
<path d="M71.2,533.2V536.5M75.1,537.1V539.9M77.6,539.9V542.7M80.8,543.6V546.8M83.1,545.9V550.3M84.7,548.5V551.7M87.0,550.7V555.3M89.8,554.3V558.6M93.7,559.6V563.3M96.4,563.2V566.8M100.0,568.0V571.5M103.6,572.2V576.5M106.6,575.7V579.8M110.7,579.4V583.9M113.4,580.3V586.4M116.5,582.9V587.6M118.6,583.5V589.7M122.0,586.1V591.8M125.0,587.7V594.3M126.8,589.8V595.0M130.5,591.5V597.7M133.7,593.4V599.7M136.5,595.2V601.3M139.1,596.1V603.4M141.3,598.4V603.8M143.7,599.8V605.1M146.8,600.9V607.5M148.5,602.4V608.0M152.4,604.4V610.2M155.7,605.6V612.0M157.6,605.5V613.8M160.8,608.1V614.2M163.8,609.4V615.7M167.5,611.4V616.9M170.2,611.3V619.0M173.6,613.5V619.5M175.2,613.4V620.7M178.3,614.4V621.9M179.9,615.3V622.1M183.4,615.8V623.7M187.4,617.9V624.1M190.6,617.6V626.1M193.3,619.3V625.8M195.8,619.3V626.9M197.7,618.7V628.5M199.4,620.7V627.3M203.3,619.9V630.4M206.6,622.1V630.9M210.0,624.2V631.2" stroke="#d42a30" stroke-width="1.1" fill="none"/>
<rect x="67.6" y="525.0" width="145.0" height="277.4" fill="none" stroke="#000" stroke-width="2.0"/>
<line x1="62.1" y1="802.4" x2="67.6" y2="802.4" stroke="#000" stroke-width="2.0"/>
<line x1="212.6" y1="802.4" x2="217.6" y2="802.4" stroke="#000" stroke-width="2.2"/>
<text x="57.1" y="807.2" font-size="13.5" text-anchor="end" >0</text>
<line x1="62.1" y1="748.4" x2="67.6" y2="748.4" stroke="#000" stroke-width="2.0"/>
<line x1="212.6" y1="748.4" x2="217.6" y2="748.4" stroke="#000" stroke-width="2.2"/>
<text x="57.1" y="753.2" font-size="13.5" text-anchor="end" >20</text>
<line x1="62.1" y1="694.4" x2="67.6" y2="694.4" stroke="#000" stroke-width="2.0"/>
<line x1="212.6" y1="694.4" x2="217.6" y2="694.4" stroke="#000" stroke-width="2.2"/>
<text x="57.1" y="699.2" font-size="13.5" text-anchor="end" >40</text>
<line x1="62.1" y1="640.5" x2="67.6" y2="640.5" stroke="#000" stroke-width="2.0"/>
<line x1="212.6" y1="640.5" x2="217.6" y2="640.5" stroke="#000" stroke-width="2.2"/>
<text x="57.1" y="645.3" font-size="13.5" text-anchor="end" >60</text>
<line x1="62.1" y1="586.5" x2="67.6" y2="586.5" stroke="#000" stroke-width="2.0"/>
<line x1="212.6" y1="586.5" x2="217.6" y2="586.5" stroke="#000" stroke-width="2.2"/>
<text x="57.1" y="591.3" font-size="13.5" text-anchor="end" >80</text>
<line x1="62.1" y1="532.5" x2="67.6" y2="532.5" stroke="#000" stroke-width="2.0"/>
<line x1="212.6" y1="532.5" x2="217.6" y2="532.5" stroke="#000" stroke-width="2.2"/>
<text x="57.1" y="537.3" font-size="13.5" text-anchor="end" >100</text>
<line x1="67.6" y1="802.4" x2="67.6" y2="808.4" stroke="#000" stroke-width="2.0"/>
<line x1="67.6" y1="519.5" x2="67.6" y2="525.0" stroke="#000" stroke-width="2.0"/>
<text x="67.6" y="824.0" font-size="13.5" text-anchor="middle" >0</text>
<line x1="91.8" y1="802.4" x2="91.8" y2="808.4" stroke="#000" stroke-width="2.0"/>
<line x1="91.8" y1="519.5" x2="91.8" y2="525.0" stroke="#000" stroke-width="2.0"/>
<text x="91.8" y="824.0" font-size="13.5" text-anchor="middle" >2</text>
<line x1="115.9" y1="802.4" x2="115.9" y2="808.4" stroke="#000" stroke-width="2.0"/>
<line x1="115.9" y1="519.5" x2="115.9" y2="525.0" stroke="#000" stroke-width="2.0"/>
<text x="115.9" y="824.0" font-size="13.5" text-anchor="middle" >4</text>
<line x1="140.1" y1="802.4" x2="140.1" y2="808.4" stroke="#000" stroke-width="2.0"/>
<line x1="140.1" y1="519.5" x2="140.1" y2="525.0" stroke="#000" stroke-width="2.0"/>
<text x="140.1" y="824.0" font-size="13.5" text-anchor="middle" >6</text>
<line x1="164.3" y1="802.4" x2="164.3" y2="808.4" stroke="#000" stroke-width="2.0"/>
<line x1="164.3" y1="519.5" x2="164.3" y2="525.0" stroke="#000" stroke-width="2.0"/>
<text x="164.3" y="824.0" font-size="13.5" text-anchor="middle" >8</text>
<line x1="188.4" y1="802.4" x2="188.4" y2="808.4" stroke="#000" stroke-width="2.0"/>
<line x1="188.4" y1="519.5" x2="188.4" y2="525.0" stroke="#000" stroke-width="2.0"/>
<text x="188.4" y="824.0" font-size="13.5" text-anchor="middle" >10</text>
<line x1="212.6" y1="802.4" x2="212.6" y2="808.4" stroke="#000" stroke-width="2.0"/>
<line x1="212.6" y1="519.5" x2="212.6" y2="525.0" stroke="#000" stroke-width="2.0"/>
<text x="212.6" y="824.0" font-size="13.5" text-anchor="middle" >12</text>
<text x="138.9" y="842.6" font-size="13.5" text-anchor="middle" >Time (years)</text>
<text x="141.9" y="510.5" font-size="13.5" text-anchor="middle" >DICER mRNA level</text>
<text x="101.8" y="728.8" font-size="13.5" text-anchor="end" >Low</text>
<line x1="107.1" y1="725.6" x2="127.8" y2="725.6" stroke="#3f4fae" stroke-width="1.3"/>
<text x="103.4" y="746.6" font-size="13.5" text-anchor="end" >High</text>
<line x1="107.1" y1="743.4" x2="127.8" y2="743.4" stroke="#d3272f" stroke-width="1.3"/>
<text x="70.9" y="782.0" font-size="11.3">HR<tspan font-size="7.8" dy="2">HIGH</tspan><tspan dy="-2">: 0.81 (0.72, 0.91)</tspan></text>
<text x="70.9" y="794.0" font-size="11.3">P: 3.69&#215; 10<tspan font-size="7.8" dy="-4.5">&#8211;4</tspan></text>
<text x="11.5" y="864.1" font-size="13.5" text-anchor="start" >Low</text>
<text x="11.5" y="883.0" font-size="13.5" text-anchor="start" >High</text>
<text x="58.5" y="864.1" font-size="13.5" text-anchor="middle" >2019</text>
<text x="92.8" y="864.1" font-size="13.5" text-anchor="middle" >1526</text>
<text x="126.9" y="864.1" font-size="13.5" text-anchor="middle" >1105</text>
<text x="157.0" y="864.1" font-size="13.5" text-anchor="middle" >804</text>
<text x="183.6" y="864.1" font-size="13.5" text-anchor="middle" >569</text>
<text x="210.3" y="864.1" font-size="13.5" text-anchor="middle" >366</text>
<text x="236.7" y="864.1" font-size="13.5" text-anchor="middle" >133</text>
<text x="58.5" y="883.0" font-size="13.5" text-anchor="middle" >2010</text>
<text x="92.8" y="883.0" font-size="13.5" text-anchor="middle" >1630</text>
<text x="126.9" y="883.0" font-size="13.5" text-anchor="middle" >1221</text>
<text x="157.0" y="883.0" font-size="13.5" text-anchor="middle" >919</text>
<text x="183.6" y="883.0" font-size="13.5" text-anchor="middle" >676</text>
<text x="210.3" y="883.0" font-size="13.5" text-anchor="middle" >427</text>
<text x="236.3" y="883.0" font-size="13.5" text-anchor="middle" >173</text>
<path d="M309.2,532.2 L309.7,532.7 L310.3,533.4 L311.0,534.2 L311.7,535.0 L312.6,536.0 L313.5,537.0 L314.4,538.1 L315.3,539.2 L316.3,540.3 L317.2,541.5 L318.0,542.6 L318.8,543.8 L319.5,545.0 L320.3,546.2 L321.0,547.5 L321.7,548.9 L322.4,550.2 L323.1,551.6 L323.7,553.0 L324.4,554.4 L325.1,555.8 L325.8,557.2 L326.5,558.6 L327.2,560.0 L327.9,561.4 L328.6,562.7 L329.3,564.1 L330.0,565.5 L330.7,566.9 L331.4,568.2 L332.1,569.6 L332.8,571.0 L333.6,572.4 L334.3,573.7 L335.0,575.1 L335.7,576.5 L336.4,577.9 L337.1,579.2 L337.8,580.7 L338.5,582.1 L339.2,583.5 L339.9,584.9 L340.6,586.2 L341.4,587.6 L342.1,588.9 L342.8,590.2 L343.5,591.5 L344.2,592.7 L344.9,593.8 L345.6,594.9 L346.3,596.0 L346.9,597.0 L347.6,598.0 L348.3,599.0 L349.0,600.0 L349.7,600.9 L350.4,601.8 L351.1,602.8 L351.9,603.7 L352.7,604.6 L353.5,605.5 L354.4,606.3 L355.3,607.2 L356.2,608.0 L357.1,608.8 L358.0,609.7 L359.0,610.5 L360.0,611.2 L360.9,612.0 L361.9,612.8 L362.9,613.5 L363.9,614.3 L364.9,615.0 L365.8,615.7 L366.8,616.4 L367.7,617.0 L368.7,617.7 L369.7,618.3 L370.7,619.0 L371.8,619.6 L372.8,620.3 L373.9,620.9 L375.1,621.6 L376.3,622.4 L377.5,623.2 L378.8,624.0 L380.2,624.8 L381.6,625.7 L383.0,626.6 L384.5,627.5 L386.0,628.3 L387.4,629.2 L388.9,630.1 L390.4,630.9 L391.9,631.6 L393.3,632.4 L394.7,633.1 L396.1,633.7 L397.5,634.3 L398.9,634.9 L400.3,635.5 L401.7,636.0 L403.1,636.6 L404.5,637.1 L405.9,637.6 L407.3,638.1 L408.8,638.6 L410.2,639.1 L411.6,639.6 L413.0,640.1 L414.4,640.6 L415.8,641.0 L417.3,641.5 L418.7,641.9 L420.1,642.3 L421.5,642.7 L422.9,643.1 L424.3,643.5 L425.8,643.9 L427.2,644.2 L428.6,644.6 L430.1,644.9 L431.5,645.2 L433.0,645.4 L434.5,645.7 L436.0,645.9 L437.5,646.2 L438.9,646.4 L440.3,646.7 L441.6,646.9 L442.9,647.2 L444.1,647.5 L445.2,647.8 L446.4,648.2 L447.5,648.5 L448.6,648.9 L449.6,649.3 L450.6,649.7 L451.5,650.1 L452.4,650.5 L453.2,650.8 L453.9,651.1 L454.5,651.3 L455.0,651.5" fill="none" stroke="#d42a30" stroke-width="4.0" stroke-linejoin="round"/>
<path d="M312.8,533.6V537.5M316.6,538.9V542.2M318.2,541.4V544.5M322.4,549.0V552.1M324.4,552.6V556.4M328.1,560.1V563.6M330.2,564.2V567.7M334.0,571.3V575.2M337.9,578.6V582.9M341.1,584.5V589.7M345.1,591.8V596.3M348.8,597.3V601.6M352.3,601.3V606.9M356.0,604.8V610.5M359.6,607.6V614.0M363.3,611.1V616.6M365.2,612.8V617.5M368.7,614.1V620.8M370.2,615.9V620.9M373.7,617.8V623.4M376.6,619.1V626.0M379.5,621.5V627.0M382.8,623.9V628.6M385.0,623.8V631.4M388.3,626.0V633.2M390.2,627.1V634.4M392.2,629.1V634.5M396.4,631.2V636.5M400.3,631.6V639.4M403.6,633.9V639.6M405.4,633.5V641.4M408.0,634.0V642.7M411.9,636.2V643.2M414.9,636.7V644.7M417.1,637.6V645.2M420.4,638.5V646.3M422.5,638.4V647.6M426.5,639.9V648.2M428.7,640.1V649.1M431.7,641.3V649.2M433.8,642.3V648.9M436.9,642.5V649.9M439.0,641.4V651.6M440.6,641.7V651.9M443.9,642.4V652.5M448.0,643.7V654.4M452.2,645.2V656.3" stroke="#d42a30" stroke-width="1.1" fill="none"/>
<path d="M309.2,532.2 L309.7,532.5 L310.3,533.0 L311.0,533.4 L311.7,534.0 L312.6,534.6 L313.5,535.2 L314.4,535.9 L315.3,536.6 L316.3,537.2 L317.2,537.9 L318.0,538.6 L318.8,539.2 L319.5,539.8 L320.3,540.5 L321.0,541.1 L321.7,541.7 L322.4,542.4 L323.1,543.0 L323.7,543.7 L324.4,544.3 L325.1,545.0 L325.8,545.7 L326.5,546.3 L327.2,547.1 L327.9,547.8 L328.6,548.5 L329.3,549.2 L330.0,550.0 L330.7,550.8 L331.4,551.5 L332.1,552.3 L332.8,553.1 L333.6,553.9 L334.3,554.7 L335.0,555.4 L335.7,556.2 L336.4,557.0 L337.1,557.8 L337.8,558.6 L338.5,559.5 L339.2,560.3 L339.9,561.1 L340.6,561.9 L341.4,562.8 L342.1,563.6 L342.8,564.4 L343.5,565.2 L344.2,566.0 L344.9,566.7 L345.6,567.5 L346.3,568.3 L347.0,569.1 L347.7,569.9 L348.4,570.6 L349.2,571.4 L349.9,572.1 L350.6,572.8 L351.3,573.5 L352.0,574.2 L352.7,574.9 L353.4,575.5 L354.1,576.1 L354.8,576.6 L355.5,577.1 L356.2,577.7 L356.9,578.2 L357.7,578.6 L358.4,579.1 L359.1,579.6 L359.8,580.1 L360.5,580.6 L361.2,581.1 L361.9,581.6 L362.6,582.1 L363.2,582.6 L363.9,583.0 L364.5,583.5 L365.2,584.0 L365.9,584.5 L366.6,585.0 L367.3,585.5 L368.1,586.0 L368.9,586.5 L369.7,587.0 L370.6,587.5 L371.6,588.1 L372.6,588.6 L373.6,589.2 L374.7,589.8 L375.7,590.4 L376.8,590.9 L377.9,591.5 L379.0,592.0 L380.1,592.5 L381.1,593.0 L382.1,593.5 L383.1,593.9 L384.0,594.3 L384.8,594.7 L385.7,595.0 L386.6,595.3 L387.4,595.6 L388.3,595.9 L389.2,596.3 L390.1,596.6 L391.1,597.0 L392.2,597.4 L393.3,597.8 L394.5,598.3 L395.8,598.8 L397.1,599.3 L398.5,599.9 L399.9,600.5 L401.4,601.0 L402.8,601.6 L404.3,602.2 L405.8,602.8 L407.3,603.4 L408.7,604.0 L410.2,604.6 L411.6,605.1 L413.0,605.7 L414.4,606.3 L415.8,606.9 L417.3,607.5 L418.7,608.0 L420.1,608.6 L421.5,609.2 L422.9,609.7 L424.3,610.3 L425.8,610.8 L427.2,611.3 L428.6,611.8 L430.1,612.3 L431.5,612.7 L433.0,613.2 L434.5,613.6 L436.0,614.1 L437.5,614.5 L438.9,614.9 L440.3,615.3 L441.6,615.7 L442.9,616.1 L444.1,616.4 L445.2,616.8 L446.4,617.2 L447.5,617.5 L448.6,617.9 L449.6,618.2 L450.6,618.5 L451.5,618.8 L452.4,619.1 L453.2,619.4 L453.9,619.6 L454.5,619.8 L455.0,620.0" fill="none" stroke="#4050ae" stroke-width="5.4" stroke-linejoin="round"/>
<path d="M312.8,532.5V536.2M316.3,535.8V538.6M318.6,537.3V540.9M322.0,539.9V544.3M326.1,544.2V547.8M329.8,547.8V551.7M331.8,550.4V553.6M334.0,552.1V556.7M335.7,554.2V558.2M337.9,556.9V560.5M339.4,558.6V562.3M342.4,561.5V566.3M344.3,563.6V568.7M348.6,567.8V573.7M350.3,570.5V574.8M352.0,571.5V577.0M354.8,574.4V578.7M357.3,576.0V580.8M359.8,577.9V582.2M364.0,580.3V585.8M365.9,582.0V586.7M370.0,583.9V590.4M372.0,585.6V590.9M373.5,585.6V592.5M375.7,587.9V592.6M378.8,588.8V594.9M381.9,590.6V596.2M384.4,590.7V598.2M387.0,592.1V598.7M390.6,593.8V599.5M392.7,595.0V600.1M395.0,594.8V602.0M399.2,596.3V603.7M401.1,597.5V604.0M403.4,598.5V605.0M406.6,600.3V605.8M408.3,600.3V607.3M410.1,600.2V608.9M412.1,601.8V608.8M413.6,602.8V609.1M417.2,602.8V612.0M421.4,604.8V613.5M425.4,606.6V614.8M428.4,607.2V616.3M430.7,608.4V616.6M432.6,609.3V617.0M434.1,608.6V618.6M437.8,610.1V619.3M439.8,610.8V619.8M442.8,612.6V619.7M446.9,613.0V622.1M448.8,614.0V622.5M451.3,614.4V623.8M453.1,615.8V623.3" stroke="#4050ae" stroke-width="1.1" fill="none"/>
<rect x="309.2" y="523.5" width="145.8" height="278.7" fill="none" stroke="#000" stroke-width="2.0"/>
<line x1="303.7" y1="802.2" x2="309.2" y2="802.2" stroke="#000" stroke-width="2.0"/>
<line x1="455.0" y1="802.2" x2="460.0" y2="802.2" stroke="#000" stroke-width="2.2"/>
<text x="298.7" y="807.0" font-size="13.5" text-anchor="end" >0</text>
<line x1="303.7" y1="748.2" x2="309.2" y2="748.2" stroke="#000" stroke-width="2.0"/>
<line x1="455.0" y1="748.2" x2="460.0" y2="748.2" stroke="#000" stroke-width="2.2"/>
<text x="298.7" y="753.0" font-size="13.5" text-anchor="end" >20</text>
<line x1="303.7" y1="694.2" x2="309.2" y2="694.2" stroke="#000" stroke-width="2.0"/>
<line x1="455.0" y1="694.2" x2="460.0" y2="694.2" stroke="#000" stroke-width="2.2"/>
<text x="298.7" y="699.0" font-size="13.5" text-anchor="end" >40</text>
<line x1="303.7" y1="640.2" x2="309.2" y2="640.2" stroke="#000" stroke-width="2.0"/>
<line x1="455.0" y1="640.2" x2="460.0" y2="640.2" stroke="#000" stroke-width="2.2"/>
<text x="298.7" y="645.0" font-size="13.5" text-anchor="end" >60</text>
<line x1="303.7" y1="586.2" x2="309.2" y2="586.2" stroke="#000" stroke-width="2.0"/>
<line x1="455.0" y1="586.2" x2="460.0" y2="586.2" stroke="#000" stroke-width="2.2"/>
<text x="298.7" y="591.0" font-size="13.5" text-anchor="end" >80</text>
<line x1="303.7" y1="532.2" x2="309.2" y2="532.2" stroke="#000" stroke-width="2.0"/>
<line x1="455.0" y1="532.2" x2="460.0" y2="532.2" stroke="#000" stroke-width="2.2"/>
<text x="298.7" y="537.0" font-size="13.5" text-anchor="end" >100</text>
<line x1="309.2" y1="802.2" x2="309.2" y2="808.2" stroke="#000" stroke-width="2.0"/>
<line x1="309.2" y1="518.0" x2="309.2" y2="523.5" stroke="#000" stroke-width="2.0"/>
<text x="309.2" y="824.0" font-size="13.5" text-anchor="middle" >0</text>
<line x1="333.5" y1="802.2" x2="333.5" y2="808.2" stroke="#000" stroke-width="2.0"/>
<line x1="333.5" y1="518.0" x2="333.5" y2="523.5" stroke="#000" stroke-width="2.0"/>
<text x="333.5" y="824.0" font-size="13.5" text-anchor="middle" >2</text>
<line x1="357.8" y1="802.2" x2="357.8" y2="808.2" stroke="#000" stroke-width="2.0"/>
<line x1="357.8" y1="518.0" x2="357.8" y2="523.5" stroke="#000" stroke-width="2.0"/>
<text x="357.8" y="824.0" font-size="13.5" text-anchor="middle" >4</text>
<line x1="382.1" y1="802.2" x2="382.1" y2="808.2" stroke="#000" stroke-width="2.0"/>
<line x1="382.1" y1="518.0" x2="382.1" y2="523.5" stroke="#000" stroke-width="2.0"/>
<text x="382.1" y="824.0" font-size="13.5" text-anchor="middle" >6</text>
<line x1="406.4" y1="802.2" x2="406.4" y2="808.2" stroke="#000" stroke-width="2.0"/>
<line x1="406.4" y1="518.0" x2="406.4" y2="523.5" stroke="#000" stroke-width="2.0"/>
<text x="406.4" y="824.0" font-size="13.5" text-anchor="middle" >8</text>
<line x1="430.7" y1="802.2" x2="430.7" y2="808.2" stroke="#000" stroke-width="2.0"/>
<line x1="430.7" y1="518.0" x2="430.7" y2="523.5" stroke="#000" stroke-width="2.0"/>
<text x="430.7" y="824.0" font-size="13.5" text-anchor="middle" >10</text>
<line x1="455.0" y1="802.2" x2="455.0" y2="808.2" stroke="#000" stroke-width="2.0"/>
<line x1="455.0" y1="518.0" x2="455.0" y2="523.5" stroke="#000" stroke-width="2.0"/>
<text x="455.0" y="824.0" font-size="13.5" text-anchor="middle" >12</text>
<text x="384.2" y="842.6" font-size="13.5" text-anchor="middle" >Time (years)</text>
<text x="383.7" y="510.5" font-size="13.5" text-anchor="middle" >Hypoxia score</text>
<text x="346.2" y="727.0" font-size="13.5" text-anchor="end" >Low</text>
<line x1="351.5" y1="723.8" x2="372.2" y2="723.8" stroke="#3f4fae" stroke-width="1.3"/>
<text x="347.8" y="744.8" font-size="13.5" text-anchor="end" >High</text>
<line x1="351.5" y1="741.6" x2="372.2" y2="741.6" stroke="#d3272f" stroke-width="1.3"/>
<text x="310.8" y="780.0" font-size="11.3">HR<tspan font-size="7.8" dy="2">HIGH</tspan><tspan dy="-2">: 1.608 (1.431, 1.807)</tspan></text>
<text x="310.8" y="792.0" font-size="11.3">P: 1.221&#215; 10<tspan font-size="7.8" dy="-4.5">&#8211;15</tspan></text>
<text x="265.7" y="864.1" font-size="13.5" text-anchor="start" >Low</text>
<text x="265.7" y="883.0" font-size="13.5" text-anchor="start" >High</text>
<text x="312.4" y="864.1" font-size="13.5" text-anchor="middle" >2091</text>
<text x="347.3" y="864.1" font-size="13.5" text-anchor="middle" >1723</text>
<text x="380.3" y="864.1" font-size="13.5" text-anchor="middle" >1307</text>
<text x="415.5" y="864.1" font-size="13.5" text-anchor="middle" >1003</text>
<text x="445.8" y="864.1" font-size="13.5" text-anchor="middle" >742</text>
<text x="471.6" y="864.1" font-size="13.5" text-anchor="middle" >460</text>
<text x="312.4" y="883.0" font-size="13.5" text-anchor="middle" >1938</text>
<text x="347.0" y="883.0" font-size="13.5" text-anchor="middle" >1433</text>
<text x="379.9" y="883.0" font-size="13.5" text-anchor="middle" >1019</text>
<text x="418.0" y="883.0" font-size="13.5" text-anchor="middle" >720</text>
<text x="444.9" y="883.0" font-size="13.5" text-anchor="middle" >503</text>
<text x="470.9" y="883.0" font-size="13.5" text-anchor="middle" >333</text>
<rect x="604.1" y="574.3" width="9.4" height="8.6" fill="#000" stroke="#000" stroke-width="0.8" />
<text x="617.6" y="582.9" font-size="13.5" text-anchor="start" >Normoxia</text>
<rect x="716.9" y="574.3" width="9.4" height="8.6" fill="#999" stroke="#000" stroke-width="1.0" />
<text x="729.9" y="582.9" font-size="13.5" text-anchor="start" >24&#8201;h hypoxia</text>
<rect x="840.4" y="574.3" width="9.0" height="8.6" fill="#fff" stroke="#000" stroke-width="1.0" />
<text x="852.4" y="582.9" font-size="13.5" text-anchor="start" >48&#8201;h hypoxia</text>
<line x1="588.5" y1="598.5" x2="588.5" y2="776.0" stroke="#000" stroke-width="1.0"/>
<line x1="588.0" y1="776.0" x2="946.0" y2="776.0" stroke="#000" stroke-width="1.4"/>
<line x1="583.5" y1="776.0" x2="588.5" y2="776.0" stroke="#000" stroke-width="1.1"/>
<text x="580.0" y="780.8" font-size="13.5" text-anchor="end" >0.0</text>
<line x1="583.5" y1="717.0" x2="588.5" y2="717.0" stroke="#000" stroke-width="1.1"/>
<text x="580.0" y="721.8" font-size="13.5" text-anchor="end" >0.5</text>
<line x1="583.5" y1="658.0" x2="588.5" y2="658.0" stroke="#000" stroke-width="1.1"/>
<text x="580.0" y="662.8" font-size="13.5" text-anchor="end" >1.0</text>
<line x1="583.5" y1="599.0" x2="588.5" y2="599.0" stroke="#000" stroke-width="1.1"/>
<text x="580.0" y="603.8" font-size="13.5" text-anchor="end" >1.5</text>
<line x1="601.5" y1="656.1" x2="601.5" y2="645.6" stroke="#000" stroke-width="1.0"/>
<line x1="598.7" y1="645.6" x2="604.3" y2="645.6" stroke="#000" stroke-width="1.3"/>
<rect x="596.2" y="656.1" width="11.3" height="119.9" fill="#000" stroke="none" stroke-width="0" />
<line x1="617.5" y1="731.6" x2="617.5" y2="724.2" stroke="#000" stroke-width="1.0"/>
<line x1="614.7" y1="724.2" x2="620.3" y2="724.2" stroke="#000" stroke-width="1.3"/>
<rect x="612.6" y="732.2" width="10.1" height="43.8" fill="#999" stroke="#000" stroke-width="1.3" />
<text x="618.8" y="719.2" font-size="15" text-anchor="middle" letter-spacing="1.3">**</text>
<line x1="633.5" y1="723.1" x2="633.5" y2="710.7" stroke="#000" stroke-width="1.0"/>
<line x1="630.7" y1="710.7" x2="636.3" y2="710.7" stroke="#000" stroke-width="1.3"/>
<rect x="628.8" y="723.7" width="10.1" height="52.3" fill="#fff" stroke="#000" stroke-width="1.3" />
<text x="635.0" y="706.1" font-size="15" text-anchor="middle" letter-spacing="1.3">**</text>
<text transform="translate(622.6,781.2) rotate(-90)" font-size="13.5" text-anchor="end">MCF7</text>
<line x1="661.5" y1="651.7" x2="661.5" y2="625.1" stroke="#000" stroke-width="1.0"/>
<line x1="658.7" y1="625.1" x2="664.3" y2="625.1" stroke="#000" stroke-width="1.3"/>
<rect x="655.7" y="651.7" width="11.3" height="124.3" fill="#000" stroke="none" stroke-width="0" />
<line x1="677.5" y1="713.2" x2="677.5" y2="700.5" stroke="#000" stroke-width="1.0"/>
<line x1="674.7" y1="700.5" x2="680.3" y2="700.5" stroke="#000" stroke-width="1.3"/>
<rect x="672.2" y="713.8" width="10.1" height="62.2" fill="#999" stroke="#000" stroke-width="1.3" />
<line x1="693.5" y1="711.3" x2="693.5" y2="704.8" stroke="#000" stroke-width="1.0"/>
<line x1="690.7" y1="704.8" x2="696.3" y2="704.8" stroke="#000" stroke-width="1.3"/>
<rect x="688.4" y="711.9" width="10.1" height="64.1" fill="#fff" stroke="#000" stroke-width="1.3" />
<text transform="translate(682.2,781.2) rotate(-90)" font-size="13.5" text-anchor="end">MDA-MB-468</text>
<line x1="721.5" y1="657.4" x2="721.5" y2="647.0" stroke="#000" stroke-width="1.0"/>
<line x1="718.7" y1="647.0" x2="724.3" y2="647.0" stroke="#000" stroke-width="1.3"/>
<rect x="715.4" y="657.4" width="11.3" height="118.6" fill="#000" stroke="none" stroke-width="0" />
<line x1="737.5" y1="696.5" x2="737.5" y2="677.0" stroke="#000" stroke-width="1.0"/>
<line x1="734.7" y1="677.0" x2="740.3" y2="677.0" stroke="#000" stroke-width="1.3"/>
<rect x="732.0" y="697.1" width="10.1" height="78.9" fill="#999" stroke="#000" stroke-width="1.3" />
<line x1="752.5" y1="701.4" x2="752.5" y2="697.6" stroke="#000" stroke-width="1.0"/>
<line x1="749.7" y1="697.6" x2="755.3" y2="697.6" stroke="#000" stroke-width="1.3"/>
<rect x="747.9" y="702.0" width="10.1" height="74.0" fill="#fff" stroke="#000" stroke-width="1.3" />
<text x="753.5" y="691.8" font-size="15" text-anchor="middle" letter-spacing="1.3">*</text>
<text transform="translate(741.8,781.2) rotate(-90)" font-size="13.5" text-anchor="end">MDA-MB-231</text>
<line x1="780.5" y1="649.4" x2="780.5" y2="632.7" stroke="#000" stroke-width="1.0"/>
<line x1="777.7" y1="632.7" x2="783.3" y2="632.7" stroke="#000" stroke-width="1.3"/>
<rect x="774.4" y="649.4" width="11.3" height="126.6" fill="#000" stroke="none" stroke-width="0" />
<line x1="795.5" y1="701.3" x2="795.5" y2="693.6" stroke="#000" stroke-width="1.0"/>
<line x1="792.7" y1="693.6" x2="798.3" y2="693.6" stroke="#000" stroke-width="1.3"/>
<rect x="790.9" y="701.9" width="10.1" height="74.1" fill="#999" stroke="#000" stroke-width="1.3" />
<text x="796.5" y="689.4" font-size="15" text-anchor="middle" letter-spacing="1.3">*</text>
<line x1="812.5" y1="705.8" x2="812.5" y2="699.3" stroke="#000" stroke-width="1.0"/>
<line x1="809.7" y1="699.3" x2="815.3" y2="699.3" stroke="#000" stroke-width="1.3"/>
<rect x="807.6" y="706.4" width="10.1" height="69.6" fill="#fff" stroke="#000" stroke-width="1.3" />
<text x="813.2" y="693.4" font-size="15" text-anchor="middle" letter-spacing="1.3">*</text>
<text transform="translate(801.1,781.2) rotate(-90)" font-size="13.5" text-anchor="end">SUM149</text>
<line x1="839.5" y1="652.7" x2="839.5" y2="630.5" stroke="#000" stroke-width="1.0"/>
<line x1="836.7" y1="630.5" x2="842.3" y2="630.5" stroke="#000" stroke-width="1.3"/>
<rect x="834.0" y="652.7" width="11.3" height="123.3" fill="#000" stroke="none" stroke-width="0" />
<line x1="855.5" y1="684.8" x2="855.5" y2="666.1" stroke="#000" stroke-width="1.0"/>
<line x1="852.7" y1="666.1" x2="858.3" y2="666.1" stroke="#000" stroke-width="1.3"/>
<rect x="850.9" y="685.4" width="10.1" height="90.6" fill="#999" stroke="#000" stroke-width="1.3" />
<line x1="872.5" y1="705.2" x2="872.5" y2="695.4" stroke="#000" stroke-width="1.0"/>
<line x1="869.7" y1="695.4" x2="875.3" y2="695.4" stroke="#000" stroke-width="1.3"/>
<rect x="867.1" y="705.8" width="10.1" height="70.2" fill="#fff" stroke="#000" stroke-width="1.3" />
<text transform="translate(860.7,781.2) rotate(-90)" font-size="13.5" text-anchor="end">HCC1954</text>
<line x1="899.5" y1="640.1" x2="899.5" y2="622.2" stroke="#000" stroke-width="1.0"/>
<line x1="896.7" y1="622.2" x2="902.3" y2="622.2" stroke="#000" stroke-width="1.3"/>
<rect x="893.6" y="640.1" width="11.3" height="135.9" fill="#000" stroke="none" stroke-width="0" />
<line x1="915.5" y1="721.6" x2="915.5" y2="704.5" stroke="#000" stroke-width="1.0"/>
<line x1="912.7" y1="704.5" x2="918.3" y2="704.5" stroke="#000" stroke-width="1.3"/>
<rect x="910.2" y="722.2" width="10.1" height="53.8" fill="#999" stroke="#000" stroke-width="1.3" />
<text x="915.8" y="699.3" font-size="15" text-anchor="middle" letter-spacing="1.3">*</text>
<line x1="931.5" y1="740.2" x2="931.5" y2="735.3" stroke="#000" stroke-width="1.0"/>
<line x1="928.7" y1="735.3" x2="934.3" y2="735.3" stroke="#000" stroke-width="1.3"/>
<rect x="926.5" y="740.8" width="10.1" height="35.2" fill="#fff" stroke="#000" stroke-width="1.3" />
<text x="932.7" y="727.8" font-size="15" text-anchor="middle" letter-spacing="1.3">**</text>
<text transform="translate(920.2,781.2) rotate(-90)" font-size="13.5" text-anchor="end">HMLER</text>
<text transform="translate(532.4,685.5) rotate(-90)" font-size="13.5" text-anchor="middle">Relative mRNA levels/</text>
<text transform="translate(549.2,685.5) rotate(-90)" font-size="13.5" text-anchor="middle">RPL13A</text>
<line x1="594.7" y1="873.7" x2="638.0" y2="873.7" stroke="#000" stroke-width="1.2"/>
<line x1="652.7" y1="873.7" x2="817.9" y2="873.7" stroke="#000" stroke-width="1.2"/>
<line x1="833.4" y1="873.7" x2="876.0" y2="873.7" stroke="#000" stroke-width="1.2"/>
<text x="614.8" y="891.9" font-size="13.5" text-anchor="middle">ER<tspan font-size="8.5" dy="-5">+</tspan><tspan dy="5">/PR</tspan><tspan font-size="8.5" dy="-5">+</tspan></text>
<text x="735.8" y="891.9" font-size="13.5" text-anchor="middle" >Triple negative</text>
<text x="854.6" y="891.9" font-size="13.5" text-anchor="middle">Her2<tspan font-size="8.5" dy="-5">+</tspan></text>
<rect x="609.3" y="946.4" width="9.4" height="8.6" fill="#000" stroke="#000" stroke-width="0.8" />
<text x="622.8" y="955.0" font-size="13.5" text-anchor="start" >Normoxia</text>
<rect x="722.5" y="946.4" width="9.4" height="8.6" fill="#999" stroke="#000" stroke-width="1.0" />
<text x="735.5" y="955.0" font-size="13.5" text-anchor="start" >24&#8201;h hypoxia</text>
<rect x="844.5" y="946.4" width="9.0" height="8.6" fill="#fff" stroke="#000" stroke-width="1.0" />
<text x="856.5" y="955.0" font-size="13.5" text-anchor="start" >48&#8201;h hypoxia</text>
<line x1="589.5" y1="969.5" x2="589.5" y2="1147.0" stroke="#000" stroke-width="1.0"/>
<line x1="589.0" y1="1147.0" x2="946.0" y2="1147.0" stroke="#000" stroke-width="1.4"/>
<line x1="584.5" y1="1147.0" x2="589.5" y2="1147.0" stroke="#000" stroke-width="1.1"/>
<text x="581.0" y="1151.8" font-size="13.5" text-anchor="end" >0.0</text>
<line x1="584.5" y1="1088.0" x2="589.5" y2="1088.0" stroke="#000" stroke-width="1.1"/>
<text x="581.0" y="1092.8" font-size="13.5" text-anchor="end" >0.5</text>
<line x1="584.5" y1="1029.0" x2="589.5" y2="1029.0" stroke="#000" stroke-width="1.1"/>
<text x="581.0" y="1033.8" font-size="13.5" text-anchor="end" >1.0</text>
<line x1="584.5" y1="970.0" x2="589.5" y2="970.0" stroke="#000" stroke-width="1.1"/>
<text x="581.0" y="974.8" font-size="13.5" text-anchor="end" >1.5</text>
<rect x="596.9" y="1029.0" width="11.3" height="118.0" fill="#000" stroke="none" stroke-width="0" />
<line x1="618.5" y1="1048.1" x2="618.5" y2="1037.5" stroke="#000" stroke-width="1.0"/>
<line x1="615.7" y1="1037.5" x2="621.3" y2="1037.5" stroke="#000" stroke-width="1.3"/>
<rect x="613.9" y="1048.7" width="10.1" height="98.3" fill="#999" stroke="#000" stroke-width="1.3" />
<line x1="635.5" y1="1085.3" x2="635.5" y2="1069.0" stroke="#000" stroke-width="1.0"/>
<line x1="632.7" y1="1069.0" x2="638.3" y2="1069.0" stroke="#000" stroke-width="1.3"/>
<rect x="630.2" y="1085.9" width="10.1" height="61.1" fill="#fff" stroke="#000" stroke-width="1.3" />
<text x="636.4" y="1066.3" font-size="15" text-anchor="middle" letter-spacing="1.3">**</text>
<text transform="translate(625.4,1151.8) rotate(-90)" font-size="13.5" text-anchor="end">MCF7</text>
<rect x="656.5" y="1029.0" width="11.3" height="118.0" fill="#000" stroke="none" stroke-width="0" />
<line x1="678.5" y1="1078.7" x2="678.5" y2="1066.8" stroke="#000" stroke-width="1.0"/>
<line x1="675.7" y1="1066.8" x2="681.3" y2="1066.8" stroke="#000" stroke-width="1.3"/>
<rect x="673.0" y="1079.3" width="10.1" height="67.7" fill="#999" stroke="#000" stroke-width="1.3" />
<text x="678.6" y="1063.0" font-size="15" text-anchor="middle" letter-spacing="1.3">*</text>
<line x1="694.5" y1="1076.1" x2="694.5" y2="1071.7" stroke="#000" stroke-width="1.0"/>
<line x1="691.7" y1="1071.7" x2="697.3" y2="1071.7" stroke="#000" stroke-width="1.3"/>
<rect x="689.8" y="1076.7" width="10.1" height="70.3" fill="#fff" stroke="#000" stroke-width="1.3" />
<text x="695.4" y="1069.3" font-size="15" text-anchor="middle" letter-spacing="1.3">*</text>
<text transform="translate(684.6,1151.8) rotate(-90)" font-size="13.5" text-anchor="end">MDA-MB-468</text>
<rect x="716.2" y="1029.0" width="11.3" height="118.0" fill="#000" stroke="none" stroke-width="0" />
<line x1="737.5" y1="1057.1" x2="737.5" y2="1049.5" stroke="#000" stroke-width="1.0"/>
<line x1="734.7" y1="1049.5" x2="740.3" y2="1049.5" stroke="#000" stroke-width="1.3"/>
<rect x="732.6" y="1057.7" width="10.1" height="89.3" fill="#999" stroke="#000" stroke-width="1.3" />
<line x1="754.5" y1="1055.5" x2="754.5" y2="1042.5" stroke="#000" stroke-width="1.0"/>
<line x1="751.7" y1="1042.5" x2="757.3" y2="1042.5" stroke="#000" stroke-width="1.3"/>
<rect x="749.1" y="1056.1" width="10.1" height="90.9" fill="#fff" stroke="#000" stroke-width="1.3" />
<text transform="translate(743.4,1151.8) rotate(-90)" font-size="13.5" text-anchor="end">MDA-MB-231</text>
<rect x="775.5" y="1029.0" width="11.3" height="118.0" fill="#000" stroke="none" stroke-width="0" />
<line x1="797.5" y1="1070.1" x2="797.5" y2="1050.5" stroke="#000" stroke-width="1.0"/>
<line x1="794.7" y1="1050.5" x2="800.3" y2="1050.5" stroke="#000" stroke-width="1.3"/>
<rect x="792.1" y="1070.7" width="10.1" height="76.3" fill="#999" stroke="#000" stroke-width="1.3" />
<line x1="813.5" y1="1100.5" x2="813.5" y2="1095.7" stroke="#000" stroke-width="1.0"/>
<line x1="810.7" y1="1095.7" x2="816.3" y2="1095.7" stroke="#000" stroke-width="1.3"/>
<rect x="808.4" y="1101.1" width="10.1" height="45.9" fill="#fff" stroke="#000" stroke-width="1.3" />
<text x="815.2" y="1092.7" font-size="15" text-anchor="middle" letter-spacing="1.3">***</text>
<text transform="translate(802.2,1151.8) rotate(-90)" font-size="13.5" text-anchor="end">SUM149</text>
<rect x="835.1" y="1029.0" width="11.3" height="118.0" fill="#000" stroke="none" stroke-width="0" />
<line x1="856.5" y1="1071.1" x2="856.5" y2="1048.2" stroke="#000" stroke-width="1.0"/>
<line x1="853.7" y1="1048.2" x2="859.3" y2="1048.2" stroke="#000" stroke-width="1.3"/>
<rect x="851.9" y="1071.7" width="10.1" height="75.3" fill="#999" stroke="#000" stroke-width="1.3" />
<line x1="872.5" y1="1088.5" x2="872.5" y2="1069.4" stroke="#000" stroke-width="1.0"/>
<line x1="869.7" y1="1069.4" x2="875.3" y2="1069.4" stroke="#000" stroke-width="1.3"/>
<rect x="867.8" y="1089.1" width="10.1" height="57.9" fill="#fff" stroke="#000" stroke-width="1.3" />
<text x="874.0" y="1066.6" font-size="15" text-anchor="middle" letter-spacing="1.3">**</text>
<text transform="translate(861.4,1151.8) rotate(-90)" font-size="13.5" text-anchor="end">HCC1954</text>
<rect x="894.5" y="1029.0" width="11.3" height="118.0" fill="#000" stroke="none" stroke-width="0" />
<line x1="916.5" y1="1117.5" x2="916.5" y2="1114.5" stroke="#000" stroke-width="1.0"/>
<line x1="913.7" y1="1114.5" x2="919.3" y2="1114.5" stroke="#000" stroke-width="1.3"/>
<rect x="911.4" y="1118.1" width="10.1" height="28.9" fill="#999" stroke="#000" stroke-width="1.3" />
<text x="918.2" y="1103.2" font-size="15" text-anchor="middle" letter-spacing="1.3">***</text>
<line x1="937.5" y1="1127.4" x2="937.5" y2="1117.5" stroke="#000" stroke-width="1.0"/>
<line x1="934.7" y1="1117.5" x2="940.3" y2="1117.5" stroke="#000" stroke-width="1.3"/>
<rect x="932.0" y="1128.0" width="10.1" height="19.0" fill="#fff" stroke="#000" stroke-width="1.3" />
<text x="933.3" y="1113.2" font-size="15" text-anchor="middle" letter-spacing="1.3">***</text>
<text transform="translate(920.6,1151.8) rotate(-90)" font-size="13.5" text-anchor="end">HMLER</text>
<text transform="translate(551.0,1062.0) rotate(-90)" font-size="13.5" text-anchor="middle">DICER protein/tubulin</text>
<text x="127.4" y="944.0" font-size="13.5" text-anchor="middle" >MCF7</text>
<line x1="67.7" y1="951.5" x2="187.1" y2="951.5" stroke="#000" stroke-width="1.6"/>
<text x="83.8" y="969.8" font-size="13.5" text-anchor="middle" >N</text>
<text x="128.6" y="969.8" font-size="13.5" text-anchor="middle" >H24</text>
<text x="169.7" y="969.8" font-size="13.5" text-anchor="middle" >H48</text>
<rect x="66.0" y="978.2" width="126.4" height="44.4" fill="#a1a1a1" stroke="none" stroke-width="0" />
<path d="M74.4,997.3 Q87.4,996.6 100.4,995.9 Q104.6,995.9 103.6,999.1 Q104.6,1002.3 100.4,1002.3 Q87.4,1002.2 74.4,1002.1 Q71.3,1002.1 72.0,999.7 Q71.3,997.3 74.4,997.3Z" fill="#1a1a1a" filter="url(#bl)"/>
<path d="M118.9,997.2 Q130.7,997.0 142.5,996.8 Q145.5,996.8 144.8,999.1 Q145.5,1001.4 142.5,1001.4 Q130.7,1002.2 118.9,1003.0 Q115.1,1003.0 116.0,1000.1 Q115.1,997.2 118.9,997.2Z" fill="#202020" filter="url(#bl)"/>
<path d="M161.0,997.8 Q172.3,998.1 183.6,996.6 Q186.7,996.6 186.0,999.0 Q186.7,1001.4 183.6,1001.4 Q172.3,1000.7 161.0,1001.8 Q158.4,1001.8 159.0,999.8 Q158.4,997.8 161.0,997.8Z" fill="#333" filter="url(#bl)"/>
<rect x="66.0" y="978.2" width="126.4" height="44.4" fill="none" stroke="#151515" stroke-width="1.4" />
<rect x="66.0" y="1032.8" width="126.4" height="42.7" fill="#a1a1a1" stroke="none" stroke-width="0" />
<path d="M71.8,1054.6 Q88.5,1053.8 105.2,1053.0 Q110.1,1053.0 109.0,1056.8 Q110.1,1060.6 105.2,1060.6 Q88.5,1061.4 71.8,1062.2 Q66.9,1062.2 68.0,1058.4 Q66.9,1054.6 71.8,1054.6Z" fill="#161616" filter="url(#bl)"/>
<path d="M115.6,1054.2 Q131.0,1053.5 146.4,1052.8 Q151.1,1052.8 150.0,1056.4 Q151.1,1060.0 146.4,1060.0 Q131.0,1060.7 115.6,1061.4 Q110.9,1061.4 112.0,1057.8 Q110.9,1054.2 115.6,1054.2Z" fill="#161616" filter="url(#bl)"/>
<path d="M155.6,1053.7 Q170.6,1053.0 185.6,1052.3 Q190.3,1052.3 189.2,1055.9 Q190.3,1059.5 185.6,1059.5 Q170.6,1060.2 155.6,1060.9 Q150.9,1060.9 152.0,1057.3 Q150.9,1053.7 155.6,1053.7Z" fill="#161616" filter="url(#bl)"/>
<rect x="66.0" y="1032.8" width="126.4" height="42.7" fill="none" stroke="#151515" stroke-width="1.4" />
<text x="267.9" y="943.9" font-size="13.5" text-anchor="middle" >MDA-MB-468</text>
<line x1="207.8" y1="951.6" x2="328.0" y2="951.6" stroke="#000" stroke-width="1.6"/>
<text x="229.9" y="970.6" font-size="13.5" text-anchor="middle" >N</text>
<text x="270.3" y="970.6" font-size="13.5" text-anchor="middle" >H24</text>
<text x="310.5" y="970.6" font-size="13.5" text-anchor="middle" >H48</text>
<rect x="206.9" y="977.6" width="126.6" height="45.1" fill="#a1a1a1" stroke="none" stroke-width="0" />
<path d="M217.2,997.3 Q229.8,997.3 242.5,997.3 Q246.0,997.3 245.2,1000.0 Q246.0,1002.7 242.5,1002.7 Q229.8,1002.7 217.2,1002.7 Q213.7,1002.7 214.5,1000.0 Q213.7,997.3 217.2,997.3Z" fill="#1a1a1a" filter="url(#bl)"/>
<path d="M260.4,998.2 Q271.2,998.2 282.0,998.2 Q285.1,998.2 284.4,1000.6 Q285.1,1003.0 282.0,1003.0 Q271.2,1003.0 260.4,1003.0 Q257.3,1003.0 258.0,1000.6 Q257.3,998.2 260.4,998.2Z" fill="#242424" filter="url(#bl)"/>
<path d="M300.3,998.7 Q312.6,998.7 325.0,998.7 Q328.0,998.7 327.3,1001.0 Q328.0,1003.3 325.0,1003.3 Q312.6,1003.3 300.3,1003.3 Q297.3,1003.3 298.0,1001.0 Q297.3,998.7 300.3,998.7Z" fill="#2a2a2a" filter="url(#bl)"/>
<rect x="206.9" y="977.6" width="126.6" height="45.1" fill="none" stroke="#151515" stroke-width="1.4" />
<rect x="206.9" y="1032.8" width="126.6" height="42.9" fill="#a1a1a1" stroke="none" stroke-width="0" />
<path d="M218.1,1049.8 Q232.9,1049.8 247.7,1049.8 Q252.4,1049.8 251.3,1053.4 Q252.4,1057.0 247.7,1057.0 Q232.9,1057.0 218.1,1057.0 Q213.4,1057.0 214.5,1053.4 Q213.4,1049.8 218.1,1049.8Z" fill="#161616" filter="url(#bl)"/>
<path d="M260.3,1050.3 Q274.0,1050.3 287.7,1050.3 Q292.2,1050.3 291.2,1053.8 Q292.2,1057.3 287.7,1057.3 Q274.0,1057.3 260.3,1057.3 Q255.8,1057.3 256.8,1053.8 Q255.8,1050.3 260.3,1050.3Z" fill="#161616" filter="url(#bl)"/>
<path d="M297.9,1050.6 Q313.6,1050.6 329.3,1050.6 Q334.1,1050.6 333.0,1054.3 Q334.1,1058.0 329.3,1058.0 Q313.6,1058.0 297.9,1058.0 Q293.1,1058.0 294.2,1054.3 Q293.1,1050.6 297.9,1050.6Z" fill="#161616" filter="url(#bl)"/>
<rect x="206.9" y="1032.8" width="126.6" height="42.9" fill="none" stroke="#151515" stroke-width="1.4" />
<text x="408.9" y="943.9" font-size="13.5" text-anchor="middle" >MDA-MB-231</text>
<line x1="348.8" y1="951.6" x2="469.0" y2="951.6" stroke="#000" stroke-width="1.6"/>
<text x="367.2" y="970.6" font-size="13.5" text-anchor="middle" >N</text>
<text x="411.3" y="970.6" font-size="13.5" text-anchor="middle" >H24</text>
<text x="452.1" y="970.6" font-size="13.5" text-anchor="middle" >H48</text>
<rect x="347.9" y="977.6" width="127.7" height="45.4" fill="#a1a1a1" stroke="none" stroke-width="0" />
<path d="M357.5,996.8 Q370.4,996.8 383.3,996.8 Q387.1,996.8 386.2,999.7 Q387.1,1002.6 383.3,1002.6 Q370.4,1002.6 357.5,1002.6 Q353.7,1002.6 354.6,999.7 Q353.7,996.8 357.5,996.8Z" fill="#1a1a1a" filter="url(#bl)"/>
<path d="M400.4,997.3 Q412.2,997.3 424.1,997.3 Q427.5,997.3 426.7,999.9 Q427.5,1002.5 424.1,1002.5 Q412.2,1002.5 400.4,1002.5 Q397.0,1002.5 397.8,999.9 Q397.0,997.3 400.4,997.3Z" fill="#1e1e1e" filter="url(#bl)"/>
<path d="M440.5,997.5 Q453.6,997.5 466.8,997.5 Q470.4,997.5 469.6,1000.3 Q470.4,1003.1 466.8,1003.1 Q453.6,1003.1 440.5,1003.1 Q436.9,1003.1 437.7,1000.3 Q436.9,997.5 440.5,997.5Z" fill="#1a1a1a" filter="url(#bl)"/>
<rect x="347.9" y="977.6" width="127.7" height="45.4" fill="none" stroke="#151515" stroke-width="1.4" />
<rect x="347.9" y="1032.0" width="127.7" height="44.3" fill="#a1a1a1" stroke="none" stroke-width="0" />
<path d="M355.3,1051.6 Q369.4,1051.6 383.5,1051.6 Q387.8,1051.6 386.8,1054.9 Q387.8,1058.2 383.5,1058.2 Q369.4,1058.2 355.3,1058.2 Q351.0,1058.2 352.0,1054.9 Q351.0,1051.6 355.3,1051.6Z" fill="#161616" filter="url(#bl)"/>
<path d="M397.3,1051.9 Q411.2,1051.9 425.2,1051.9 Q429.5,1051.9 428.5,1055.2 Q429.5,1058.5 425.2,1058.5 Q411.2,1058.5 397.3,1058.5 Q393.0,1058.5 394.0,1055.2 Q393.0,1051.9 397.3,1051.9Z" fill="#161616" filter="url(#bl)"/>
<path d="M437.6,1051.4 Q452.4,1051.4 467.2,1051.4 Q471.5,1051.4 470.5,1054.7 Q471.5,1058.0 467.2,1058.0 Q452.4,1058.0 437.6,1058.0 Q433.3,1058.0 434.3,1054.7 Q433.3,1051.4 437.6,1051.4Z" fill="#161616" filter="url(#bl)"/>
<rect x="347.9" y="1032.0" width="127.7" height="44.3" fill="none" stroke="#151515" stroke-width="1.4" />
<text x="127.4" y="1100.7" font-size="13.5" text-anchor="middle" >SUM149</text>
<line x1="67.7" y1="1107.5" x2="187.1" y2="1107.5" stroke="#000" stroke-width="1.6"/>
<text x="83.5" y="1124.8" font-size="13.5" text-anchor="middle" >N</text>
<text x="125.2" y="1124.8" font-size="13.5" text-anchor="middle" >H24</text>
<text x="167.0" y="1124.8" font-size="13.5" text-anchor="middle" >H48</text>
<rect x="66.0" y="1132.4" width="126.4" height="45.9" fill="#a1a1a1" stroke="none" stroke-width="0" />
<path d="M74.5,1155.8 Q85.7,1155.8 96.9,1155.8 Q101.5,1155.8 100.4,1159.3 Q101.5,1162.8 96.9,1162.8 Q85.7,1162.8 74.5,1162.8 Q70.0,1162.8 71.0,1159.3 Q70.0,1155.8 74.5,1155.8Z" fill="#141414" filter="url(#bl)"/>
<path d="M116.0,1156.0 Q126.5,1156.0 137.0,1156.0 Q140.9,1156.0 140.0,1159.0 Q140.9,1162.0 137.0,1162.0 Q126.5,1162.0 116.0,1162.0 Q112.1,1162.0 113.0,1159.0 Q112.1,1156.0 116.0,1156.0Z" fill="#1a1a1a" filter="url(#bl)"/>
<path d="M154.6,1156.4 Q167.5,1156.4 180.4,1156.4 Q183.8,1156.4 183.0,1159.0 Q183.8,1161.6 180.4,1161.6 Q167.5,1161.6 154.6,1161.6 Q151.2,1161.6 152.0,1159.0 Q151.2,1156.4 154.6,1156.4Z" fill="#242424" filter="url(#bl)"/>
<path d="M72.5,1163.0 Q85.7,1163.0 98.9,1163.0 Q100.9,1163.0 100.4,1164.5 Q100.9,1166.0 98.9,1166.0 Q85.7,1166.0 72.5,1166.0 Q70.5,1166.0 71.0,1164.5 Q70.5,1163.0 72.5,1163.0Z" fill="#777" filter="url(#bl)"/>
<path d="M114.0,1149.0 Q126.5,1149.0 139.0,1149.0 Q141.6,1149.0 141.0,1151.0 Q141.6,1153.0 139.0,1153.0 Q126.5,1153.0 114.0,1153.0 Q111.4,1153.0 112.0,1151.0 Q111.4,1149.0 114.0,1149.0Z" fill="#929292" filter="url(#bl)"/>
<path d="M154.2,1148.2 Q167.5,1148.2 180.8,1148.2 Q183.7,1148.2 183.0,1150.5 Q183.7,1152.8 180.8,1152.8 Q167.5,1152.8 154.2,1152.8 Q151.3,1152.8 152.0,1150.5 Q151.3,1148.2 154.2,1148.2Z" fill="#8a8a8a" filter="url(#bl)"/>
<rect x="66.0" y="1132.4" width="126.4" height="45.9" fill="none" stroke="#151515" stroke-width="1.4" />
<rect x="66.0" y="1189.0" width="126.4" height="42.2" fill="#a1a1a1" stroke="none" stroke-width="0" />
<path d="M71.7,1203.8 Q86.0,1203.8 100.3,1203.8 Q105.1,1203.8 104.0,1207.5 Q105.1,1211.2 100.3,1211.2 Q86.0,1211.2 71.7,1211.2 Q66.9,1211.2 68.0,1207.5 Q66.9,1203.8 71.7,1203.8Z" fill="#161616" filter="url(#bl)"/>
<path d="M111.7,1203.8 Q126.0,1203.8 140.3,1203.8 Q145.1,1203.8 144.0,1207.5 Q145.1,1211.2 140.3,1211.2 Q126.0,1211.2 111.7,1211.2 Q106.9,1211.2 108.0,1207.5 Q106.9,1203.8 111.7,1203.8Z" fill="#161616" filter="url(#bl)"/>
<path d="M150.7,1203.3 Q166.5,1203.3 182.3,1203.3 Q187.1,1203.3 186.0,1207.0 Q187.1,1210.7 182.3,1210.7 Q166.5,1210.7 150.7,1210.7 Q145.9,1210.7 147.0,1207.0 Q145.9,1203.3 150.7,1203.3Z" fill="#161616" filter="url(#bl)"/>
<path d="M73.5,1212.3 Q87.0,1212.3 100.5,1212.3 Q102.5,1212.3 102.0,1213.8 Q102.5,1215.3 100.5,1215.3 Q87.0,1215.3 73.5,1215.3 Q71.5,1215.3 72.0,1213.8 Q71.5,1212.3 73.5,1212.3Z" fill="#7a7a7a" filter="url(#bl)"/>
<path d="M113.5,1212.3 Q127.0,1212.3 140.5,1212.3 Q142.4,1212.3 142.0,1213.8 Q142.4,1215.3 140.5,1215.3 Q127.0,1215.3 113.5,1215.3 Q111.5,1215.3 112.0,1213.8 Q111.5,1212.3 113.5,1212.3Z" fill="#7a7a7a" filter="url(#bl)"/>
<path d="M151.5,1212.0 Q167.0,1212.0 182.5,1212.0 Q184.4,1212.0 184.0,1213.5 Q184.4,1215.0 182.5,1215.0 Q167.0,1215.0 151.5,1215.0 Q149.6,1215.0 150.0,1213.5 Q149.6,1212.0 151.5,1212.0Z" fill="#808080" filter="url(#bl)"/>
<rect x="66.0" y="1189.0" width="126.4" height="42.2" fill="none" stroke="#151515" stroke-width="1.4" />
<text x="267.9" y="1099.9" font-size="13.5" text-anchor="middle" >HCC1954</text>
<line x1="207.8" y1="1107.6" x2="328.0" y2="1107.6" stroke="#000" stroke-width="1.6"/>
<text x="229.9" y="1124.5" font-size="13.5" text-anchor="middle" >N</text>
<text x="270.3" y="1124.5" font-size="13.5" text-anchor="middle" >H24</text>
<text x="310.5" y="1124.5" font-size="13.5" text-anchor="middle" >H48</text>
<rect x="206.9" y="1132.7" width="126.6" height="45.4" fill="#a1a1a1" stroke="none" stroke-width="0" />
<path d="M217.5,1152.6 Q230.4,1152.6 243.3,1152.6 Q246.6,1152.6 245.8,1155.1 Q246.6,1157.6 243.3,1157.6 Q230.4,1157.6 217.5,1157.6 Q214.2,1157.6 215.0,1155.1 Q214.2,1152.6 217.5,1152.6Z" fill="#1a1a1a" filter="url(#bl)"/>
<path d="M258.9,1153.6 Q271.8,1153.6 284.7,1153.6 Q287.2,1153.6 286.6,1155.5 Q287.2,1157.4 284.7,1157.4 Q271.8,1157.4 258.9,1157.4 Q256.4,1157.4 257.0,1155.5 Q256.4,1153.6 258.9,1153.6Z" fill="#282828" filter="url(#bl)"/>
<path d="M299.0,1153.5 Q312.1,1153.5 325.3,1153.5 Q327.9,1153.5 327.3,1155.5 Q327.9,1157.5 325.3,1157.5 Q312.1,1157.5 299.0,1157.5 Q296.4,1157.5 297.0,1155.5 Q296.4,1153.5 299.0,1153.5Z" fill="#242424" filter="url(#bl)"/>
<rect x="206.9" y="1132.7" width="126.6" height="45.4" fill="none" stroke="#151515" stroke-width="1.4" />
<rect x="206.9" y="1188.8" width="126.6" height="42.9" fill="#a8a8a8" stroke="none" stroke-width="0" />
<path d="M216.5,1210.5 Q232.9,1210.5 249.3,1210.5 Q253.9,1210.5 252.8,1214.0 Q253.9,1217.5 249.3,1217.5 Q232.9,1217.5 216.5,1217.5 Q211.9,1217.5 213.0,1214.0 Q211.9,1210.5 216.5,1210.5Z" fill="#161616" filter="url(#bl)"/>
<path d="M257.5,1210.5 Q273.8,1210.5 290.1,1210.5 Q294.7,1210.5 293.6,1214.0 Q294.7,1217.5 290.1,1217.5 Q273.8,1217.5 257.5,1217.5 Q252.9,1217.5 254.0,1214.0 Q252.9,1210.5 257.5,1210.5Z" fill="#161616" filter="url(#bl)"/>
<path d="M299.5,1210.7 Q314.5,1210.7 329.5,1210.7 Q334.1,1210.7 333.0,1214.2 Q334.1,1217.7 329.5,1217.7 Q314.5,1217.7 299.5,1217.7 Q294.9,1217.7 296.0,1214.2 Q294.9,1210.7 299.5,1210.7Z" fill="#161616" filter="url(#bl)"/>
<rect x="206.9" y="1188.8" width="126.6" height="42.9" fill="none" stroke="#151515" stroke-width="1.4" />
<text x="408.9" y="1099.9" font-size="13.5" text-anchor="middle" >HMLER</text>
<line x1="348.8" y1="1107.6" x2="469.0" y2="1107.6" stroke="#000" stroke-width="1.6"/>
<text x="367.2" y="1122.0" font-size="13.5" text-anchor="middle" >N</text>
<text x="411.3" y="1122.0" font-size="13.5" text-anchor="middle" >H24</text>
<text x="451.2" y="1122.0" font-size="13.5" text-anchor="middle" >H48</text>
<rect x="347.9" y="1132.3" width="127.6" height="45.1" fill="#acacac" stroke="none" stroke-width="0" />
<path d="M411.0,1137.0 Q414.0,1137.0 417.0,1137.0 Q431.3,1137.0 428.0,1148.0 Q431.3,1159.0 417.0,1159.0 Q414.0,1159.0 411.0,1159.0 Q396.7,1159.0 400.0,1148.0 Q396.7,1137.0 411.0,1137.0Z" fill="#a2a2a2" filter="url(#bl)"/>
<path d="M356.1,1148.9 Q368.8,1147.2 381.5,1145.5 Q387.3,1145.5 386.0,1150.0 Q387.3,1154.5 381.5,1154.5 Q368.8,1154.8 356.1,1155.1 Q352.1,1155.1 353.0,1152.0 Q352.1,1148.9 356.1,1148.9Z" fill="#161616" filter="url(#bl)"/>
<path d="M402.2,1144.2 Q414.0,1144.2 425.8,1144.2 Q428.7,1144.2 428.0,1146.5 Q428.7,1148.8 425.8,1148.8 Q414.0,1148.8 402.2,1148.8 Q399.3,1148.8 400.0,1146.5 Q399.3,1144.2 402.2,1144.2Z" fill="#7a7a7a" filter="url(#bl)"/>
<path d="M401.5,1149.5 Q414.0,1149.5 426.5,1149.5 Q428.4,1149.5 428.0,1151.0 Q428.4,1152.5 426.5,1152.5 Q414.0,1152.5 401.5,1152.5 Q399.6,1152.5 400.0,1151.0 Q399.6,1149.5 401.5,1149.5Z" fill="#8a8a8a" filter="url(#bl)"/>
<path d="M442.0,1146.0 Q455.0,1146.0 468.0,1146.0 Q470.6,1146.0 470.0,1148.0 Q470.6,1150.0 468.0,1150.0 Q455.0,1150.0 442.0,1150.0 Q439.4,1150.0 440.0,1148.0 Q439.4,1146.0 442.0,1146.0Z" fill="#a2a2a2" filter="url(#bl)"/>
<rect x="347.9" y="1132.3" width="127.6" height="45.1" fill="none" stroke="#151515" stroke-width="1.4" />
<rect x="347.9" y="1189.4" width="127.6" height="50.6" fill="#a6a6a6" stroke="none" stroke-width="0" />
<path d="M355.3,1210.0 Q369.5,1210.0 383.7,1210.0 Q388.0,1210.0 387.0,1213.3 Q388.0,1216.6 383.7,1216.6 Q369.5,1216.6 355.3,1216.6 Q351.0,1216.6 352.0,1213.3 Q351.0,1210.0 355.3,1210.0Z" fill="#161616" filter="url(#bl)"/>
<path d="M397.3,1210.0 Q411.5,1210.0 425.7,1210.0 Q430.0,1210.0 429.0,1213.3 Q430.0,1216.6 425.7,1216.6 Q411.5,1216.6 397.3,1216.6 Q393.0,1216.6 394.0,1213.3 Q393.0,1210.0 397.3,1210.0Z" fill="#161616" filter="url(#bl)"/>
<path d="M437.3,1210.0 Q452.2,1210.0 467.1,1210.0 Q471.4,1210.0 470.4,1213.3 Q471.4,1216.6 467.1,1216.6 Q452.2,1216.6 437.3,1216.6 Q433.0,1216.6 434.0,1213.3 Q433.0,1210.0 437.3,1210.0Z" fill="#161616" filter="url(#bl)"/>
<rect x="347.9" y="1189.4" width="127.6" height="50.6" fill="none" stroke="#151515" stroke-width="1.4" />
<text x="59.0" y="1006.1" font-size="13.5" text-anchor="end" >DICER</text>
<text x="59.6" y="1056.9" font-size="13.5" text-anchor="end" >Tubulin</text>
<text x="59.0" y="1160.3" font-size="13.5" text-anchor="end" >DICER</text>
<text x="59.6" y="1213.6" font-size="13.5" text-anchor="end" >Tubulin</text>
</svg></body></html>
